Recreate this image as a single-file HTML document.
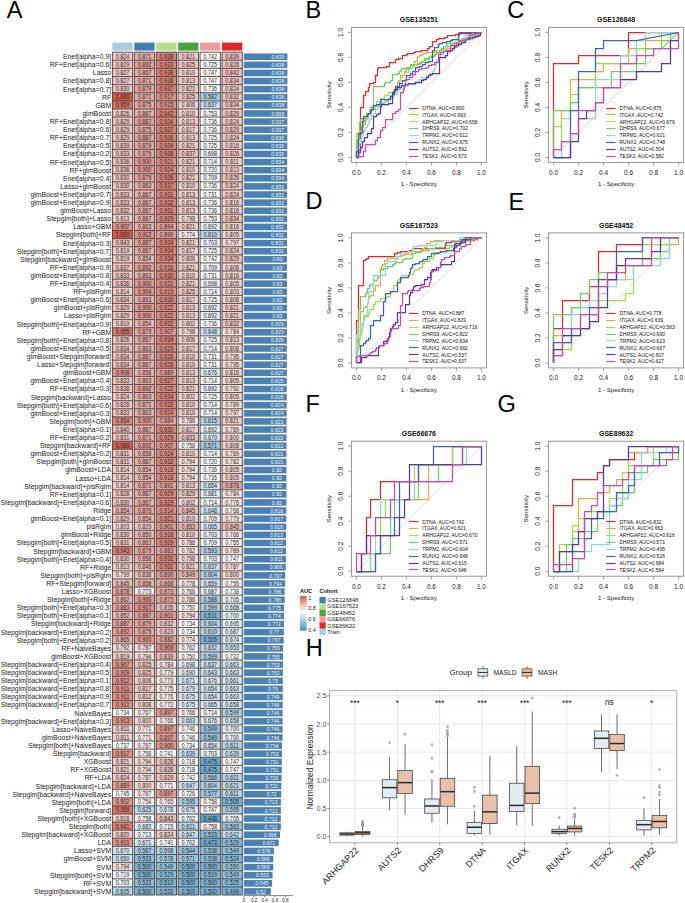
<!DOCTYPE html><html><head><meta charset="utf-8"><title>Figure</title><style>html,body{margin:0;padding:0;background:#fff;width:685px;height:903px;overflow:hidden}svg{display:block}</style></head><body>
<svg width="685" height="903" viewBox="0 0 685 903" font-family='"Liberation Sans", sans-serif'>
<rect width="685" height="903" fill="#fff"/>
<text x="6.7" y="17.8" font-size="23.5" fill="#000">A</text>
<rect x="112.4" y="42.6" width="20.3" height="8" fill="#A6CEE3"/>
<rect x="134.32" y="42.6" width="20.3" height="8" fill="#3F7DB4"/>
<rect x="156.24" y="42.6" width="20.3" height="8" fill="#B2DF8A"/>
<rect x="178.16" y="42.6" width="20.3" height="8" fill="#46A33E"/>
<rect x="200.08" y="42.6" width="20.3" height="8" fill="#F09A9C"/>
<rect x="222" y="42.6" width="20.3" height="8" fill="#DD2A27"/>
<rect x="112.4" y="52.2" width="20.3" height="8.1" fill="#f0cac5"/>
<rect x="134.32" y="52.2" width="20.3" height="8.1" fill="#e7aca5"/>
<rect x="156.24" y="52.2" width="20.3" height="8.1" fill="#db8177"/>
<rect x="178.16" y="52.2" width="20.3" height="8.1" fill="#f0ccc7"/>
<rect x="200.08" y="52.2" width="20.3" height="8.1" fill="#fffefe"/>
<rect x="222" y="52.2" width="20.3" height="8.1" fill="#edc0bb"/>
<rect x="112.4" y="60.3" width="20.3" height="8.1" fill="#efc7c2"/>
<rect x="134.32" y="60.3" width="20.3" height="8.1" fill="#e49f96"/>
<rect x="156.24" y="60.3" width="20.3" height="8.1" fill="#dc857a"/>
<rect x="178.16" y="60.3" width="20.3" height="8.1" fill="#f0c9c4"/>
<rect x="200.08" y="60.3" width="20.3" height="8.1" fill="#f7fafc"/>
<rect x="222" y="60.3" width="20.3" height="8.1" fill="#efc8c4"/>
<rect x="112.4" y="68.41" width="20.3" height="8.1" fill="#efc8c3"/>
<rect x="134.32" y="68.41" width="20.3" height="8.1" fill="#e8aea8"/>
<rect x="156.24" y="68.41" width="20.3" height="8.1" fill="#db8177"/>
<rect x="178.16" y="68.41" width="20.3" height="8.1" fill="#f2d3cf"/>
<rect x="200.08" y="68.41" width="20.3" height="8.1" fill="#fefbfa"/>
<rect x="222" y="68.41" width="20.3" height="8.1" fill="#edbeb9"/>
<rect x="112.4" y="76.51" width="20.3" height="8.1" fill="#efc8c3"/>
<rect x="134.32" y="76.51" width="20.3" height="8.1" fill="#e7aca5"/>
<rect x="156.24" y="76.51" width="20.3" height="8.1" fill="#dc8378"/>
<rect x="178.16" y="76.51" width="20.3" height="8.1" fill="#f2d1cd"/>
<rect x="200.08" y="76.51" width="20.3" height="8.1" fill="#fefbfa"/>
<rect x="222" y="76.51" width="20.3" height="8.1" fill="#eec3be"/>
<rect x="112.4" y="84.62" width="20.3" height="8.1" fill="#efc6c1"/>
<rect x="134.32" y="84.62" width="20.3" height="8.1" fill="#e6a79f"/>
<rect x="156.24" y="84.62" width="20.3" height="8.1" fill="#db8277"/>
<rect x="178.16" y="84.62" width="20.3" height="8.1" fill="#f0ccc7"/>
<rect x="200.08" y="84.62" width="20.3" height="8.1" fill="#fdfefe"/>
<rect x="222" y="84.62" width="20.3" height="8.1" fill="#f0cac5"/>
<rect x="112.4" y="92.72" width="20.3" height="8.1" fill="#D05A4C"/>
<rect x="134.32" y="92.72" width="20.3" height="8.1" fill="#e7aca5"/>
<rect x="156.24" y="92.72" width="20.3" height="8.1" fill="#df8f85"/>
<rect x="178.16" y="92.72" width="20.3" height="8.1" fill="#f0c9c4"/>
<rect x="200.08" y="92.72" width="20.3" height="8.1" fill="#a8cde3"/>
<rect x="222" y="92.72" width="20.3" height="8.1" fill="#eec5c0"/>
<rect x="112.4" y="100.82" width="20.3" height="8.1" fill="#d77468"/>
<rect x="134.32" y="100.82" width="20.3" height="8.1" fill="#e7a9a2"/>
<rect x="156.24" y="100.82" width="20.3" height="8.1" fill="#df9087"/>
<rect x="178.16" y="100.82" width="20.3" height="8.1" fill="#f3d5d2"/>
<rect x="200.08" y="100.82" width="20.3" height="8.1" fill="#c6deed"/>
<rect x="222" y="100.82" width="20.3" height="8.1" fill="#eec3be"/>
<rect x="112.4" y="108.93" width="20.3" height="8.1" fill="#efc8c4"/>
<rect x="134.32" y="108.93" width="20.3" height="8.1" fill="#e8aea8"/>
<rect x="156.24" y="108.93" width="20.3" height="8.1" fill="#da7f74"/>
<rect x="178.16" y="108.93" width="20.3" height="8.1" fill="#f2d3cf"/>
<rect x="200.08" y="108.93" width="20.3" height="8.1" fill="#fdf7f6"/>
<rect x="222" y="108.93" width="20.3" height="8.1" fill="#efc7c2"/>
<rect x="112.4" y="117.03" width="20.3" height="8.1" fill="#efc7c2"/>
<rect x="134.32" y="117.03" width="20.3" height="8.1" fill="#e4a29a"/>
<rect x="156.24" y="117.03" width="20.3" height="8.1" fill="#dc8479"/>
<rect x="178.16" y="117.03" width="20.3" height="8.1" fill="#f2d1cd"/>
<rect x="200.08" y="117.03" width="20.3" height="8.1" fill="#fdfefe"/>
<rect x="222" y="117.03" width="20.3" height="8.1" fill="#f0cac5"/>
<rect x="112.4" y="125.14" width="20.3" height="8.1" fill="#efc7c2"/>
<rect x="134.32" y="125.14" width="20.3" height="8.1" fill="#e7a9a2"/>
<rect x="156.24" y="125.14" width="20.3" height="8.1" fill="#db8277"/>
<rect x="178.16" y="125.14" width="20.3" height="8.1" fill="#f1ceca"/>
<rect x="200.08" y="125.14" width="20.3" height="8.1" fill="#fdfefe"/>
<rect x="222" y="125.14" width="20.3" height="8.1" fill="#efc7c2"/>
<rect x="112.4" y="133.24" width="20.3" height="8.1" fill="#efc7c2"/>
<rect x="134.32" y="133.24" width="20.3" height="8.1" fill="#e4a29a"/>
<rect x="156.24" y="133.24" width="20.3" height="8.1" fill="#dc8378"/>
<rect x="178.16" y="133.24" width="20.3" height="8.1" fill="#f2d1cd"/>
<rect x="200.08" y="133.24" width="20.3" height="8.1" fill="#f7fafc"/>
<rect x="222" y="133.24" width="20.3" height="8.1" fill="#f0cac5"/>
<rect x="112.4" y="141.34" width="20.3" height="8.1" fill="#edc0bb"/>
<rect x="134.32" y="141.34" width="20.3" height="8.1" fill="#e6a79f"/>
<rect x="156.24" y="141.34" width="20.3" height="8.1" fill="#dc8479"/>
<rect x="178.16" y="141.34" width="20.3" height="8.1" fill="#f0ccc7"/>
<rect x="200.08" y="141.34" width="20.3" height="8.1" fill="#f7fafc"/>
<rect x="222" y="141.34" width="20.3" height="8.1" fill="#f1cfcb"/>
<rect x="112.4" y="149.45" width="20.3" height="8.1" fill="#eec4bf"/>
<rect x="134.32" y="149.45" width="20.3" height="8.1" fill="#e7a9a2"/>
<rect x="156.24" y="149.45" width="20.3" height="8.1" fill="#db8177"/>
<rect x="178.16" y="149.45" width="20.3" height="8.1" fill="#edc1bc"/>
<rect x="200.08" y="149.45" width="20.3" height="8.1" fill="#e8f2f8"/>
<rect x="222" y="149.45" width="20.3" height="8.1" fill="#efc8c4"/>
<rect x="112.4" y="157.55" width="20.3" height="8.1" fill="#eec2bd"/>
<rect x="134.32" y="157.55" width="20.3" height="8.1" fill="#e29991"/>
<rect x="156.24" y="157.55" width="20.3" height="8.1" fill="#de8c82"/>
<rect x="178.16" y="157.55" width="20.3" height="8.1" fill="#f0ccc7"/>
<rect x="200.08" y="157.55" width="20.3" height="8.1" fill="#f1f7fa"/>
<rect x="222" y="157.55" width="20.3" height="8.1" fill="#f2d2ce"/>
<rect x="112.4" y="165.66" width="20.3" height="8.1" fill="#eec2bd"/>
<rect x="134.32" y="165.66" width="20.3" height="8.1" fill="#e29991"/>
<rect x="156.24" y="165.66" width="20.3" height="8.1" fill="#de8a80"/>
<rect x="178.16" y="165.66" width="20.3" height="8.1" fill="#f2d3cf"/>
<rect x="200.08" y="165.66" width="20.3" height="8.1" fill="#f4f9fb"/>
<rect x="222" y="165.66" width="20.3" height="8.1" fill="#f2d1cd"/>
<rect x="112.4" y="173.76" width="20.3" height="8.1" fill="#efc6c1"/>
<rect x="134.32" y="173.76" width="20.3" height="8.1" fill="#e6a79f"/>
<rect x="156.24" y="173.76" width="20.3" height="8.1" fill="#dc8378"/>
<rect x="178.16" y="173.76" width="20.3" height="8.1" fill="#f0ccc7"/>
<rect x="200.08" y="173.76" width="20.3" height="8.1" fill="#eef5fa"/>
<rect x="222" y="173.76" width="20.3" height="8.1" fill="#efc8c4"/>
<rect x="112.4" y="181.86" width="20.3" height="8.1" fill="#efc6c1"/>
<rect x="134.32" y="181.86" width="20.3" height="8.1" fill="#e9b1aa"/>
<rect x="156.24" y="181.86" width="20.3" height="8.1" fill="#db8277"/>
<rect x="178.16" y="181.86" width="20.3" height="8.1" fill="#f2d3cf"/>
<rect x="200.08" y="181.86" width="20.3" height="8.1" fill="#fdfefe"/>
<rect x="222" y="181.86" width="20.3" height="8.1" fill="#f0cac5"/>
<rect x="112.4" y="189.97" width="20.3" height="8.1" fill="#eec4bf"/>
<rect x="134.32" y="189.97" width="20.3" height="8.1" fill="#e8aea8"/>
<rect x="156.24" y="189.97" width="20.3" height="8.1" fill="#dc867c"/>
<rect x="178.16" y="189.97" width="20.3" height="8.1" fill="#f2d1cd"/>
<rect x="200.08" y="189.97" width="20.3" height="8.1" fill="#fafcfd"/>
<rect x="222" y="189.97" width="20.3" height="8.1" fill="#f0cac5"/>
<rect x="112.4" y="198.07" width="20.3" height="8.1" fill="#eec4bf"/>
<rect x="134.32" y="198.07" width="20.3" height="8.1" fill="#e8aea8"/>
<rect x="156.24" y="198.07" width="20.3" height="8.1" fill="#dc857b"/>
<rect x="178.16" y="198.07" width="20.3" height="8.1" fill="#f2d1cd"/>
<rect x="200.08" y="198.07" width="20.3" height="8.1" fill="#fdfefe"/>
<rect x="222" y="198.07" width="20.3" height="8.1" fill="#f1cfcb"/>
<rect x="112.4" y="206.18" width="20.3" height="8.1" fill="#eec5c0"/>
<rect x="134.32" y="206.18" width="20.3" height="8.1" fill="#e8aea8"/>
<rect x="156.24" y="206.18" width="20.3" height="8.1" fill="#dc867c"/>
<rect x="178.16" y="206.18" width="20.3" height="8.1" fill="#f2d1cd"/>
<rect x="200.08" y="206.18" width="20.3" height="8.1" fill="#fdfefe"/>
<rect x="222" y="206.18" width="20.3" height="8.1" fill="#f1cfcb"/>
<rect x="112.4" y="214.28" width="20.3" height="8.1" fill="#f2d1cd"/>
<rect x="134.32" y="214.28" width="20.3" height="8.1" fill="#e8aea8"/>
<rect x="156.24" y="214.28" width="20.3" height="8.1" fill="#dd877d"/>
<rect x="178.16" y="214.28" width="20.3" height="8.1" fill="#f5dad7"/>
<rect x="200.08" y="214.28" width="20.3" height="8.1" fill="#fdf7f6"/>
<rect x="222" y="214.28" width="20.3" height="8.1" fill="#eec3be"/>
<rect x="112.4" y="222.38" width="20.3" height="8.1" fill="#e1958c"/>
<rect x="134.32" y="222.38" width="20.3" height="8.1" fill="#e9b1aa"/>
<rect x="156.24" y="222.38" width="20.3" height="8.1" fill="#e39d95"/>
<rect x="178.16" y="222.38" width="20.3" height="8.1" fill="#f0ccc7"/>
<rect x="200.08" y="222.38" width="20.3" height="8.1" fill="#e4f0f7"/>
<rect x="222" y="222.38" width="20.3" height="8.1" fill="#f1cfcb"/>
<rect x="112.4" y="230.49" width="20.3" height="8.1" fill="#D05A4C"/>
<rect x="134.32" y="230.49" width="20.3" height="8.1" fill="#e09289"/>
<rect x="156.24" y="230.49" width="20.3" height="8.1" fill="#e4a098"/>
<rect x="178.16" y="230.49" width="20.3" height="8.1" fill="#f9e9e8"/>
<rect x="200.08" y="230.49" width="20.3" height="8.1" fill="#b7d6e8"/>
<rect x="222" y="230.49" width="20.3" height="8.1" fill="#f3d6d2"/>
<rect x="112.4" y="238.59" width="20.3" height="8.1" fill="#ecbeb8"/>
<rect x="134.32" y="238.59" width="20.3" height="8.1" fill="#e4a29a"/>
<rect x="156.24" y="238.59" width="20.3" height="8.1" fill="#dc8479"/>
<rect x="178.16" y="238.59" width="20.3" height="8.1" fill="#f0ccc7"/>
<rect x="200.08" y="238.59" width="20.3" height="8.1" fill="#ebf3f8"/>
<rect x="222" y="238.59" width="20.3" height="8.1" fill="#f5dbd8"/>
<rect x="112.4" y="246.7" width="20.3" height="8.1" fill="#f1cdc9"/>
<rect x="134.32" y="246.7" width="20.3" height="8.1" fill="#e8aea8"/>
<rect x="156.24" y="246.7" width="20.3" height="8.1" fill="#dc8479"/>
<rect x="178.16" y="246.7" width="20.3" height="8.1" fill="#f1ceca"/>
<rect x="200.08" y="246.7" width="20.3" height="8.1" fill="#f7fafc"/>
<rect x="222" y="246.7" width="20.3" height="8.1" fill="#f0cac5"/>
<rect x="112.4" y="254.8" width="20.3" height="8.1" fill="#f1cdc9"/>
<rect x="134.32" y="254.8" width="20.3" height="8.1" fill="#eab7b1"/>
<rect x="156.24" y="254.8" width="20.3" height="8.1" fill="#dc8479"/>
<rect x="178.16" y="254.8" width="20.3" height="8.1" fill="#f3d5d2"/>
<rect x="200.08" y="254.8" width="20.3" height="8.1" fill="#fffefe"/>
<rect x="222" y="254.8" width="20.3" height="8.1" fill="#efc7c2"/>
<rect x="112.4" y="262.9" width="20.3" height="8.1" fill="#edc1bc"/>
<rect x="134.32" y="262.9" width="20.3" height="8.1" fill="#e49f96"/>
<rect x="156.24" y="262.9" width="20.3" height="8.1" fill="#df8f86"/>
<rect x="178.16" y="262.9" width="20.3" height="8.1" fill="#f0ccc7"/>
<rect x="200.08" y="262.9" width="20.3" height="8.1" fill="#eef5fa"/>
<rect x="222" y="262.9" width="20.3" height="8.1" fill="#f3d4d0"/>
<rect x="112.4" y="271.01" width="20.3" height="8.1" fill="#eec4bf"/>
<rect x="134.32" y="271.01" width="20.3" height="8.1" fill="#e9b1aa"/>
<rect x="156.24" y="271.01" width="20.3" height="8.1" fill="#dd867c"/>
<rect x="178.16" y="271.01" width="20.3" height="8.1" fill="#f2d3cf"/>
<rect x="200.08" y="271.01" width="20.3" height="8.1" fill="#fafcfd"/>
<rect x="222" y="271.01" width="20.3" height="8.1" fill="#f1cfcb"/>
<rect x="112.4" y="279.11" width="20.3" height="8.1" fill="#eec2bd"/>
<rect x="134.32" y="279.11" width="20.3" height="8.1" fill="#e29991"/>
<rect x="156.24" y="279.11" width="20.3" height="8.1" fill="#de8c82"/>
<rect x="178.16" y="279.11" width="20.3" height="8.1" fill="#f0ccc7"/>
<rect x="200.08" y="279.11" width="20.3" height="8.1" fill="#e8f2f8"/>
<rect x="222" y="279.11" width="20.3" height="8.1" fill="#f3d6d2"/>
<rect x="112.4" y="287.22" width="20.3" height="8.1" fill="#f2d0cc"/>
<rect x="134.32" y="287.22" width="20.3" height="8.1" fill="#e1978e"/>
<rect x="156.24" y="287.22" width="20.3" height="8.1" fill="#df8d84"/>
<rect x="178.16" y="287.22" width="20.3" height="8.1" fill="#f0c9c4"/>
<rect x="200.08" y="287.22" width="20.3" height="8.1" fill="#f1f7fa"/>
<rect x="222" y="287.22" width="20.3" height="8.1" fill="#f4d7d4"/>
<rect x="112.4" y="295.32" width="20.3" height="8.1" fill="#eec3be"/>
<rect x="134.32" y="295.32" width="20.3" height="8.1" fill="#e9b1aa"/>
<rect x="156.24" y="295.32" width="20.3" height="8.1" fill="#dd867c"/>
<rect x="178.16" y="295.32" width="20.3" height="8.1" fill="#f1ceca"/>
<rect x="200.08" y="295.32" width="20.3" height="8.1" fill="#f7fafc"/>
<rect x="222" y="295.32" width="20.3" height="8.1" fill="#f3d4d0"/>
<rect x="112.4" y="303.42" width="20.3" height="8.1" fill="#efc7c2"/>
<rect x="134.32" y="303.42" width="20.3" height="8.1" fill="#e29991"/>
<rect x="156.24" y="303.42" width="20.3" height="8.1" fill="#de8b82"/>
<rect x="178.16" y="303.42" width="20.3" height="8.1" fill="#f2d1cd"/>
<rect x="200.08" y="303.42" width="20.3" height="8.1" fill="#e4f0f7"/>
<rect x="222" y="303.42" width="20.3" height="8.1" fill="#f0ccc7"/>
<rect x="112.4" y="311.53" width="20.3" height="8.1" fill="#efc7c2"/>
<rect x="134.32" y="311.53" width="20.3" height="8.1" fill="#e29991"/>
<rect x="156.24" y="311.53" width="20.3" height="8.1" fill="#de8b82"/>
<rect x="178.16" y="311.53" width="20.3" height="8.1" fill="#f2d1cd"/>
<rect x="200.08" y="311.53" width="20.3" height="8.1" fill="#e4f0f7"/>
<rect x="222" y="311.53" width="20.3" height="8.1" fill="#f0ccc7"/>
<rect x="112.4" y="319.63" width="20.3" height="8.1" fill="#f1cdc9"/>
<rect x="134.32" y="319.63" width="20.3" height="8.1" fill="#eab7b1"/>
<rect x="156.24" y="319.63" width="20.3" height="8.1" fill="#dc857b"/>
<rect x="178.16" y="319.63" width="20.3" height="8.1" fill="#f4d8d4"/>
<rect x="200.08" y="319.63" width="20.3" height="8.1" fill="#fdfefe"/>
<rect x="222" y="319.63" width="20.3" height="8.1" fill="#eec5c0"/>
<rect x="112.4" y="327.74" width="20.3" height="8.1" fill="#d8776b"/>
<rect x="134.32" y="327.74" width="20.3" height="8.1" fill="#e6a79f"/>
<rect x="156.24" y="327.74" width="20.3" height="8.1" fill="#e1958c"/>
<rect x="178.16" y="327.74" width="20.3" height="8.1" fill="#f5dad7"/>
<rect x="200.08" y="327.74" width="20.3" height="8.1" fill="#cce2ef"/>
<rect x="222" y="327.74" width="20.3" height="8.1" fill="#f7e3e1"/>
<rect x="112.4" y="335.84" width="20.3" height="8.1" fill="#efc8c4"/>
<rect x="134.32" y="335.84" width="20.3" height="8.1" fill="#e8aea8"/>
<rect x="156.24" y="335.84" width="20.3" height="8.1" fill="#dc8479"/>
<rect x="178.16" y="335.84" width="20.3" height="8.1" fill="#f3d5d2"/>
<rect x="200.08" y="335.84" width="20.3" height="8.1" fill="#f7fafc"/>
<rect x="222" y="335.84" width="20.3" height="8.1" fill="#f2d1cd"/>
<rect x="112.4" y="343.94" width="20.3" height="8.1" fill="#eec3be"/>
<rect x="134.32" y="343.94" width="20.3" height="8.1" fill="#e9b1aa"/>
<rect x="156.24" y="343.94" width="20.3" height="8.1" fill="#dd877d"/>
<rect x="178.16" y="343.94" width="20.3" height="8.1" fill="#f1ceca"/>
<rect x="200.08" y="343.94" width="20.3" height="8.1" fill="#f1f7fa"/>
<rect x="222" y="343.94" width="20.3" height="8.1" fill="#f3d4d0"/>
<rect x="112.4" y="352.05" width="20.3" height="8.1" fill="#eec3be"/>
<rect x="134.32" y="352.05" width="20.3" height="8.1" fill="#e8aea8"/>
<rect x="156.24" y="352.05" width="20.3" height="8.1" fill="#dd897f"/>
<rect x="178.16" y="352.05" width="20.3" height="8.1" fill="#f2d3cf"/>
<rect x="200.08" y="352.05" width="20.3" height="8.1" fill="#fafcfd"/>
<rect x="222" y="352.05" width="20.3" height="8.1" fill="#f5dcd9"/>
<rect x="112.4" y="360.15" width="20.3" height="8.1" fill="#eec3be"/>
<rect x="134.32" y="360.15" width="20.3" height="8.1" fill="#e8aea8"/>
<rect x="156.24" y="360.15" width="20.3" height="8.1" fill="#dd897f"/>
<rect x="178.16" y="360.15" width="20.3" height="8.1" fill="#f2d3cf"/>
<rect x="200.08" y="360.15" width="20.3" height="8.1" fill="#fafcfd"/>
<rect x="222" y="360.15" width="20.3" height="8.1" fill="#f5dcd9"/>
<rect x="112.4" y="368.26" width="20.3" height="8.1" fill="#e1948b"/>
<rect x="134.32" y="368.26" width="20.3" height="8.1" fill="#eab4ae"/>
<rect x="156.24" y="368.26" width="20.3" height="8.1" fill="#e4a098"/>
<rect x="178.16" y="368.26" width="20.3" height="8.1" fill="#f2d1cd"/>
<rect x="200.08" y="368.26" width="20.3" height="8.1" fill="#dcebf4"/>
<rect x="222" y="368.26" width="20.3" height="8.1" fill="#f1cfcb"/>
<rect x="112.4" y="376.36" width="20.3" height="8.1" fill="#eec4bf"/>
<rect x="134.32" y="376.36" width="20.3" height="8.1" fill="#e9b1aa"/>
<rect x="156.24" y="376.36" width="20.3" height="8.1" fill="#dd887e"/>
<rect x="178.16" y="376.36" width="20.3" height="8.1" fill="#f2d1cd"/>
<rect x="200.08" y="376.36" width="20.3" height="8.1" fill="#f1f7fa"/>
<rect x="222" y="376.36" width="20.3" height="8.1" fill="#f3d6d2"/>
<rect x="112.4" y="384.46" width="20.3" height="8.1" fill="#edc1bc"/>
<rect x="134.32" y="384.46" width="20.3" height="8.1" fill="#e49f96"/>
<rect x="156.24" y="384.46" width="20.3" height="8.1" fill="#de8b82"/>
<rect x="178.16" y="384.46" width="20.3" height="8.1" fill="#f0ccc7"/>
<rect x="200.08" y="384.46" width="20.3" height="8.1" fill="#e4f0f7"/>
<rect x="222" y="384.46" width="20.3" height="8.1" fill="#f6dedb"/>
<rect x="112.4" y="392.57" width="20.3" height="8.1" fill="#f0cac5"/>
<rect x="134.32" y="392.57" width="20.3" height="8.1" fill="#e9b1aa"/>
<rect x="156.24" y="392.57" width="20.3" height="8.1" fill="#dc8479"/>
<rect x="178.16" y="392.57" width="20.3" height="8.1" fill="#f4d8d4"/>
<rect x="200.08" y="392.57" width="20.3" height="8.1" fill="#f7fafc"/>
<rect x="222" y="392.57" width="20.3" height="8.1" fill="#f3d6d2"/>
<rect x="112.4" y="400.67" width="20.3" height="8.1" fill="#efc7c2"/>
<rect x="134.32" y="400.67" width="20.3" height="8.1" fill="#e7aca5"/>
<rect x="156.24" y="400.67" width="20.3" height="8.1" fill="#dc857b"/>
<rect x="178.16" y="400.67" width="20.3" height="8.1" fill="#f2d3cf"/>
<rect x="200.08" y="400.67" width="20.3" height="8.1" fill="#f1f7fa"/>
<rect x="222" y="400.67" width="20.3" height="8.1" fill="#f6e0dd"/>
<rect x="112.4" y="408.78" width="20.3" height="8.1" fill="#eec4bf"/>
<rect x="134.32" y="408.78" width="20.3" height="8.1" fill="#e9b1aa"/>
<rect x="156.24" y="408.78" width="20.3" height="8.1" fill="#de8a80"/>
<rect x="178.16" y="408.78" width="20.3" height="8.1" fill="#f2d3cf"/>
<rect x="200.08" y="408.78" width="20.3" height="8.1" fill="#f1f7fa"/>
<rect x="222" y="408.78" width="20.3" height="8.1" fill="#f5dbd8"/>
<rect x="112.4" y="416.88" width="20.3" height="8.1" fill="#dc8479"/>
<rect x="134.32" y="416.88" width="20.3" height="8.1" fill="#e29991"/>
<rect x="156.24" y="416.88" width="20.3" height="8.1" fill="#e5a49c"/>
<rect x="178.16" y="416.88" width="20.3" height="8.1" fill="#f7e2df"/>
<rect x="200.08" y="416.88" width="20.3" height="8.1" fill="#bad7e9"/>
<rect x="222" y="416.88" width="20.3" height="8.1" fill="#f0ccc7"/>
<rect x="112.4" y="424.98" width="20.3" height="8.1" fill="#edc0ba"/>
<rect x="134.32" y="424.98" width="20.3" height="8.1" fill="#e8aea8"/>
<rect x="156.24" y="424.98" width="20.3" height="8.1" fill="#dd867c"/>
<rect x="178.16" y="424.98" width="20.3" height="8.1" fill="#f1ceca"/>
<rect x="200.08" y="424.98" width="20.3" height="8.1" fill="#e4f0f7"/>
<rect x="222" y="424.98" width="20.3" height="8.1" fill="#f6e0dd"/>
<rect x="112.4" y="433.09" width="20.3" height="8.1" fill="#efc5c0"/>
<rect x="134.32" y="433.09" width="20.3" height="8.1" fill="#e7aca5"/>
<rect x="156.24" y="433.09" width="20.3" height="8.1" fill="#dd877d"/>
<rect x="178.16" y="433.09" width="20.3" height="8.1" fill="#eec4bf"/>
<rect x="200.08" y="433.09" width="20.3" height="8.1" fill="#d8e9f3"/>
<rect x="222" y="433.09" width="20.3" height="8.1" fill="#f4d9d6"/>
<rect x="112.4" y="441.19" width="20.3" height="8.1" fill="#d26154"/>
<rect x="134.32" y="441.19" width="20.3" height="8.1" fill="#e49f96"/>
<rect x="156.24" y="441.19" width="20.3" height="8.1" fill="#e1958c"/>
<rect x="178.16" y="441.19" width="20.3" height="8.1" fill="#fcf4f3"/>
<rect x="200.08" y="441.19" width="20.3" height="8.1" fill="#a2c9e1"/>
<rect x="222" y="441.19" width="20.3" height="8.1" fill="#f3d4d0"/>
<rect x="112.4" y="449.3" width="20.3" height="8.1" fill="#efc5c0"/>
<rect x="134.32" y="449.3" width="20.3" height="8.1" fill="#eab4ae"/>
<rect x="156.24" y="449.3" width="20.3" height="8.1" fill="#de8a80"/>
<rect x="178.16" y="449.3" width="20.3" height="8.1" fill="#f2d3cf"/>
<rect x="200.08" y="449.3" width="20.3" height="8.1" fill="#f1f7fa"/>
<rect x="222" y="449.3" width="20.3" height="8.1" fill="#f6e0dd"/>
<rect x="112.4" y="457.4" width="20.3" height="8.1" fill="#efc5c0"/>
<rect x="134.32" y="457.4" width="20.3" height="8.1" fill="#e8aea8"/>
<rect x="156.24" y="457.4" width="20.3" height="8.1" fill="#dc857b"/>
<rect x="178.16" y="457.4" width="20.3" height="8.1" fill="#f5ddda"/>
<rect x="200.08" y="457.4" width="20.3" height="8.1" fill="#f4f9fb"/>
<rect x="222" y="457.4" width="20.3" height="8.1" fill="#f7e4e2"/>
<rect x="112.4" y="465.5" width="20.3" height="8.1" fill="#f2d0cc"/>
<rect x="134.32" y="465.5" width="20.3" height="8.1" fill="#eab7b1"/>
<rect x="156.24" y="465.5" width="20.3" height="8.1" fill="#df8e84"/>
<rect x="178.16" y="465.5" width="20.3" height="8.1" fill="#f5ddda"/>
<rect x="200.08" y="465.5" width="20.3" height="8.1" fill="#fdfefe"/>
<rect x="222" y="465.5" width="20.3" height="8.1" fill="#f3d6d2"/>
<rect x="112.4" y="473.61" width="20.3" height="8.1" fill="#f2d0cc"/>
<rect x="134.32" y="473.61" width="20.3" height="8.1" fill="#eab7b1"/>
<rect x="156.24" y="473.61" width="20.3" height="8.1" fill="#df8e84"/>
<rect x="178.16" y="473.61" width="20.3" height="8.1" fill="#f5ddda"/>
<rect x="200.08" y="473.61" width="20.3" height="8.1" fill="#fdfefe"/>
<rect x="222" y="473.61" width="20.3" height="8.1" fill="#f3d6d2"/>
<rect x="112.4" y="481.71" width="20.3" height="8.1" fill="#f2d0cc"/>
<rect x="134.32" y="481.71" width="20.3" height="8.1" fill="#e7aca5"/>
<rect x="156.24" y="481.71" width="20.3" height="8.1" fill="#e49f97"/>
<rect x="178.16" y="481.71" width="20.3" height="8.1" fill="#f2d1cd"/>
<rect x="200.08" y="481.71" width="20.3" height="8.1" fill="#cfe4f0"/>
<rect x="222" y="481.71" width="20.3" height="8.1" fill="#e6a9a1"/>
<rect x="112.4" y="489.82" width="20.3" height="8.1" fill="#efc7c2"/>
<rect x="134.32" y="489.82" width="20.3" height="8.1" fill="#e8aea8"/>
<rect x="156.24" y="489.82" width="20.3" height="8.1" fill="#dd877d"/>
<rect x="178.16" y="489.82" width="20.3" height="8.1" fill="#efc7c2"/>
<rect x="200.08" y="489.82" width="20.3" height="8.1" fill="#deecf5"/>
<rect x="222" y="489.82" width="20.3" height="8.1" fill="#f7e3e1"/>
<rect x="112.4" y="497.92" width="20.3" height="8.1" fill="#efc6c1"/>
<rect x="134.32" y="497.92" width="20.3" height="8.1" fill="#e8aea8"/>
<rect x="156.24" y="497.92" width="20.3" height="8.1" fill="#dd877d"/>
<rect x="178.16" y="497.92" width="20.3" height="8.1" fill="#f4d8d4"/>
<rect x="200.08" y="497.92" width="20.3" height="8.1" fill="#f1f7fa"/>
<rect x="222" y="497.92" width="20.3" height="8.1" fill="#f8e8e6"/>
<rect x="112.4" y="506.02" width="20.3" height="8.1" fill="#eab7b1"/>
<rect x="134.32" y="506.02" width="20.3" height="8.1" fill="#e6a79f"/>
<rect x="156.24" y="506.02" width="20.3" height="8.1" fill="#e09187"/>
<rect x="178.16" y="506.02" width="20.3" height="8.1" fill="#ecbcb7"/>
<rect x="200.08" y="506.02" width="20.3" height="8.1" fill="#cce2ef"/>
<rect x="222" y="506.02" width="20.3" height="8.1" fill="#faedec"/>
<rect x="112.4" y="514.13" width="20.3" height="8.1" fill="#efc7c2"/>
<rect x="134.32" y="514.13" width="20.3" height="8.1" fill="#eab7b1"/>
<rect x="156.24" y="514.13" width="20.3" height="8.1" fill="#de8c82"/>
<rect x="178.16" y="514.13" width="20.3" height="8.1" fill="#f2d3cf"/>
<rect x="200.08" y="514.13" width="20.3" height="8.1" fill="#eef5fa"/>
<rect x="222" y="514.13" width="20.3" height="8.1" fill="#f8e6e4"/>
<rect x="112.4" y="522.23" width="20.3" height="8.1" fill="#f4d7d4"/>
<rect x="134.32" y="522.23" width="20.3" height="8.1" fill="#efc7c2"/>
<rect x="156.24" y="522.23" width="20.3" height="8.1" fill="#e29990"/>
<rect x="178.16" y="522.23" width="20.3" height="8.1" fill="#ebb7b1"/>
<rect x="200.08" y="522.23" width="20.3" height="8.1" fill="#d6e7f2"/>
<rect x="222" y="522.23" width="20.3" height="8.1" fill="#ecbcb7"/>
<rect x="112.4" y="530.34" width="20.3" height="8.1" fill="#efc6c1"/>
<rect x="134.32" y="530.34" width="20.3" height="8.1" fill="#ebb9b3"/>
<rect x="156.24" y="530.34" width="20.3" height="8.1" fill="#df8e84"/>
<rect x="178.16" y="530.34" width="20.3" height="8.1" fill="#f2d3cf"/>
<rect x="200.08" y="530.34" width="20.3" height="8.1" fill="#ebf3f8"/>
<rect x="222" y="530.34" width="20.3" height="8.1" fill="#faedec"/>
<rect x="112.4" y="538.44" width="20.3" height="8.1" fill="#efc5c0"/>
<rect x="134.32" y="538.44" width="20.3" height="8.1" fill="#e9b1aa"/>
<rect x="156.24" y="538.44" width="20.3" height="8.1" fill="#dd877d"/>
<rect x="178.16" y="538.44" width="20.3" height="8.1" fill="#f7e2df"/>
<rect x="200.08" y="538.44" width="20.3" height="8.1" fill="#eef5fa"/>
<rect x="222" y="538.44" width="20.3" height="8.1" fill="#fcf5f5"/>
<rect x="112.4" y="546.54" width="20.3" height="8.1" fill="#da7e73"/>
<rect x="134.32" y="546.54" width="20.3" height="8.1" fill="#e6a79f"/>
<rect x="156.24" y="546.54" width="20.3" height="8.1" fill="#e5a49d"/>
<rect x="178.16" y="546.54" width="20.3" height="8.1" fill="#f7e4e2"/>
<rect x="200.08" y="546.54" width="20.3" height="8.1" fill="#aed0e5"/>
<rect x="222" y="546.54" width="20.3" height="8.1" fill="#f6e0dd"/>
<rect x="112.4" y="554.65" width="20.3" height="8.1" fill="#efc6c1"/>
<rect x="134.32" y="554.65" width="20.3" height="8.1" fill="#eab4ae"/>
<rect x="156.24" y="554.65" width="20.3" height="8.1" fill="#dc867c"/>
<rect x="178.16" y="554.65" width="20.3" height="8.1" fill="#f5dad7"/>
<rect x="200.08" y="554.65" width="20.3" height="8.1" fill="#ebf3f8"/>
<rect x="222" y="554.65" width="20.3" height="8.1" fill="#fefbfa"/>
<rect x="112.4" y="562.75" width="20.3" height="8.1" fill="#f2d1cd"/>
<rect x="134.32" y="562.75" width="20.3" height="8.1" fill="#ecbcb6"/>
<rect x="156.24" y="562.75" width="20.3" height="8.1" fill="#dc867c"/>
<rect x="178.16" y="562.75" width="20.3" height="8.1" fill="#f0ccc7"/>
<rect x="200.08" y="562.75" width="20.3" height="8.1" fill="#c6deed"/>
<rect x="222" y="562.75" width="20.3" height="8.1" fill="#f7e1df"/>
<rect x="112.4" y="570.86" width="20.3" height="8.1" fill="#f4dad6"/>
<rect x="134.32" y="570.86" width="20.3" height="8.1" fill="#edc1bc"/>
<rect x="156.24" y="570.86" width="20.3" height="8.1" fill="#e4a098"/>
<rect x="178.16" y="570.86" width="20.3" height="8.1" fill="#ebbab4"/>
<rect x="200.08" y="570.86" width="20.3" height="8.1" fill="#b4d4e7"/>
<rect x="222" y="570.86" width="20.3" height="8.1" fill="#f4d9d6"/>
<rect x="112.4" y="578.96" width="20.3" height="8.1" fill="#ecbcb7"/>
<rect x="134.32" y="578.96" width="20.3" height="8.1" fill="#eab4ae"/>
<rect x="156.24" y="578.96" width="20.3" height="8.1" fill="#e8aea7"/>
<rect x="178.16" y="578.96" width="20.3" height="8.1" fill="#f8e7e5"/>
<rect x="200.08" y="578.96" width="20.3" height="8.1" fill="#d2e5f1"/>
<rect x="222" y="578.96" width="20.3" height="8.1" fill="#fcf5f5"/>
<rect x="112.4" y="587.06" width="20.3" height="8.1" fill="#e6a7a0"/>
<rect x="134.32" y="587.06" width="20.3" height="8.1" fill="#f9eae8"/>
<rect x="156.24" y="587.06" width="20.3" height="8.1" fill="#e7aba3"/>
<rect x="178.16" y="587.06" width="20.3" height="8.1" fill="#faeeed"/>
<rect x="200.08" y="587.06" width="20.3" height="8.1" fill="#e2eef6"/>
<rect x="222" y="587.06" width="20.3" height="8.1" fill="#fefeff"/>
<rect x="112.4" y="595.17" width="20.3" height="8.1" fill="#e9b2ab"/>
<rect x="134.32" y="595.17" width="20.3" height="8.1" fill="#e29991"/>
<rect x="156.24" y="595.17" width="20.3" height="8.1" fill="#e7aba3"/>
<rect x="178.16" y="595.17" width="20.3" height="8.1" fill="#f7e2df"/>
<rect x="200.08" y="595.17" width="20.3" height="8.1" fill="#abcfe4"/>
<rect x="222" y="595.17" width="20.3" height="8.1" fill="#ecf4f9"/>
<rect x="112.4" y="603.27" width="20.3" height="8.1" fill="#e5a49d"/>
<rect x="134.32" y="603.27" width="20.3" height="8.1" fill="#df8f85"/>
<rect x="156.24" y="603.27" width="20.3" height="8.1" fill="#eec3be"/>
<rect x="178.16" y="603.27" width="20.3" height="8.1" fill="#fdf9f8"/>
<rect x="200.08" y="603.27" width="20.3" height="8.1" fill="#b1d2e6"/>
<rect x="222" y="603.27" width="20.3" height="8.1" fill="#d7e8f2"/>
<rect x="112.4" y="611.38" width="20.3" height="8.1" fill="#ebb8b2"/>
<rect x="134.32" y="611.38" width="20.3" height="8.1" fill="#e4a29a"/>
<rect x="156.24" y="611.38" width="20.3" height="8.1" fill="#e29990"/>
<rect x="178.16" y="611.38" width="20.3" height="8.1" fill="#f5ddda"/>
<rect x="200.08" y="611.38" width="20.3" height="8.1" fill="#80b6d7"/>
<rect x="222" y="611.38" width="20.3" height="8.1" fill="#e9f2f8"/>
<rect x="112.4" y="619.48" width="20.3" height="8.1" fill="#e4a29a"/>
<rect x="134.32" y="619.48" width="20.3" height="8.1" fill="#e6a79f"/>
<rect x="156.24" y="619.48" width="20.3" height="8.1" fill="#eec5c0"/>
<rect x="178.16" y="619.48" width="20.3" height="8.1" fill="#fcfdfe"/>
<rect x="200.08" y="619.48" width="20.3" height="8.1" fill="#b4d4e7"/>
<rect x="222" y="619.48" width="20.3" height="8.1" fill="#e6f1f7"/>
<rect x="112.4" y="627.58" width="20.3" height="8.1" fill="#e49f96"/>
<rect x="134.32" y="627.58" width="20.3" height="8.1" fill="#e7a9a2"/>
<rect x="156.24" y="627.58" width="20.3" height="8.1" fill="#f0cac6"/>
<rect x="178.16" y="627.58" width="20.3" height="8.1" fill="#fcfdfe"/>
<rect x="200.08" y="627.58" width="20.3" height="8.1" fill="#b7d6e8"/>
<rect x="222" y="627.58" width="20.3" height="8.1" fill="#e2eef6"/>
<rect x="112.4" y="635.69" width="20.3" height="8.1" fill="#e8b0a9"/>
<rect x="134.32" y="635.69" width="20.3" height="8.1" fill="#e29991"/>
<rect x="156.24" y="635.69" width="20.3" height="8.1" fill="#e5a59d"/>
<rect x="178.16" y="635.69" width="20.3" height="8.1" fill="#f9e9e8"/>
<rect x="200.08" y="635.69" width="20.3" height="8.1" fill="#7db4d6"/>
<rect x="222" y="635.69" width="20.3" height="8.1" fill="#dbeaf3"/>
<rect x="112.4" y="643.79" width="20.3" height="8.1" fill="#f6dedb"/>
<rect x="134.32" y="643.79" width="20.3" height="8.1" fill="#f7e1df"/>
<rect x="156.24" y="643.79" width="20.3" height="8.1" fill="#e0948b"/>
<rect x="178.16" y="643.79" width="20.3" height="8.1" fill="#fbf1f0"/>
<rect x="200.08" y="643.79" width="20.3" height="8.1" fill="#c3ddec"/>
<rect x="222" y="643.79" width="20.3" height="8.1" fill="#cfe3f0"/>
<rect x="112.4" y="651.9" width="20.3" height="8.1" fill="#f1cdc9"/>
<rect x="134.32" y="651.9" width="20.3" height="8.1" fill="#f5ddda"/>
<rect x="156.24" y="651.9" width="20.3" height="8.1" fill="#edc0bb"/>
<rect x="178.16" y="651.9" width="20.3" height="8.1" fill="#fdf9f8"/>
<rect x="200.08" y="651.9" width="20.3" height="8.1" fill="#b1d2e6"/>
<rect x="222" y="651.9" width="20.3" height="8.1" fill="#fbfcfe"/>
<rect x="112.4" y="660" width="20.3" height="8.1" fill="#e1958c"/>
<rect x="134.32" y="660" width="20.3" height="8.1" fill="#f0c9c4"/>
<rect x="156.24" y="660" width="20.3" height="8.1" fill="#f7e3e1"/>
<rect x="178.16" y="660" width="20.3" height="8.1" fill="#e8f2f8"/>
<rect x="200.08" y="660" width="20.3" height="8.1" fill="#c6deed"/>
<rect x="222" y="660" width="20.3" height="8.1" fill="#d4e7f1"/>
<rect x="112.4" y="668.1" width="20.3" height="8.1" fill="#e0948b"/>
<rect x="134.32" y="668.1" width="20.3" height="8.1" fill="#f0c9c4"/>
<rect x="156.24" y="668.1" width="20.3" height="8.1" fill="#f8e6e4"/>
<rect x="178.16" y="668.1" width="20.3" height="8.1" fill="#e3eff6"/>
<rect x="200.08" y="668.1" width="20.3" height="8.1" fill="#c9e0ee"/>
<rect x="222" y="668.1" width="20.3" height="8.1" fill="#d4e7f1"/>
<rect x="112.4" y="676.21" width="20.3" height="8.1" fill="#e09289"/>
<rect x="134.32" y="676.21" width="20.3" height="8.1" fill="#f3d4d0"/>
<rect x="156.24" y="676.21" width="20.3" height="8.1" fill="#f9eae8"/>
<rect x="178.16" y="676.21" width="20.3" height="8.1" fill="#d9e9f3"/>
<rect x="200.08" y="676.21" width="20.3" height="8.1" fill="#dcebf4"/>
<rect x="222" y="676.21" width="20.3" height="8.1" fill="#d3e6f1"/>
<rect x="112.4" y="684.31" width="20.3" height="8.1" fill="#e09289"/>
<rect x="134.32" y="684.31" width="20.3" height="8.1" fill="#f1ceca"/>
<rect x="156.24" y="684.31" width="20.3" height="8.1" fill="#f9e9e7"/>
<rect x="178.16" y="684.31" width="20.3" height="8.1" fill="#ddecf4"/>
<rect x="200.08" y="684.31" width="20.3" height="8.1" fill="#cfe4f0"/>
<rect x="222" y="684.31" width="20.3" height="8.1" fill="#d4e7f1"/>
<rect x="112.4" y="692.42" width="20.3" height="8.1" fill="#e09289"/>
<rect x="134.32" y="692.42" width="20.3" height="8.1" fill="#f2d1cd"/>
<rect x="156.24" y="692.42" width="20.3" height="8.1" fill="#f8e8e6"/>
<rect x="178.16" y="692.42" width="20.3" height="8.1" fill="#dbeaf4"/>
<rect x="200.08" y="692.42" width="20.3" height="8.1" fill="#cfe4f0"/>
<rect x="222" y="692.42" width="20.3" height="8.1" fill="#d4e7f1"/>
<rect x="112.4" y="700.52" width="20.3" height="8.1" fill="#e09289"/>
<rect x="134.32" y="700.52" width="20.3" height="8.1" fill="#f3d4d0"/>
<rect x="156.24" y="700.52" width="20.3" height="8.1" fill="#f9ebe9"/>
<rect x="178.16" y="700.52" width="20.3" height="8.1" fill="#dbeaf4"/>
<rect x="200.08" y="700.52" width="20.3" height="8.1" fill="#d6e7f2"/>
<rect x="222" y="700.52" width="20.3" height="8.1" fill="#d2e5f1"/>
<rect x="112.4" y="708.62" width="20.3" height="8.1" fill="#fcfdfe"/>
<rect x="134.32" y="708.62" width="20.3" height="8.1" fill="#faeeec"/>
<rect x="156.24" y="708.62" width="20.3" height="8.1" fill="#e39b93"/>
<rect x="178.16" y="708.62" width="20.3" height="8.1" fill="#faeeed"/>
<rect x="200.08" y="708.62" width="20.3" height="8.1" fill="#f1f7fa"/>
<rect x="222" y="708.62" width="20.3" height="8.1" fill="#b1d2e6"/>
<rect x="112.4" y="716.73" width="20.3" height="8.1" fill="#e09188"/>
<rect x="134.32" y="716.73" width="20.3" height="8.1" fill="#f4d9d6"/>
<rect x="156.24" y="716.73" width="20.3" height="8.1" fill="#faeeed"/>
<rect x="178.16" y="716.73" width="20.3" height="8.1" fill="#d4e7f1"/>
<rect x="200.08" y="716.73" width="20.3" height="8.1" fill="#dcebf4"/>
<rect x="222" y="716.73" width="20.3" height="8.1" fill="#d2e5f1"/>
<rect x="112.4" y="724.83" width="20.3" height="8.1" fill="#f2d2ce"/>
<rect x="134.32" y="724.83" width="20.3" height="8.1" fill="#f9ebea"/>
<rect x="156.24" y="724.83" width="20.3" height="8.1" fill="#e39b93"/>
<rect x="178.16" y="724.83" width="20.3" height="8.1" fill="#fefbfb"/>
<rect x="200.08" y="724.83" width="20.3" height="8.1" fill="#95c2dd"/>
<rect x="222" y="724.83" width="20.3" height="8.1" fill="#e9f2f8"/>
<rect x="112.4" y="732.94" width="20.3" height="8.1" fill="#f2d2ce"/>
<rect x="134.32" y="732.94" width="20.3" height="8.1" fill="#f9ebea"/>
<rect x="156.24" y="732.94" width="20.3" height="8.1" fill="#e39b93"/>
<rect x="178.16" y="732.94" width="20.3" height="8.1" fill="#fefbfb"/>
<rect x="200.08" y="732.94" width="20.3" height="8.1" fill="#95c2dd"/>
<rect x="222" y="732.94" width="20.3" height="8.1" fill="#e9f2f8"/>
<rect x="112.4" y="741.04" width="20.3" height="8.1" fill="#fdfefe"/>
<rect x="134.32" y="741.04" width="20.3" height="8.1" fill="#faeeec"/>
<rect x="156.24" y="741.04" width="20.3" height="8.1" fill="#e29991"/>
<rect x="178.16" y="741.04" width="20.3" height="8.1" fill="#fcfdfe"/>
<rect x="200.08" y="741.04" width="20.3" height="8.1" fill="#cfe4f0"/>
<rect x="222" y="741.04" width="20.3" height="8.1" fill="#b8d6e8"/>
<rect x="112.4" y="749.14" width="20.3" height="8.1" fill="#df8f85"/>
<rect x="134.32" y="749.14" width="20.3" height="8.1" fill="#fcf4f3"/>
<rect x="156.24" y="749.14" width="20.3" height="8.1" fill="#fffefe"/>
<rect x="178.16" y="749.14" width="20.3" height="8.1" fill="#c7dfed"/>
<rect x="200.08" y="749.14" width="20.3" height="8.1" fill="#ebf3f8"/>
<rect x="222" y="749.14" width="20.3" height="8.1" fill="#c7dfed"/>
<rect x="112.4" y="757.25" width="20.3" height="8.1" fill="#f0ccc7"/>
<rect x="134.32" y="757.25" width="20.3" height="8.1" fill="#f5ddda"/>
<rect x="156.24" y="757.25" width="20.3" height="8.1" fill="#efc7c2"/>
<rect x="178.16" y="757.25" width="20.3" height="8.1" fill="#f3f8fb"/>
<rect x="200.08" y="757.25" width="20.3" height="8.1" fill="#6cabd0"/>
<rect x="222" y="757.25" width="20.3" height="8.1" fill="#fefbfa"/>
<rect x="112.4" y="765.35" width="20.3" height="8.1" fill="#f0ccc7"/>
<rect x="134.32" y="765.35" width="20.3" height="8.1" fill="#f5ddda"/>
<rect x="156.24" y="765.35" width="20.3" height="8.1" fill="#efc7c2"/>
<rect x="178.16" y="765.35" width="20.3" height="8.1" fill="#f3f8fb"/>
<rect x="200.08" y="765.35" width="20.3" height="8.1" fill="#6cabd0"/>
<rect x="222" y="765.35" width="20.3" height="8.1" fill="#fefbfa"/>
<rect x="112.4" y="773.46" width="20.3" height="8.1" fill="#f0cac5"/>
<rect x="134.32" y="773.46" width="20.3" height="8.1" fill="#f7e1df"/>
<rect x="156.24" y="773.46" width="20.3" height="8.1" fill="#efc7c2"/>
<rect x="178.16" y="773.46" width="20.3" height="8.1" fill="#fffefe"/>
<rect x="200.08" y="773.46" width="20.3" height="8.1" fill="#9fc8e0"/>
<rect x="222" y="773.46" width="20.3" height="8.1" fill="#b8d6e8"/>
<rect x="112.4" y="781.56" width="20.3" height="8.1" fill="#e4a098"/>
<rect x="134.32" y="781.56" width="20.3" height="8.1" fill="#f4d9d6"/>
<rect x="156.24" y="781.56" width="20.3" height="8.1" fill="#f9ebea"/>
<rect x="178.16" y="781.56" width="20.3" height="8.1" fill="#cce1ef"/>
<rect x="200.08" y="781.56" width="20.3" height="8.1" fill="#b4d4e7"/>
<rect x="222" y="781.56" width="20.3" height="8.1" fill="#bdd9ea"/>
<rect x="112.4" y="789.66" width="20.3" height="8.1" fill="#fefcfc"/>
<rect x="134.32" y="789.66" width="20.3" height="8.1" fill="#faeeec"/>
<rect x="156.24" y="789.66" width="20.3" height="8.1" fill="#e39b93"/>
<rect x="178.16" y="789.66" width="20.3" height="8.1" fill="#f7fbfd"/>
<rect x="200.08" y="789.66" width="20.3" height="8.1" fill="#a5cbe2"/>
<rect x="222" y="789.66" width="20.3" height="8.1" fill="#b8d6e8"/>
<rect x="112.4" y="797.77" width="20.3" height="8.1" fill="#e2988f"/>
<rect x="134.32" y="797.77" width="20.3" height="8.1" fill="#fcf6f5"/>
<rect x="156.24" y="797.77" width="20.3" height="8.1" fill="#faefee"/>
<rect x="178.16" y="797.77" width="20.3" height="8.1" fill="#afd1e5"/>
<rect x="200.08" y="797.77" width="20.3" height="8.1" fill="#fcf4f3"/>
<rect x="222" y="797.77" width="20.3" height="8.1" fill="#7db4d6"/>
<rect x="112.4" y="805.87" width="20.3" height="8.1" fill="#d8766a"/>
<rect x="134.32" y="805.87" width="20.3" height="8.1" fill="#bfdaeb"/>
<rect x="156.24" y="805.87" width="20.3" height="8.1" fill="#ddebf4"/>
<rect x="178.16" y="805.87" width="20.3" height="8.1" fill="#dbeaf4"/>
<rect x="200.08" y="805.87" width="20.3" height="8.1" fill="#fefbfa"/>
<rect x="222" y="805.87" width="20.3" height="8.1" fill="#afd1e5"/>
<rect x="112.4" y="813.98" width="20.3" height="8.1" fill="#f1cfcb"/>
<rect x="134.32" y="813.98" width="20.3" height="8.1" fill="#fcf4f3"/>
<rect x="156.24" y="813.98" width="20.3" height="8.1" fill="#ecbeb8"/>
<rect x="178.16" y="813.98" width="20.3" height="8.1" fill="#eaf3f8"/>
<rect x="200.08" y="813.98" width="20.3" height="8.1" fill="#5ea2cb"/>
<rect x="222" y="813.98" width="20.3" height="8.1" fill="#ecf4f9"/>
<rect x="112.4" y="822.08" width="20.3" height="8.1" fill="#db7f75"/>
<rect x="134.32" y="822.08" width="20.3" height="8.1" fill="#dfedf5"/>
<rect x="156.24" y="822.08" width="20.3" height="8.1" fill="#f1f7fb"/>
<rect x="178.16" y="822.08" width="20.3" height="8.1" fill="#b8d6e8"/>
<rect x="200.08" y="822.08" width="20.3" height="8.1" fill="#fcf4f3"/>
<rect x="222" y="822.08" width="20.3" height="8.1" fill="#9dc7e0"/>
<rect x="112.4" y="830.18" width="20.3" height="8.1" fill="#f1ccc8"/>
<rect x="134.32" y="830.18" width="20.3" height="8.1" fill="#f0f6fa"/>
<rect x="156.24" y="830.18" width="20.3" height="8.1" fill="#f0cac5"/>
<rect x="178.16" y="830.18" width="20.3" height="8.1" fill="#cce1ef"/>
<rect x="200.08" y="830.18" width="20.3" height="8.1" fill="#8dbdda"/>
<rect x="222" y="830.18" width="20.3" height="8.1" fill="#c9e0ee"/>
<rect x="112.4" y="838.29" width="20.3" height="8.1" fill="#e0938a"/>
<rect x="134.32" y="838.29" width="20.3" height="8.1" fill="#d9e9f3"/>
<rect x="156.24" y="838.29" width="20.3" height="8.1" fill="#ffffff"/>
<rect x="178.16" y="838.29" width="20.3" height="8.1" fill="#eaf3f8"/>
<rect x="200.08" y="838.29" width="20.3" height="8.1" fill="#6baad0"/>
<rect x="222" y="838.29" width="20.3" height="8.1" fill="#8abcda"/>
<rect x="112.4" y="846.39" width="20.3" height="8.1" fill="#d8e9f3"/>
<rect x="134.32" y="846.39" width="20.3" height="8.1" fill="#9fc8e0"/>
<rect x="156.24" y="846.39" width="20.3" height="8.1" fill="#b0d2e6"/>
<rect x="178.16" y="846.39" width="20.3" height="8.1" fill="#93c1dc"/>
<rect x="200.08" y="846.39" width="20.3" height="8.1" fill="#8fbfdb"/>
<rect x="222" y="846.39" width="20.3" height="8.1" fill="#95c2dd"/>
<rect x="112.4" y="854.5" width="20.3" height="8.1" fill="#cde2ef"/>
<rect x="134.32" y="854.5" width="20.3" height="8.1" fill="#8dbdda"/>
<rect x="156.24" y="854.5" width="20.3" height="8.1" fill="#a5cce2"/>
<rect x="178.16" y="854.5" width="20.3" height="8.1" fill="#a2c9e1"/>
<rect x="200.08" y="854.5" width="20.3" height="8.1" fill="#8fbfdb"/>
<rect x="222" y="854.5" width="20.3" height="8.1" fill="#88bad9"/>
<rect x="112.4" y="862.6" width="20.3" height="8.1" fill="#f5ddda"/>
<rect x="134.32" y="862.6" width="20.3" height="8.1" fill="#7ab3d5"/>
<rect x="156.24" y="862.6" width="20.3" height="8.1" fill="#95c2dd"/>
<rect x="178.16" y="862.6" width="20.3" height="8.1" fill="#7ab3d5"/>
<rect x="200.08" y="862.6" width="20.3" height="8.1" fill="#7ab3d5"/>
<rect x="222" y="862.6" width="20.3" height="8.1" fill="#96c3dd"/>
<rect x="112.4" y="870.7" width="20.3" height="8.1" fill="#f3f8fb"/>
<rect x="134.32" y="870.7" width="20.3" height="8.1" fill="#7ab3d5"/>
<rect x="156.24" y="870.7" width="20.3" height="8.1" fill="#8abcda"/>
<rect x="178.16" y="870.7" width="20.3" height="8.1" fill="#7ab3d5"/>
<rect x="200.08" y="870.7" width="20.3" height="8.1" fill="#85b9d8"/>
<rect x="222" y="870.7" width="20.3" height="8.1" fill="#95c2dd"/>
<rect x="112.4" y="878.81" width="20.3" height="8.1" fill="#ebf3f8"/>
<rect x="134.32" y="878.81" width="20.3" height="8.1" fill="#8dbdda"/>
<rect x="156.24" y="878.81" width="20.3" height="8.1" fill="#80b6d6"/>
<rect x="178.16" y="878.81" width="20.3" height="8.1" fill="#7ab3d5"/>
<rect x="200.08" y="878.81" width="20.3" height="8.1" fill="#7ab3d5"/>
<rect x="222" y="878.81" width="20.3" height="8.1" fill="#88bbd9"/>
<rect x="112.4" y="886.91" width="20.3" height="8.1" fill="#b4d4e7"/>
<rect x="134.32" y="886.91" width="20.3" height="8.1" fill="#7ab3d5"/>
<rect x="156.24" y="886.91" width="20.3" height="8.1" fill="#85b9d8"/>
<rect x="178.16" y="886.91" width="20.3" height="8.1" fill="#7ab3d5"/>
<rect x="200.08" y="886.91" width="20.3" height="8.1" fill="#7ab3d5"/>
<rect x="222" y="886.91" width="20.3" height="8.1" fill="#7ab2d4"/>
<path d="M112.4 52.2h20.3M112.4 60.3h20.3M112.4 68.41h20.3M112.4 76.51h20.3M112.4 84.62h20.3M112.4 92.72h20.3M112.4 100.82h20.3M112.4 108.93h20.3M112.4 117.03h20.3M112.4 125.14h20.3M112.4 133.24h20.3M112.4 141.34h20.3M112.4 149.45h20.3M112.4 157.55h20.3M112.4 165.66h20.3M112.4 173.76h20.3M112.4 181.86h20.3M112.4 189.97h20.3M112.4 198.07h20.3M112.4 206.18h20.3M112.4 214.28h20.3M112.4 222.38h20.3M112.4 230.49h20.3M112.4 238.59h20.3M112.4 246.7h20.3M112.4 254.8h20.3M112.4 262.9h20.3M112.4 271.01h20.3M112.4 279.11h20.3M112.4 287.22h20.3M112.4 295.32h20.3M112.4 303.42h20.3M112.4 311.53h20.3M112.4 319.63h20.3M112.4 327.74h20.3M112.4 335.84h20.3M112.4 343.94h20.3M112.4 352.05h20.3M112.4 360.15h20.3M112.4 368.26h20.3M112.4 376.36h20.3M112.4 384.46h20.3M112.4 392.57h20.3M112.4 400.67h20.3M112.4 408.78h20.3M112.4 416.88h20.3M112.4 424.98h20.3M112.4 433.09h20.3M112.4 441.19h20.3M112.4 449.3h20.3M112.4 457.4h20.3M112.4 465.5h20.3M112.4 473.61h20.3M112.4 481.71h20.3M112.4 489.82h20.3M112.4 497.92h20.3M112.4 506.02h20.3M112.4 514.13h20.3M112.4 522.23h20.3M112.4 530.34h20.3M112.4 538.44h20.3M112.4 546.54h20.3M112.4 554.65h20.3M112.4 562.75h20.3M112.4 570.86h20.3M112.4 578.96h20.3M112.4 587.06h20.3M112.4 595.17h20.3M112.4 603.27h20.3M112.4 611.38h20.3M112.4 619.48h20.3M112.4 627.58h20.3M112.4 635.69h20.3M112.4 643.79h20.3M112.4 651.9h20.3M112.4 660h20.3M112.4 668.1h20.3M112.4 676.21h20.3M112.4 684.31h20.3M112.4 692.42h20.3M112.4 700.52h20.3M112.4 708.62h20.3M112.4 716.73h20.3M112.4 724.83h20.3M112.4 732.94h20.3M112.4 741.04h20.3M112.4 749.14h20.3M112.4 757.25h20.3M112.4 765.35h20.3M112.4 773.46h20.3M112.4 781.56h20.3M112.4 789.66h20.3M112.4 797.77h20.3M112.4 805.87h20.3M112.4 813.98h20.3M112.4 822.08h20.3M112.4 830.18h20.3M112.4 838.29h20.3M112.4 846.39h20.3M112.4 854.5h20.3M112.4 862.6h20.3M112.4 870.7h20.3M112.4 878.81h20.3M112.4 886.91h20.3M112.4 895.02h20.3M112.4 52.2v842.82M132.7 52.2v842.82" stroke="#3a3232" stroke-width="0.85" fill="none"/>
<path d="M134.32 52.2h20.3M134.32 60.3h20.3M134.32 68.41h20.3M134.32 76.51h20.3M134.32 84.62h20.3M134.32 92.72h20.3M134.32 100.82h20.3M134.32 108.93h20.3M134.32 117.03h20.3M134.32 125.14h20.3M134.32 133.24h20.3M134.32 141.34h20.3M134.32 149.45h20.3M134.32 157.55h20.3M134.32 165.66h20.3M134.32 173.76h20.3M134.32 181.86h20.3M134.32 189.97h20.3M134.32 198.07h20.3M134.32 206.18h20.3M134.32 214.28h20.3M134.32 222.38h20.3M134.32 230.49h20.3M134.32 238.59h20.3M134.32 246.7h20.3M134.32 254.8h20.3M134.32 262.9h20.3M134.32 271.01h20.3M134.32 279.11h20.3M134.32 287.22h20.3M134.32 295.32h20.3M134.32 303.42h20.3M134.32 311.53h20.3M134.32 319.63h20.3M134.32 327.74h20.3M134.32 335.84h20.3M134.32 343.94h20.3M134.32 352.05h20.3M134.32 360.15h20.3M134.32 368.26h20.3M134.32 376.36h20.3M134.32 384.46h20.3M134.32 392.57h20.3M134.32 400.67h20.3M134.32 408.78h20.3M134.32 416.88h20.3M134.32 424.98h20.3M134.32 433.09h20.3M134.32 441.19h20.3M134.32 449.3h20.3M134.32 457.4h20.3M134.32 465.5h20.3M134.32 473.61h20.3M134.32 481.71h20.3M134.32 489.82h20.3M134.32 497.92h20.3M134.32 506.02h20.3M134.32 514.13h20.3M134.32 522.23h20.3M134.32 530.34h20.3M134.32 538.44h20.3M134.32 546.54h20.3M134.32 554.65h20.3M134.32 562.75h20.3M134.32 570.86h20.3M134.32 578.96h20.3M134.32 587.06h20.3M134.32 595.17h20.3M134.32 603.27h20.3M134.32 611.38h20.3M134.32 619.48h20.3M134.32 627.58h20.3M134.32 635.69h20.3M134.32 643.79h20.3M134.32 651.9h20.3M134.32 660h20.3M134.32 668.1h20.3M134.32 676.21h20.3M134.32 684.31h20.3M134.32 692.42h20.3M134.32 700.52h20.3M134.32 708.62h20.3M134.32 716.73h20.3M134.32 724.83h20.3M134.32 732.94h20.3M134.32 741.04h20.3M134.32 749.14h20.3M134.32 757.25h20.3M134.32 765.35h20.3M134.32 773.46h20.3M134.32 781.56h20.3M134.32 789.66h20.3M134.32 797.77h20.3M134.32 805.87h20.3M134.32 813.98h20.3M134.32 822.08h20.3M134.32 830.18h20.3M134.32 838.29h20.3M134.32 846.39h20.3M134.32 854.5h20.3M134.32 862.6h20.3M134.32 870.7h20.3M134.32 878.81h20.3M134.32 886.91h20.3M134.32 895.02h20.3M134.32 52.2v842.82M154.62 52.2v842.82" stroke="#3a3232" stroke-width="0.85" fill="none"/>
<path d="M156.24 52.2h20.3M156.24 60.3h20.3M156.24 68.41h20.3M156.24 76.51h20.3M156.24 84.62h20.3M156.24 92.72h20.3M156.24 100.82h20.3M156.24 108.93h20.3M156.24 117.03h20.3M156.24 125.14h20.3M156.24 133.24h20.3M156.24 141.34h20.3M156.24 149.45h20.3M156.24 157.55h20.3M156.24 165.66h20.3M156.24 173.76h20.3M156.24 181.86h20.3M156.24 189.97h20.3M156.24 198.07h20.3M156.24 206.18h20.3M156.24 214.28h20.3M156.24 222.38h20.3M156.24 230.49h20.3M156.24 238.59h20.3M156.24 246.7h20.3M156.24 254.8h20.3M156.24 262.9h20.3M156.24 271.01h20.3M156.24 279.11h20.3M156.24 287.22h20.3M156.24 295.32h20.3M156.24 303.42h20.3M156.24 311.53h20.3M156.24 319.63h20.3M156.24 327.74h20.3M156.24 335.84h20.3M156.24 343.94h20.3M156.24 352.05h20.3M156.24 360.15h20.3M156.24 368.26h20.3M156.24 376.36h20.3M156.24 384.46h20.3M156.24 392.57h20.3M156.24 400.67h20.3M156.24 408.78h20.3M156.24 416.88h20.3M156.24 424.98h20.3M156.24 433.09h20.3M156.24 441.19h20.3M156.24 449.3h20.3M156.24 457.4h20.3M156.24 465.5h20.3M156.24 473.61h20.3M156.24 481.71h20.3M156.24 489.82h20.3M156.24 497.92h20.3M156.24 506.02h20.3M156.24 514.13h20.3M156.24 522.23h20.3M156.24 530.34h20.3M156.24 538.44h20.3M156.24 546.54h20.3M156.24 554.65h20.3M156.24 562.75h20.3M156.24 570.86h20.3M156.24 578.96h20.3M156.24 587.06h20.3M156.24 595.17h20.3M156.24 603.27h20.3M156.24 611.38h20.3M156.24 619.48h20.3M156.24 627.58h20.3M156.24 635.69h20.3M156.24 643.79h20.3M156.24 651.9h20.3M156.24 660h20.3M156.24 668.1h20.3M156.24 676.21h20.3M156.24 684.31h20.3M156.24 692.42h20.3M156.24 700.52h20.3M156.24 708.62h20.3M156.24 716.73h20.3M156.24 724.83h20.3M156.24 732.94h20.3M156.24 741.04h20.3M156.24 749.14h20.3M156.24 757.25h20.3M156.24 765.35h20.3M156.24 773.46h20.3M156.24 781.56h20.3M156.24 789.66h20.3M156.24 797.77h20.3M156.24 805.87h20.3M156.24 813.98h20.3M156.24 822.08h20.3M156.24 830.18h20.3M156.24 838.29h20.3M156.24 846.39h20.3M156.24 854.5h20.3M156.24 862.6h20.3M156.24 870.7h20.3M156.24 878.81h20.3M156.24 886.91h20.3M156.24 895.02h20.3M156.24 52.2v842.82M176.54 52.2v842.82" stroke="#3a3232" stroke-width="0.85" fill="none"/>
<path d="M178.16 52.2h20.3M178.16 60.3h20.3M178.16 68.41h20.3M178.16 76.51h20.3M178.16 84.62h20.3M178.16 92.72h20.3M178.16 100.82h20.3M178.16 108.93h20.3M178.16 117.03h20.3M178.16 125.14h20.3M178.16 133.24h20.3M178.16 141.34h20.3M178.16 149.45h20.3M178.16 157.55h20.3M178.16 165.66h20.3M178.16 173.76h20.3M178.16 181.86h20.3M178.16 189.97h20.3M178.16 198.07h20.3M178.16 206.18h20.3M178.16 214.28h20.3M178.16 222.38h20.3M178.16 230.49h20.3M178.16 238.59h20.3M178.16 246.7h20.3M178.16 254.8h20.3M178.16 262.9h20.3M178.16 271.01h20.3M178.16 279.11h20.3M178.16 287.22h20.3M178.16 295.32h20.3M178.16 303.42h20.3M178.16 311.53h20.3M178.16 319.63h20.3M178.16 327.74h20.3M178.16 335.84h20.3M178.16 343.94h20.3M178.16 352.05h20.3M178.16 360.15h20.3M178.16 368.26h20.3M178.16 376.36h20.3M178.16 384.46h20.3M178.16 392.57h20.3M178.16 400.67h20.3M178.16 408.78h20.3M178.16 416.88h20.3M178.16 424.98h20.3M178.16 433.09h20.3M178.16 441.19h20.3M178.16 449.3h20.3M178.16 457.4h20.3M178.16 465.5h20.3M178.16 473.61h20.3M178.16 481.71h20.3M178.16 489.82h20.3M178.16 497.92h20.3M178.16 506.02h20.3M178.16 514.13h20.3M178.16 522.23h20.3M178.16 530.34h20.3M178.16 538.44h20.3M178.16 546.54h20.3M178.16 554.65h20.3M178.16 562.75h20.3M178.16 570.86h20.3M178.16 578.96h20.3M178.16 587.06h20.3M178.16 595.17h20.3M178.16 603.27h20.3M178.16 611.38h20.3M178.16 619.48h20.3M178.16 627.58h20.3M178.16 635.69h20.3M178.16 643.79h20.3M178.16 651.9h20.3M178.16 660h20.3M178.16 668.1h20.3M178.16 676.21h20.3M178.16 684.31h20.3M178.16 692.42h20.3M178.16 700.52h20.3M178.16 708.62h20.3M178.16 716.73h20.3M178.16 724.83h20.3M178.16 732.94h20.3M178.16 741.04h20.3M178.16 749.14h20.3M178.16 757.25h20.3M178.16 765.35h20.3M178.16 773.46h20.3M178.16 781.56h20.3M178.16 789.66h20.3M178.16 797.77h20.3M178.16 805.87h20.3M178.16 813.98h20.3M178.16 822.08h20.3M178.16 830.18h20.3M178.16 838.29h20.3M178.16 846.39h20.3M178.16 854.5h20.3M178.16 862.6h20.3M178.16 870.7h20.3M178.16 878.81h20.3M178.16 886.91h20.3M178.16 895.02h20.3M178.16 52.2v842.82M198.46 52.2v842.82" stroke="#3a3232" stroke-width="0.85" fill="none"/>
<path d="M200.08 52.2h20.3M200.08 60.3h20.3M200.08 68.41h20.3M200.08 76.51h20.3M200.08 84.62h20.3M200.08 92.72h20.3M200.08 100.82h20.3M200.08 108.93h20.3M200.08 117.03h20.3M200.08 125.14h20.3M200.08 133.24h20.3M200.08 141.34h20.3M200.08 149.45h20.3M200.08 157.55h20.3M200.08 165.66h20.3M200.08 173.76h20.3M200.08 181.86h20.3M200.08 189.97h20.3M200.08 198.07h20.3M200.08 206.18h20.3M200.08 214.28h20.3M200.08 222.38h20.3M200.08 230.49h20.3M200.08 238.59h20.3M200.08 246.7h20.3M200.08 254.8h20.3M200.08 262.9h20.3M200.08 271.01h20.3M200.08 279.11h20.3M200.08 287.22h20.3M200.08 295.32h20.3M200.08 303.42h20.3M200.08 311.53h20.3M200.08 319.63h20.3M200.08 327.74h20.3M200.08 335.84h20.3M200.08 343.94h20.3M200.08 352.05h20.3M200.08 360.15h20.3M200.08 368.26h20.3M200.08 376.36h20.3M200.08 384.46h20.3M200.08 392.57h20.3M200.08 400.67h20.3M200.08 408.78h20.3M200.08 416.88h20.3M200.08 424.98h20.3M200.08 433.09h20.3M200.08 441.19h20.3M200.08 449.3h20.3M200.08 457.4h20.3M200.08 465.5h20.3M200.08 473.61h20.3M200.08 481.71h20.3M200.08 489.82h20.3M200.08 497.92h20.3M200.08 506.02h20.3M200.08 514.13h20.3M200.08 522.23h20.3M200.08 530.34h20.3M200.08 538.44h20.3M200.08 546.54h20.3M200.08 554.65h20.3M200.08 562.75h20.3M200.08 570.86h20.3M200.08 578.96h20.3M200.08 587.06h20.3M200.08 595.17h20.3M200.08 603.27h20.3M200.08 611.38h20.3M200.08 619.48h20.3M200.08 627.58h20.3M200.08 635.69h20.3M200.08 643.79h20.3M200.08 651.9h20.3M200.08 660h20.3M200.08 668.1h20.3M200.08 676.21h20.3M200.08 684.31h20.3M200.08 692.42h20.3M200.08 700.52h20.3M200.08 708.62h20.3M200.08 716.73h20.3M200.08 724.83h20.3M200.08 732.94h20.3M200.08 741.04h20.3M200.08 749.14h20.3M200.08 757.25h20.3M200.08 765.35h20.3M200.08 773.46h20.3M200.08 781.56h20.3M200.08 789.66h20.3M200.08 797.77h20.3M200.08 805.87h20.3M200.08 813.98h20.3M200.08 822.08h20.3M200.08 830.18h20.3M200.08 838.29h20.3M200.08 846.39h20.3M200.08 854.5h20.3M200.08 862.6h20.3M200.08 870.7h20.3M200.08 878.81h20.3M200.08 886.91h20.3M200.08 895.02h20.3M200.08 52.2v842.82M220.38 52.2v842.82" stroke="#3a3232" stroke-width="0.85" fill="none"/>
<path d="M222 52.2h20.3M222 60.3h20.3M222 68.41h20.3M222 76.51h20.3M222 84.62h20.3M222 92.72h20.3M222 100.82h20.3M222 108.93h20.3M222 117.03h20.3M222 125.14h20.3M222 133.24h20.3M222 141.34h20.3M222 149.45h20.3M222 157.55h20.3M222 165.66h20.3M222 173.76h20.3M222 181.86h20.3M222 189.97h20.3M222 198.07h20.3M222 206.18h20.3M222 214.28h20.3M222 222.38h20.3M222 230.49h20.3M222 238.59h20.3M222 246.7h20.3M222 254.8h20.3M222 262.9h20.3M222 271.01h20.3M222 279.11h20.3M222 287.22h20.3M222 295.32h20.3M222 303.42h20.3M222 311.53h20.3M222 319.63h20.3M222 327.74h20.3M222 335.84h20.3M222 343.94h20.3M222 352.05h20.3M222 360.15h20.3M222 368.26h20.3M222 376.36h20.3M222 384.46h20.3M222 392.57h20.3M222 400.67h20.3M222 408.78h20.3M222 416.88h20.3M222 424.98h20.3M222 433.09h20.3M222 441.19h20.3M222 449.3h20.3M222 457.4h20.3M222 465.5h20.3M222 473.61h20.3M222 481.71h20.3M222 489.82h20.3M222 497.92h20.3M222 506.02h20.3M222 514.13h20.3M222 522.23h20.3M222 530.34h20.3M222 538.44h20.3M222 546.54h20.3M222 554.65h20.3M222 562.75h20.3M222 570.86h20.3M222 578.96h20.3M222 587.06h20.3M222 595.17h20.3M222 603.27h20.3M222 611.38h20.3M222 619.48h20.3M222 627.58h20.3M222 635.69h20.3M222 643.79h20.3M222 651.9h20.3M222 660h20.3M222 668.1h20.3M222 676.21h20.3M222 684.31h20.3M222 692.42h20.3M222 700.52h20.3M222 708.62h20.3M222 716.73h20.3M222 724.83h20.3M222 732.94h20.3M222 741.04h20.3M222 749.14h20.3M222 757.25h20.3M222 765.35h20.3M222 773.46h20.3M222 781.56h20.3M222 789.66h20.3M222 797.77h20.3M222 805.87h20.3M222 813.98h20.3M222 822.08h20.3M222 830.18h20.3M222 838.29h20.3M222 846.39h20.3M222 854.5h20.3M222 862.6h20.3M222 870.7h20.3M222 878.81h20.3M222 886.91h20.3M222 895.02h20.3M222 52.2v842.82M242.3 52.2v842.82" stroke="#3a3232" stroke-width="0.85" fill="none"/>
<g font-size="6.5" fill="#1f1f1f" text-anchor="middle" lengthAdjust="spacingAndGlyphs">
<text x="122.55" y="58.8" textLength="13.6" lengthAdjust="spacingAndGlyphs">0.824</text>
<text x="144.47" y="58.8" textLength="13.6" lengthAdjust="spacingAndGlyphs">0.871</text>
<text x="166.39" y="58.8" textLength="13.6" lengthAdjust="spacingAndGlyphs">0.938</text>
<text x="188.31" y="58.8" textLength="13.6" lengthAdjust="spacingAndGlyphs">0.821</text>
<text x="210.23" y="58.8" textLength="13.6" lengthAdjust="spacingAndGlyphs">0.742</text>
<text x="232.15" y="58.8" textLength="13.6" lengthAdjust="spacingAndGlyphs">0.839</text>
<text x="122.55" y="66.91" textLength="13.6" lengthAdjust="spacingAndGlyphs">0.829</text>
<text x="144.47" y="66.91" textLength="13.6" lengthAdjust="spacingAndGlyphs">0.892</text>
<text x="166.39" y="66.91" textLength="13.6" lengthAdjust="spacingAndGlyphs">0.933</text>
<text x="188.31" y="66.91" textLength="13.6" lengthAdjust="spacingAndGlyphs">0.825</text>
<text x="210.23" y="66.91" textLength="13.6" lengthAdjust="spacingAndGlyphs">0.725</text>
<text x="232.15" y="66.91" textLength="13.6" lengthAdjust="spacingAndGlyphs">0.826</text>
<text x="122.55" y="75.01" textLength="13.6" lengthAdjust="spacingAndGlyphs">0.827</text>
<text x="144.47" y="75.01" textLength="13.6" lengthAdjust="spacingAndGlyphs">0.867</text>
<text x="166.39" y="75.01" textLength="13.6" lengthAdjust="spacingAndGlyphs">0.938</text>
<text x="188.31" y="75.01" textLength="13.6" lengthAdjust="spacingAndGlyphs">0.810</text>
<text x="210.23" y="75.01" textLength="13.6" lengthAdjust="spacingAndGlyphs">0.747</text>
<text x="232.15" y="75.01" textLength="13.6" lengthAdjust="spacingAndGlyphs">0.842</text>
<text x="122.55" y="83.11" textLength="13.6" lengthAdjust="spacingAndGlyphs">0.827</text>
<text x="144.47" y="83.11" textLength="13.6" lengthAdjust="spacingAndGlyphs">0.871</text>
<text x="166.39" y="83.11" textLength="13.6" lengthAdjust="spacingAndGlyphs">0.936</text>
<text x="188.31" y="83.11" textLength="13.6" lengthAdjust="spacingAndGlyphs">0.813</text>
<text x="210.23" y="83.11" textLength="13.6" lengthAdjust="spacingAndGlyphs">0.747</text>
<text x="232.15" y="83.11" textLength="13.6" lengthAdjust="spacingAndGlyphs">0.834</text>
<text x="122.55" y="91.22" textLength="13.6" lengthAdjust="spacingAndGlyphs">0.830</text>
<text x="144.47" y="91.22" textLength="13.6" lengthAdjust="spacingAndGlyphs">0.879</text>
<text x="166.39" y="91.22" textLength="13.6" lengthAdjust="spacingAndGlyphs">0.937</text>
<text x="188.31" y="91.22" textLength="13.6" lengthAdjust="spacingAndGlyphs">0.821</text>
<text x="210.23" y="91.22" textLength="13.6" lengthAdjust="spacingAndGlyphs">0.736</text>
<text x="232.15" y="91.22" textLength="13.6" lengthAdjust="spacingAndGlyphs">0.824</text>
<text x="122.55" y="99.32" textLength="13.6" lengthAdjust="spacingAndGlyphs">1.000</text>
<text x="144.47" y="99.32" textLength="13.6" lengthAdjust="spacingAndGlyphs">0.871</text>
<text x="166.39" y="99.32" textLength="13.6" lengthAdjust="spacingAndGlyphs">0.917</text>
<text x="188.31" y="99.32" textLength="13.6" lengthAdjust="spacingAndGlyphs">0.825</text>
<text x="210.23" y="99.32" textLength="13.6" lengthAdjust="spacingAndGlyphs">0.582</text>
<text x="232.15" y="99.32" textLength="13.6" lengthAdjust="spacingAndGlyphs">0.832</text>
<text x="122.55" y="107.43" textLength="13.6" lengthAdjust="spacingAndGlyphs">0.959</text>
<text x="144.47" y="107.43" textLength="13.6" lengthAdjust="spacingAndGlyphs">0.875</text>
<text x="166.39" y="107.43" textLength="13.6" lengthAdjust="spacingAndGlyphs">0.915</text>
<text x="188.31" y="107.43" textLength="13.6" lengthAdjust="spacingAndGlyphs">0.806</text>
<text x="210.23" y="107.43" textLength="13.6" lengthAdjust="spacingAndGlyphs">0.637</text>
<text x="232.15" y="107.43" textLength="13.6" lengthAdjust="spacingAndGlyphs">0.834</text>
<text x="122.55" y="115.53" textLength="13.6" lengthAdjust="spacingAndGlyphs">0.826</text>
<text x="144.47" y="115.53" textLength="13.6" lengthAdjust="spacingAndGlyphs">0.867</text>
<text x="166.39" y="115.53" textLength="13.6" lengthAdjust="spacingAndGlyphs">0.942</text>
<text x="188.31" y="115.53" textLength="13.6" lengthAdjust="spacingAndGlyphs">0.810</text>
<text x="210.23" y="115.53" textLength="13.6" lengthAdjust="spacingAndGlyphs">0.753</text>
<text x="232.15" y="115.53" textLength="13.6" lengthAdjust="spacingAndGlyphs">0.829</text>
<text x="122.55" y="123.63" textLength="13.6" lengthAdjust="spacingAndGlyphs">0.829</text>
<text x="144.47" y="123.63" textLength="13.6" lengthAdjust="spacingAndGlyphs">0.887</text>
<text x="166.39" y="123.63" textLength="13.6" lengthAdjust="spacingAndGlyphs">0.934</text>
<text x="188.31" y="123.63" textLength="13.6" lengthAdjust="spacingAndGlyphs">0.813</text>
<text x="210.23" y="123.63" textLength="13.6" lengthAdjust="spacingAndGlyphs">0.736</text>
<text x="232.15" y="123.63" textLength="13.6" lengthAdjust="spacingAndGlyphs">0.824</text>
<text x="122.55" y="131.74" textLength="13.6" lengthAdjust="spacingAndGlyphs">0.829</text>
<text x="144.47" y="131.74" textLength="13.6" lengthAdjust="spacingAndGlyphs">0.875</text>
<text x="166.39" y="131.74" textLength="13.6" lengthAdjust="spacingAndGlyphs">0.937</text>
<text x="188.31" y="131.74" textLength="13.6" lengthAdjust="spacingAndGlyphs">0.817</text>
<text x="210.23" y="131.74" textLength="13.6" lengthAdjust="spacingAndGlyphs">0.736</text>
<text x="232.15" y="131.74" textLength="13.6" lengthAdjust="spacingAndGlyphs">0.829</text>
<text x="122.55" y="139.84" textLength="13.6" lengthAdjust="spacingAndGlyphs">0.829</text>
<text x="144.47" y="139.84" textLength="13.6" lengthAdjust="spacingAndGlyphs">0.887</text>
<text x="166.39" y="139.84" textLength="13.6" lengthAdjust="spacingAndGlyphs">0.936</text>
<text x="188.31" y="139.84" textLength="13.6" lengthAdjust="spacingAndGlyphs">0.813</text>
<text x="210.23" y="139.84" textLength="13.6" lengthAdjust="spacingAndGlyphs">0.725</text>
<text x="232.15" y="139.84" textLength="13.6" lengthAdjust="spacingAndGlyphs">0.824</text>
<text x="122.55" y="147.95" textLength="13.6" lengthAdjust="spacingAndGlyphs">0.839</text>
<text x="144.47" y="147.95" textLength="13.6" lengthAdjust="spacingAndGlyphs">0.879</text>
<text x="166.39" y="147.95" textLength="13.6" lengthAdjust="spacingAndGlyphs">0.934</text>
<text x="188.31" y="147.95" textLength="13.6" lengthAdjust="spacingAndGlyphs">0.821</text>
<text x="210.23" y="147.95" textLength="13.6" lengthAdjust="spacingAndGlyphs">0.725</text>
<text x="232.15" y="147.95" textLength="13.6" lengthAdjust="spacingAndGlyphs">0.816</text>
<text x="122.55" y="156.05" textLength="13.6" lengthAdjust="spacingAndGlyphs">0.833</text>
<text x="144.47" y="156.05" textLength="13.6" lengthAdjust="spacingAndGlyphs">0.875</text>
<text x="166.39" y="156.05" textLength="13.6" lengthAdjust="spacingAndGlyphs">0.938</text>
<text x="188.31" y="156.05" textLength="13.6" lengthAdjust="spacingAndGlyphs">0.837</text>
<text x="210.23" y="156.05" textLength="13.6" lengthAdjust="spacingAndGlyphs">0.698</text>
<text x="232.15" y="156.05" textLength="13.6" lengthAdjust="spacingAndGlyphs">0.826</text>
<text x="122.55" y="164.15" textLength="13.6" lengthAdjust="spacingAndGlyphs">0.836</text>
<text x="144.47" y="164.15" textLength="13.6" lengthAdjust="spacingAndGlyphs">0.900</text>
<text x="166.39" y="164.15" textLength="13.6" lengthAdjust="spacingAndGlyphs">0.921</text>
<text x="188.31" y="164.15" textLength="13.6" lengthAdjust="spacingAndGlyphs">0.821</text>
<text x="210.23" y="164.15" textLength="13.6" lengthAdjust="spacingAndGlyphs">0.714</text>
<text x="232.15" y="164.15" textLength="13.6" lengthAdjust="spacingAndGlyphs">0.811</text>
<text x="122.55" y="172.26" textLength="13.6" lengthAdjust="spacingAndGlyphs">0.836</text>
<text x="144.47" y="172.26" textLength="13.6" lengthAdjust="spacingAndGlyphs">0.900</text>
<text x="166.39" y="172.26" textLength="13.6" lengthAdjust="spacingAndGlyphs">0.924</text>
<text x="188.31" y="172.26" textLength="13.6" lengthAdjust="spacingAndGlyphs">0.810</text>
<text x="210.23" y="172.26" textLength="13.6" lengthAdjust="spacingAndGlyphs">0.720</text>
<text x="232.15" y="172.26" textLength="13.6" lengthAdjust="spacingAndGlyphs">0.813</text>
<text x="122.55" y="180.36" textLength="13.6" lengthAdjust="spacingAndGlyphs">0.830</text>
<text x="144.47" y="180.36" textLength="13.6" lengthAdjust="spacingAndGlyphs">0.879</text>
<text x="166.39" y="180.36" textLength="13.6" lengthAdjust="spacingAndGlyphs">0.936</text>
<text x="188.31" y="180.36" textLength="13.6" lengthAdjust="spacingAndGlyphs">0.821</text>
<text x="210.23" y="180.36" textLength="13.6" lengthAdjust="spacingAndGlyphs">0.709</text>
<text x="232.15" y="180.36" textLength="13.6" lengthAdjust="spacingAndGlyphs">0.826</text>
<text x="122.55" y="188.47" textLength="13.6" lengthAdjust="spacingAndGlyphs">0.830</text>
<text x="144.47" y="188.47" textLength="13.6" lengthAdjust="spacingAndGlyphs">0.863</text>
<text x="166.39" y="188.47" textLength="13.6" lengthAdjust="spacingAndGlyphs">0.937</text>
<text x="188.31" y="188.47" textLength="13.6" lengthAdjust="spacingAndGlyphs">0.810</text>
<text x="210.23" y="188.47" textLength="13.6" lengthAdjust="spacingAndGlyphs">0.736</text>
<text x="232.15" y="188.47" textLength="13.6" lengthAdjust="spacingAndGlyphs">0.824</text>
<text x="122.55" y="196.57" textLength="13.6" lengthAdjust="spacingAndGlyphs">0.833</text>
<text x="144.47" y="196.57" textLength="13.6" lengthAdjust="spacingAndGlyphs">0.867</text>
<text x="166.39" y="196.57" textLength="13.6" lengthAdjust="spacingAndGlyphs">0.931</text>
<text x="188.31" y="196.57" textLength="13.6" lengthAdjust="spacingAndGlyphs">0.813</text>
<text x="210.23" y="196.57" textLength="13.6" lengthAdjust="spacingAndGlyphs">0.731</text>
<text x="232.15" y="196.57" textLength="13.6" lengthAdjust="spacingAndGlyphs">0.824</text>
<text x="122.55" y="204.67" textLength="13.6" lengthAdjust="spacingAndGlyphs">0.833</text>
<text x="144.47" y="204.67" textLength="13.6" lengthAdjust="spacingAndGlyphs">0.867</text>
<text x="166.39" y="204.67" textLength="13.6" lengthAdjust="spacingAndGlyphs">0.932</text>
<text x="188.31" y="204.67" textLength="13.6" lengthAdjust="spacingAndGlyphs">0.813</text>
<text x="210.23" y="204.67" textLength="13.6" lengthAdjust="spacingAndGlyphs">0.736</text>
<text x="232.15" y="204.67" textLength="13.6" lengthAdjust="spacingAndGlyphs">0.816</text>
<text x="122.55" y="212.78" textLength="13.6" lengthAdjust="spacingAndGlyphs">0.832</text>
<text x="144.47" y="212.78" textLength="13.6" lengthAdjust="spacingAndGlyphs">0.867</text>
<text x="166.39" y="212.78" textLength="13.6" lengthAdjust="spacingAndGlyphs">0.931</text>
<text x="188.31" y="212.78" textLength="13.6" lengthAdjust="spacingAndGlyphs">0.813</text>
<text x="210.23" y="212.78" textLength="13.6" lengthAdjust="spacingAndGlyphs">0.736</text>
<text x="232.15" y="212.78" textLength="13.6" lengthAdjust="spacingAndGlyphs">0.816</text>
<text x="122.55" y="220.88" textLength="13.6" lengthAdjust="spacingAndGlyphs">0.813</text>
<text x="144.47" y="220.88" textLength="13.6" lengthAdjust="spacingAndGlyphs">0.867</text>
<text x="166.39" y="220.88" textLength="13.6" lengthAdjust="spacingAndGlyphs">0.929</text>
<text x="188.31" y="220.88" textLength="13.6" lengthAdjust="spacingAndGlyphs">0.798</text>
<text x="210.23" y="220.88" textLength="13.6" lengthAdjust="spacingAndGlyphs">0.753</text>
<text x="232.15" y="220.88" textLength="13.6" lengthAdjust="spacingAndGlyphs">0.834</text>
<text x="122.55" y="228.99" textLength="13.6" lengthAdjust="spacingAndGlyphs">0.907</text>
<text x="144.47" y="228.99" textLength="13.6" lengthAdjust="spacingAndGlyphs">0.863</text>
<text x="166.39" y="228.99" textLength="13.6" lengthAdjust="spacingAndGlyphs">0.894</text>
<text x="188.31" y="228.99" textLength="13.6" lengthAdjust="spacingAndGlyphs">0.821</text>
<text x="210.23" y="228.99" textLength="13.6" lengthAdjust="spacingAndGlyphs">0.692</text>
<text x="232.15" y="228.99" textLength="13.6" lengthAdjust="spacingAndGlyphs">0.816</text>
<text x="122.55" y="237.09" textLength="13.6" lengthAdjust="spacingAndGlyphs">1.000</text>
<text x="144.47" y="237.09" textLength="13.6" lengthAdjust="spacingAndGlyphs">0.912</text>
<text x="166.39" y="237.09" textLength="13.6" lengthAdjust="spacingAndGlyphs">0.890</text>
<text x="188.31" y="237.09" textLength="13.6" lengthAdjust="spacingAndGlyphs">0.774</text>
<text x="210.23" y="237.09" textLength="13.6" lengthAdjust="spacingAndGlyphs">0.610</text>
<text x="232.15" y="237.09" textLength="13.6" lengthAdjust="spacingAndGlyphs">0.805</text>
<text x="122.55" y="245.19" textLength="13.6" lengthAdjust="spacingAndGlyphs">0.843</text>
<text x="144.47" y="245.19" textLength="13.6" lengthAdjust="spacingAndGlyphs">0.887</text>
<text x="166.39" y="245.19" textLength="13.6" lengthAdjust="spacingAndGlyphs">0.934</text>
<text x="188.31" y="245.19" textLength="13.6" lengthAdjust="spacingAndGlyphs">0.821</text>
<text x="210.23" y="245.19" textLength="13.6" lengthAdjust="spacingAndGlyphs">0.703</text>
<text x="232.15" y="245.19" textLength="13.6" lengthAdjust="spacingAndGlyphs">0.797</text>
<text x="122.55" y="253.3" textLength="13.6" lengthAdjust="spacingAndGlyphs">0.819</text>
<text x="144.47" y="253.3" textLength="13.6" lengthAdjust="spacingAndGlyphs">0.867</text>
<text x="166.39" y="253.3" textLength="13.6" lengthAdjust="spacingAndGlyphs">0.934</text>
<text x="188.31" y="253.3" textLength="13.6" lengthAdjust="spacingAndGlyphs">0.817</text>
<text x="210.23" y="253.3" textLength="13.6" lengthAdjust="spacingAndGlyphs">0.725</text>
<text x="232.15" y="253.3" textLength="13.6" lengthAdjust="spacingAndGlyphs">0.824</text>
<text x="122.55" y="261.4" textLength="13.6" lengthAdjust="spacingAndGlyphs">0.819</text>
<text x="144.47" y="261.4" textLength="13.6" lengthAdjust="spacingAndGlyphs">0.854</text>
<text x="166.39" y="261.4" textLength="13.6" lengthAdjust="spacingAndGlyphs">0.934</text>
<text x="188.31" y="261.4" textLength="13.6" lengthAdjust="spacingAndGlyphs">0.806</text>
<text x="210.23" y="261.4" textLength="13.6" lengthAdjust="spacingAndGlyphs">0.742</text>
<text x="232.15" y="261.4" textLength="13.6" lengthAdjust="spacingAndGlyphs">0.829</text>
<text x="122.55" y="269.51" textLength="13.6" lengthAdjust="spacingAndGlyphs">0.837</text>
<text x="144.47" y="269.51" textLength="13.6" lengthAdjust="spacingAndGlyphs">0.892</text>
<text x="166.39" y="269.51" textLength="13.6" lengthAdjust="spacingAndGlyphs">0.916</text>
<text x="188.31" y="269.51" textLength="13.6" lengthAdjust="spacingAndGlyphs">0.821</text>
<text x="210.23" y="269.51" textLength="13.6" lengthAdjust="spacingAndGlyphs">0.709</text>
<text x="232.15" y="269.51" textLength="13.6" lengthAdjust="spacingAndGlyphs">0.808</text>
<text x="122.55" y="277.61" textLength="13.6" lengthAdjust="spacingAndGlyphs">0.833</text>
<text x="144.47" y="277.61" textLength="13.6" lengthAdjust="spacingAndGlyphs">0.863</text>
<text x="166.39" y="277.61" textLength="13.6" lengthAdjust="spacingAndGlyphs">0.930</text>
<text x="188.31" y="277.61" textLength="13.6" lengthAdjust="spacingAndGlyphs">0.810</text>
<text x="210.23" y="277.61" textLength="13.6" lengthAdjust="spacingAndGlyphs">0.731</text>
<text x="232.15" y="277.61" textLength="13.6" lengthAdjust="spacingAndGlyphs">0.816</text>
<text x="122.55" y="285.71" textLength="13.6" lengthAdjust="spacingAndGlyphs">0.836</text>
<text x="144.47" y="285.71" textLength="13.6" lengthAdjust="spacingAndGlyphs">0.900</text>
<text x="166.39" y="285.71" textLength="13.6" lengthAdjust="spacingAndGlyphs">0.921</text>
<text x="188.31" y="285.71" textLength="13.6" lengthAdjust="spacingAndGlyphs">0.821</text>
<text x="210.23" y="285.71" textLength="13.6" lengthAdjust="spacingAndGlyphs">0.698</text>
<text x="232.15" y="285.71" textLength="13.6" lengthAdjust="spacingAndGlyphs">0.805</text>
<text x="122.55" y="293.82" textLength="13.6" lengthAdjust="spacingAndGlyphs">0.814</text>
<text x="144.47" y="293.82" textLength="13.6" lengthAdjust="spacingAndGlyphs">0.904</text>
<text x="166.39" y="293.82" textLength="13.6" lengthAdjust="spacingAndGlyphs">0.919</text>
<text x="188.31" y="293.82" textLength="13.6" lengthAdjust="spacingAndGlyphs">0.825</text>
<text x="210.23" y="293.82" textLength="13.6" lengthAdjust="spacingAndGlyphs">0.714</text>
<text x="232.15" y="293.82" textLength="13.6" lengthAdjust="spacingAndGlyphs">0.803</text>
<text x="122.55" y="301.92" textLength="13.6" lengthAdjust="spacingAndGlyphs">0.834</text>
<text x="144.47" y="301.92" textLength="13.6" lengthAdjust="spacingAndGlyphs">0.863</text>
<text x="166.39" y="301.92" textLength="13.6" lengthAdjust="spacingAndGlyphs">0.930</text>
<text x="188.31" y="301.92" textLength="13.6" lengthAdjust="spacingAndGlyphs">0.817</text>
<text x="210.23" y="301.92" textLength="13.6" lengthAdjust="spacingAndGlyphs">0.725</text>
<text x="232.15" y="301.92" textLength="13.6" lengthAdjust="spacingAndGlyphs">0.808</text>
<text x="122.55" y="310.03" textLength="13.6" lengthAdjust="spacingAndGlyphs">0.829</text>
<text x="144.47" y="310.03" textLength="13.6" lengthAdjust="spacingAndGlyphs">0.900</text>
<text x="166.39" y="310.03" textLength="13.6" lengthAdjust="spacingAndGlyphs">0.922</text>
<text x="188.31" y="310.03" textLength="13.6" lengthAdjust="spacingAndGlyphs">0.813</text>
<text x="210.23" y="310.03" textLength="13.6" lengthAdjust="spacingAndGlyphs">0.692</text>
<text x="232.15" y="310.03" textLength="13.6" lengthAdjust="spacingAndGlyphs">0.821</text>
<text x="122.55" y="318.13" textLength="13.6" lengthAdjust="spacingAndGlyphs">0.829</text>
<text x="144.47" y="318.13" textLength="13.6" lengthAdjust="spacingAndGlyphs">0.900</text>
<text x="166.39" y="318.13" textLength="13.6" lengthAdjust="spacingAndGlyphs">0.922</text>
<text x="188.31" y="318.13" textLength="13.6" lengthAdjust="spacingAndGlyphs">0.813</text>
<text x="210.23" y="318.13" textLength="13.6" lengthAdjust="spacingAndGlyphs">0.692</text>
<text x="232.15" y="318.13" textLength="13.6" lengthAdjust="spacingAndGlyphs">0.821</text>
<text x="122.55" y="326.23" textLength="13.6" lengthAdjust="spacingAndGlyphs">0.819</text>
<text x="144.47" y="326.23" textLength="13.6" lengthAdjust="spacingAndGlyphs">0.854</text>
<text x="166.39" y="326.23" textLength="13.6" lengthAdjust="spacingAndGlyphs">0.932</text>
<text x="188.31" y="326.23" textLength="13.6" lengthAdjust="spacingAndGlyphs">0.802</text>
<text x="210.23" y="326.23" textLength="13.6" lengthAdjust="spacingAndGlyphs">0.736</text>
<text x="232.15" y="326.23" textLength="13.6" lengthAdjust="spacingAndGlyphs">0.832</text>
<text x="122.55" y="334.34" textLength="13.6" lengthAdjust="spacingAndGlyphs">0.955</text>
<text x="144.47" y="334.34" textLength="13.6" lengthAdjust="spacingAndGlyphs">0.879</text>
<text x="166.39" y="334.34" textLength="13.6" lengthAdjust="spacingAndGlyphs">0.907</text>
<text x="188.31" y="334.34" textLength="13.6" lengthAdjust="spacingAndGlyphs">0.798</text>
<text x="210.23" y="334.34" textLength="13.6" lengthAdjust="spacingAndGlyphs">0.648</text>
<text x="232.15" y="334.34" textLength="13.6" lengthAdjust="spacingAndGlyphs">0.784</text>
<text x="122.55" y="342.44" textLength="13.6" lengthAdjust="spacingAndGlyphs">0.826</text>
<text x="144.47" y="342.44" textLength="13.6" lengthAdjust="spacingAndGlyphs">0.867</text>
<text x="166.39" y="342.44" textLength="13.6" lengthAdjust="spacingAndGlyphs">0.934</text>
<text x="188.31" y="342.44" textLength="13.6" lengthAdjust="spacingAndGlyphs">0.806</text>
<text x="210.23" y="342.44" textLength="13.6" lengthAdjust="spacingAndGlyphs">0.725</text>
<text x="232.15" y="342.44" textLength="13.6" lengthAdjust="spacingAndGlyphs">0.813</text>
<text x="122.55" y="350.55" textLength="13.6" lengthAdjust="spacingAndGlyphs">0.834</text>
<text x="144.47" y="350.55" textLength="13.6" lengthAdjust="spacingAndGlyphs">0.863</text>
<text x="166.39" y="350.55" textLength="13.6" lengthAdjust="spacingAndGlyphs">0.929</text>
<text x="188.31" y="350.55" textLength="13.6" lengthAdjust="spacingAndGlyphs">0.817</text>
<text x="210.23" y="350.55" textLength="13.6" lengthAdjust="spacingAndGlyphs">0.714</text>
<text x="232.15" y="350.55" textLength="13.6" lengthAdjust="spacingAndGlyphs">0.808</text>
<text x="122.55" y="358.65" textLength="13.6" lengthAdjust="spacingAndGlyphs">0.834</text>
<text x="144.47" y="358.65" textLength="13.6" lengthAdjust="spacingAndGlyphs">0.867</text>
<text x="166.39" y="358.65" textLength="13.6" lengthAdjust="spacingAndGlyphs">0.926</text>
<text x="188.31" y="358.65" textLength="13.6" lengthAdjust="spacingAndGlyphs">0.810</text>
<text x="210.23" y="358.65" textLength="13.6" lengthAdjust="spacingAndGlyphs">0.731</text>
<text x="232.15" y="358.65" textLength="13.6" lengthAdjust="spacingAndGlyphs">0.795</text>
<text x="122.55" y="366.75" textLength="13.6" lengthAdjust="spacingAndGlyphs">0.834</text>
<text x="144.47" y="366.75" textLength="13.6" lengthAdjust="spacingAndGlyphs">0.867</text>
<text x="166.39" y="366.75" textLength="13.6" lengthAdjust="spacingAndGlyphs">0.926</text>
<text x="188.31" y="366.75" textLength="13.6" lengthAdjust="spacingAndGlyphs">0.810</text>
<text x="210.23" y="366.75" textLength="13.6" lengthAdjust="spacingAndGlyphs">0.731</text>
<text x="232.15" y="366.75" textLength="13.6" lengthAdjust="spacingAndGlyphs">0.795</text>
<text x="122.55" y="374.86" textLength="13.6" lengthAdjust="spacingAndGlyphs">0.908</text>
<text x="144.47" y="374.86" textLength="13.6" lengthAdjust="spacingAndGlyphs">0.858</text>
<text x="166.39" y="374.86" textLength="13.6" lengthAdjust="spacingAndGlyphs">0.889</text>
<text x="188.31" y="374.86" textLength="13.6" lengthAdjust="spacingAndGlyphs">0.813</text>
<text x="210.23" y="374.86" textLength="13.6" lengthAdjust="spacingAndGlyphs">0.676</text>
<text x="232.15" y="374.86" textLength="13.6" lengthAdjust="spacingAndGlyphs">0.816</text>
<text x="122.55" y="382.96" textLength="13.6" lengthAdjust="spacingAndGlyphs">0.833</text>
<text x="144.47" y="382.96" textLength="13.6" lengthAdjust="spacingAndGlyphs">0.863</text>
<text x="166.39" y="382.96" textLength="13.6" lengthAdjust="spacingAndGlyphs">0.927</text>
<text x="188.31" y="382.96" textLength="13.6" lengthAdjust="spacingAndGlyphs">0.813</text>
<text x="210.23" y="382.96" textLength="13.6" lengthAdjust="spacingAndGlyphs">0.714</text>
<text x="232.15" y="382.96" textLength="13.6" lengthAdjust="spacingAndGlyphs">0.805</text>
<text x="122.55" y="391.07" textLength="13.6" lengthAdjust="spacingAndGlyphs">0.838</text>
<text x="144.47" y="391.07" textLength="13.6" lengthAdjust="spacingAndGlyphs">0.892</text>
<text x="166.39" y="391.07" textLength="13.6" lengthAdjust="spacingAndGlyphs">0.922</text>
<text x="188.31" y="391.07" textLength="13.6" lengthAdjust="spacingAndGlyphs">0.821</text>
<text x="210.23" y="391.07" textLength="13.6" lengthAdjust="spacingAndGlyphs">0.692</text>
<text x="232.15" y="391.07" textLength="13.6" lengthAdjust="spacingAndGlyphs">0.792</text>
<text x="122.55" y="399.17" textLength="13.6" lengthAdjust="spacingAndGlyphs">0.824</text>
<text x="144.47" y="399.17" textLength="13.6" lengthAdjust="spacingAndGlyphs">0.863</text>
<text x="166.39" y="399.17" textLength="13.6" lengthAdjust="spacingAndGlyphs">0.934</text>
<text x="188.31" y="399.17" textLength="13.6" lengthAdjust="spacingAndGlyphs">0.802</text>
<text x="210.23" y="399.17" textLength="13.6" lengthAdjust="spacingAndGlyphs">0.725</text>
<text x="232.15" y="399.17" textLength="13.6" lengthAdjust="spacingAndGlyphs">0.805</text>
<text x="122.55" y="407.27" textLength="13.6" lengthAdjust="spacingAndGlyphs">0.828</text>
<text x="144.47" y="407.27" textLength="13.6" lengthAdjust="spacingAndGlyphs">0.871</text>
<text x="166.39" y="407.27" textLength="13.6" lengthAdjust="spacingAndGlyphs">0.932</text>
<text x="188.31" y="407.27" textLength="13.6" lengthAdjust="spacingAndGlyphs">0.810</text>
<text x="210.23" y="407.27" textLength="13.6" lengthAdjust="spacingAndGlyphs">0.714</text>
<text x="232.15" y="407.27" textLength="13.6" lengthAdjust="spacingAndGlyphs">0.789</text>
<text x="122.55" y="415.38" textLength="13.6" lengthAdjust="spacingAndGlyphs">0.833</text>
<text x="144.47" y="415.38" textLength="13.6" lengthAdjust="spacingAndGlyphs">0.863</text>
<text x="166.39" y="415.38" textLength="13.6" lengthAdjust="spacingAndGlyphs">0.924</text>
<text x="188.31" y="415.38" textLength="13.6" lengthAdjust="spacingAndGlyphs">0.810</text>
<text x="210.23" y="415.38" textLength="13.6" lengthAdjust="spacingAndGlyphs">0.714</text>
<text x="232.15" y="415.38" textLength="13.6" lengthAdjust="spacingAndGlyphs">0.797</text>
<text x="122.55" y="423.48" textLength="13.6" lengthAdjust="spacingAndGlyphs">0.934</text>
<text x="144.47" y="423.48" textLength="13.6" lengthAdjust="spacingAndGlyphs">0.900</text>
<text x="166.39" y="423.48" textLength="13.6" lengthAdjust="spacingAndGlyphs">0.884</text>
<text x="188.31" y="423.48" textLength="13.6" lengthAdjust="spacingAndGlyphs">0.786</text>
<text x="210.23" y="423.48" textLength="13.6" lengthAdjust="spacingAndGlyphs">0.615</text>
<text x="232.15" y="423.48" textLength="13.6" lengthAdjust="spacingAndGlyphs">0.821</text>
<text x="122.55" y="431.59" textLength="13.6" lengthAdjust="spacingAndGlyphs">0.840</text>
<text x="144.47" y="431.59" textLength="13.6" lengthAdjust="spacingAndGlyphs">0.867</text>
<text x="166.39" y="431.59" textLength="13.6" lengthAdjust="spacingAndGlyphs">0.930</text>
<text x="188.31" y="431.59" textLength="13.6" lengthAdjust="spacingAndGlyphs">0.817</text>
<text x="210.23" y="431.59" textLength="13.6" lengthAdjust="spacingAndGlyphs">0.692</text>
<text x="232.15" y="431.59" textLength="13.6" lengthAdjust="spacingAndGlyphs">0.789</text>
<text x="122.55" y="439.69" textLength="13.6" lengthAdjust="spacingAndGlyphs">0.831</text>
<text x="144.47" y="439.69" textLength="13.6" lengthAdjust="spacingAndGlyphs">0.871</text>
<text x="166.39" y="439.69" textLength="13.6" lengthAdjust="spacingAndGlyphs">0.929</text>
<text x="188.31" y="439.69" textLength="13.6" lengthAdjust="spacingAndGlyphs">0.833</text>
<text x="210.23" y="439.69" textLength="13.6" lengthAdjust="spacingAndGlyphs">0.670</text>
<text x="232.15" y="439.69" textLength="13.6" lengthAdjust="spacingAndGlyphs">0.800</text>
<text x="122.55" y="447.79" textLength="13.6" lengthAdjust="spacingAndGlyphs">0.989</text>
<text x="144.47" y="447.79" textLength="13.6" lengthAdjust="spacingAndGlyphs">0.892</text>
<text x="166.39" y="447.79" textLength="13.6" lengthAdjust="spacingAndGlyphs">0.907</text>
<text x="188.31" y="447.79" textLength="13.6" lengthAdjust="spacingAndGlyphs">0.758</text>
<text x="210.23" y="447.79" textLength="13.6" lengthAdjust="spacingAndGlyphs">0.571</text>
<text x="232.15" y="447.79" textLength="13.6" lengthAdjust="spacingAndGlyphs">0.808</text>
<text x="122.55" y="455.9" textLength="13.6" lengthAdjust="spacingAndGlyphs">0.831</text>
<text x="144.47" y="455.9" textLength="13.6" lengthAdjust="spacingAndGlyphs">0.858</text>
<text x="166.39" y="455.9" textLength="13.6" lengthAdjust="spacingAndGlyphs">0.924</text>
<text x="188.31" y="455.9" textLength="13.6" lengthAdjust="spacingAndGlyphs">0.810</text>
<text x="210.23" y="455.9" textLength="13.6" lengthAdjust="spacingAndGlyphs">0.714</text>
<text x="232.15" y="455.9" textLength="13.6" lengthAdjust="spacingAndGlyphs">0.789</text>
<text x="122.55" y="464" textLength="13.6" lengthAdjust="spacingAndGlyphs">0.831</text>
<text x="144.47" y="464" textLength="13.6" lengthAdjust="spacingAndGlyphs">0.867</text>
<text x="166.39" y="464" textLength="13.6" lengthAdjust="spacingAndGlyphs">0.932</text>
<text x="188.31" y="464" textLength="13.6" lengthAdjust="spacingAndGlyphs">0.794</text>
<text x="210.23" y="464" textLength="13.6" lengthAdjust="spacingAndGlyphs">0.720</text>
<text x="232.15" y="464" textLength="13.6" lengthAdjust="spacingAndGlyphs">0.782</text>
<text x="122.55" y="472.11" textLength="13.6" lengthAdjust="spacingAndGlyphs">0.814</text>
<text x="144.47" y="472.11" textLength="13.6" lengthAdjust="spacingAndGlyphs">0.854</text>
<text x="166.39" y="472.11" textLength="13.6" lengthAdjust="spacingAndGlyphs">0.918</text>
<text x="188.31" y="472.11" textLength="13.6" lengthAdjust="spacingAndGlyphs">0.794</text>
<text x="210.23" y="472.11" textLength="13.6" lengthAdjust="spacingAndGlyphs">0.736</text>
<text x="232.15" y="472.11" textLength="13.6" lengthAdjust="spacingAndGlyphs">0.805</text>
<text x="122.55" y="480.21" textLength="13.6" lengthAdjust="spacingAndGlyphs">0.814</text>
<text x="144.47" y="480.21" textLength="13.6" lengthAdjust="spacingAndGlyphs">0.854</text>
<text x="166.39" y="480.21" textLength="13.6" lengthAdjust="spacingAndGlyphs">0.918</text>
<text x="188.31" y="480.21" textLength="13.6" lengthAdjust="spacingAndGlyphs">0.794</text>
<text x="210.23" y="480.21" textLength="13.6" lengthAdjust="spacingAndGlyphs">0.736</text>
<text x="232.15" y="480.21" textLength="13.6" lengthAdjust="spacingAndGlyphs">0.805</text>
<text x="122.55" y="488.31" textLength="13.6" lengthAdjust="spacingAndGlyphs">0.814</text>
<text x="144.47" y="488.31" textLength="13.6" lengthAdjust="spacingAndGlyphs">0.871</text>
<text x="166.39" y="488.31" textLength="13.6" lengthAdjust="spacingAndGlyphs">0.891</text>
<text x="188.31" y="488.31" textLength="13.6" lengthAdjust="spacingAndGlyphs">0.813</text>
<text x="210.23" y="488.31" textLength="13.6" lengthAdjust="spacingAndGlyphs">0.654</text>
<text x="232.15" y="488.31" textLength="13.6" lengthAdjust="spacingAndGlyphs">0.876</text>
<text x="122.55" y="496.42" textLength="13.6" lengthAdjust="spacingAndGlyphs">0.828</text>
<text x="144.47" y="496.42" textLength="13.6" lengthAdjust="spacingAndGlyphs">0.867</text>
<text x="166.39" y="496.42" textLength="13.6" lengthAdjust="spacingAndGlyphs">0.929</text>
<text x="188.31" y="496.42" textLength="13.6" lengthAdjust="spacingAndGlyphs">0.829</text>
<text x="210.23" y="496.42" textLength="13.6" lengthAdjust="spacingAndGlyphs">0.681</text>
<text x="232.15" y="496.42" textLength="13.6" lengthAdjust="spacingAndGlyphs">0.784</text>
<text x="122.55" y="504.52" textLength="13.6" lengthAdjust="spacingAndGlyphs">0.830</text>
<text x="144.47" y="504.52" textLength="13.6" lengthAdjust="spacingAndGlyphs">0.867</text>
<text x="166.39" y="504.52" textLength="13.6" lengthAdjust="spacingAndGlyphs">0.929</text>
<text x="188.31" y="504.52" textLength="13.6" lengthAdjust="spacingAndGlyphs">0.802</text>
<text x="210.23" y="504.52" textLength="13.6" lengthAdjust="spacingAndGlyphs">0.714</text>
<text x="232.15" y="504.52" textLength="13.6" lengthAdjust="spacingAndGlyphs">0.776</text>
<text x="122.55" y="512.63" textLength="13.6" lengthAdjust="spacingAndGlyphs">0.854</text>
<text x="144.47" y="512.63" textLength="13.6" lengthAdjust="spacingAndGlyphs">0.879</text>
<text x="166.39" y="512.63" textLength="13.6" lengthAdjust="spacingAndGlyphs">0.914</text>
<text x="188.31" y="512.63" textLength="13.6" lengthAdjust="spacingAndGlyphs">0.845</text>
<text x="210.23" y="512.63" textLength="13.6" lengthAdjust="spacingAndGlyphs">0.648</text>
<text x="232.15" y="512.63" textLength="13.6" lengthAdjust="spacingAndGlyphs">0.768</text>
<text x="122.55" y="520.73" textLength="13.6" lengthAdjust="spacingAndGlyphs">0.829</text>
<text x="144.47" y="520.73" textLength="13.6" lengthAdjust="spacingAndGlyphs">0.854</text>
<text x="166.39" y="520.73" textLength="13.6" lengthAdjust="spacingAndGlyphs">0.921</text>
<text x="188.31" y="520.73" textLength="13.6" lengthAdjust="spacingAndGlyphs">0.810</text>
<text x="210.23" y="520.73" textLength="13.6" lengthAdjust="spacingAndGlyphs">0.709</text>
<text x="232.15" y="520.73" textLength="13.6" lengthAdjust="spacingAndGlyphs">0.779</text>
<text x="122.55" y="528.83" textLength="13.6" lengthAdjust="spacingAndGlyphs">0.803</text>
<text x="144.47" y="528.83" textLength="13.6" lengthAdjust="spacingAndGlyphs">0.829</text>
<text x="166.39" y="528.83" textLength="13.6" lengthAdjust="spacingAndGlyphs">0.901</text>
<text x="188.31" y="528.83" textLength="13.6" lengthAdjust="spacingAndGlyphs">0.853</text>
<text x="210.23" y="528.83" textLength="13.6" lengthAdjust="spacingAndGlyphs">0.665</text>
<text x="232.15" y="528.83" textLength="13.6" lengthAdjust="spacingAndGlyphs">0.845</text>
<text x="122.55" y="536.94" textLength="13.6" lengthAdjust="spacingAndGlyphs">0.830</text>
<text x="144.47" y="536.94" textLength="13.6" lengthAdjust="spacingAndGlyphs">0.850</text>
<text x="166.39" y="536.94" textLength="13.6" lengthAdjust="spacingAndGlyphs">0.918</text>
<text x="188.31" y="536.94" textLength="13.6" lengthAdjust="spacingAndGlyphs">0.810</text>
<text x="210.23" y="536.94" textLength="13.6" lengthAdjust="spacingAndGlyphs">0.703</text>
<text x="232.15" y="536.94" textLength="13.6" lengthAdjust="spacingAndGlyphs">0.768</text>
<text x="122.55" y="545.04" textLength="13.6" lengthAdjust="spacingAndGlyphs">0.831</text>
<text x="144.47" y="545.04" textLength="13.6" lengthAdjust="spacingAndGlyphs">0.863</text>
<text x="166.39" y="545.04" textLength="13.6" lengthAdjust="spacingAndGlyphs">0.929</text>
<text x="188.31" y="545.04" textLength="13.6" lengthAdjust="spacingAndGlyphs">0.786</text>
<text x="210.23" y="545.04" textLength="13.6" lengthAdjust="spacingAndGlyphs">0.709</text>
<text x="232.15" y="545.04" textLength="13.6" lengthAdjust="spacingAndGlyphs">0.755</text>
<text x="122.55" y="553.15" textLength="13.6" lengthAdjust="spacingAndGlyphs">0.943</text>
<text x="144.47" y="553.15" textLength="13.6" lengthAdjust="spacingAndGlyphs">0.879</text>
<text x="166.39" y="553.15" textLength="13.6" lengthAdjust="spacingAndGlyphs">0.883</text>
<text x="188.31" y="553.15" textLength="13.6" lengthAdjust="spacingAndGlyphs">0.782</text>
<text x="210.23" y="553.15" textLength="13.6" lengthAdjust="spacingAndGlyphs">0.593</text>
<text x="232.15" y="553.15" textLength="13.6" lengthAdjust="spacingAndGlyphs">0.789</text>
<text x="122.55" y="561.25" textLength="13.6" lengthAdjust="spacingAndGlyphs">0.830</text>
<text x="144.47" y="561.25" textLength="13.6" lengthAdjust="spacingAndGlyphs">0.858</text>
<text x="166.39" y="561.25" textLength="13.6" lengthAdjust="spacingAndGlyphs">0.931</text>
<text x="188.31" y="561.25" textLength="13.6" lengthAdjust="spacingAndGlyphs">0.798</text>
<text x="210.23" y="561.25" textLength="13.6" lengthAdjust="spacingAndGlyphs">0.703</text>
<text x="232.15" y="561.25" textLength="13.6" lengthAdjust="spacingAndGlyphs">0.747</text>
<text x="122.55" y="569.35" textLength="13.6" lengthAdjust="spacingAndGlyphs">0.813</text>
<text x="144.47" y="569.35" textLength="13.6" lengthAdjust="spacingAndGlyphs">0.846</text>
<text x="166.39" y="569.35" textLength="13.6" lengthAdjust="spacingAndGlyphs">0.931</text>
<text x="188.31" y="569.35" textLength="13.6" lengthAdjust="spacingAndGlyphs">0.821</text>
<text x="210.23" y="569.35" textLength="13.6" lengthAdjust="spacingAndGlyphs">0.637</text>
<text x="232.15" y="569.35" textLength="13.6" lengthAdjust="spacingAndGlyphs">0.787</text>
<text x="122.55" y="577.46" textLength="13.6" lengthAdjust="spacingAndGlyphs">0.799</text>
<text x="144.47" y="577.46" textLength="13.6" lengthAdjust="spacingAndGlyphs">0.838</text>
<text x="166.39" y="577.46" textLength="13.6" lengthAdjust="spacingAndGlyphs">0.890</text>
<text x="188.31" y="577.46" textLength="13.6" lengthAdjust="spacingAndGlyphs">0.849</text>
<text x="210.23" y="577.46" textLength="13.6" lengthAdjust="spacingAndGlyphs">0.604</text>
<text x="232.15" y="577.46" textLength="13.6" lengthAdjust="spacingAndGlyphs">0.800</text>
<text x="122.55" y="585.56" textLength="13.6" lengthAdjust="spacingAndGlyphs">0.845</text>
<text x="144.47" y="585.56" textLength="13.6" lengthAdjust="spacingAndGlyphs">0.858</text>
<text x="166.39" y="585.56" textLength="13.6" lengthAdjust="spacingAndGlyphs">0.868</text>
<text x="188.31" y="585.56" textLength="13.6" lengthAdjust="spacingAndGlyphs">0.778</text>
<text x="210.23" y="585.56" textLength="13.6" lengthAdjust="spacingAndGlyphs">0.659</text>
<text x="232.15" y="585.56" textLength="13.6" lengthAdjust="spacingAndGlyphs">0.755</text>
<text x="122.55" y="593.67" textLength="13.6" lengthAdjust="spacingAndGlyphs">0.878</text>
<text x="144.47" y="593.67" textLength="13.6" lengthAdjust="spacingAndGlyphs">0.773</text>
<text x="166.39" y="593.67" textLength="13.6" lengthAdjust="spacingAndGlyphs">0.873</text>
<text x="188.31" y="593.67" textLength="13.6" lengthAdjust="spacingAndGlyphs">0.766</text>
<text x="210.23" y="593.67" textLength="13.6" lengthAdjust="spacingAndGlyphs">0.687</text>
<text x="232.15" y="593.67" textLength="13.6" lengthAdjust="spacingAndGlyphs">0.738</text>
<text x="122.55" y="601.77" textLength="13.6" lengthAdjust="spacingAndGlyphs">0.862</text>
<text x="144.47" y="601.77" textLength="13.6" lengthAdjust="spacingAndGlyphs">0.900</text>
<text x="166.39" y="601.77" textLength="13.6" lengthAdjust="spacingAndGlyphs">0.873</text>
<text x="188.31" y="601.77" textLength="13.6" lengthAdjust="spacingAndGlyphs">0.786</text>
<text x="210.23" y="601.77" textLength="13.6" lengthAdjust="spacingAndGlyphs">0.588</text>
<text x="232.15" y="601.77" textLength="13.6" lengthAdjust="spacingAndGlyphs">0.705</text>
<text x="122.55" y="609.87" textLength="13.6" lengthAdjust="spacingAndGlyphs">0.883</text>
<text x="144.47" y="609.87" textLength="13.6" lengthAdjust="spacingAndGlyphs">0.917</text>
<text x="166.39" y="609.87" textLength="13.6" lengthAdjust="spacingAndGlyphs">0.835</text>
<text x="188.31" y="609.87" textLength="13.6" lengthAdjust="spacingAndGlyphs">0.750</text>
<text x="210.23" y="609.87" textLength="13.6" lengthAdjust="spacingAndGlyphs">0.599</text>
<text x="232.15" y="609.87" textLength="13.6" lengthAdjust="spacingAndGlyphs">0.668</text>
<text x="122.55" y="617.98" textLength="13.6" lengthAdjust="spacingAndGlyphs">0.852</text>
<text x="144.47" y="617.98" textLength="13.6" lengthAdjust="spacingAndGlyphs">0.887</text>
<text x="166.39" y="617.98" textLength="13.6" lengthAdjust="spacingAndGlyphs">0.901</text>
<text x="188.31" y="617.98" textLength="13.6" lengthAdjust="spacingAndGlyphs">0.794</text>
<text x="210.23" y="617.98" textLength="13.6" lengthAdjust="spacingAndGlyphs">0.511</text>
<text x="232.15" y="617.98" textLength="13.6" lengthAdjust="spacingAndGlyphs">0.700</text>
<text x="122.55" y="626.08" textLength="13.6" lengthAdjust="spacingAndGlyphs">0.887</text>
<text x="144.47" y="626.08" textLength="13.6" lengthAdjust="spacingAndGlyphs">0.879</text>
<text x="166.39" y="626.08" textLength="13.6" lengthAdjust="spacingAndGlyphs">0.832</text>
<text x="188.31" y="626.08" textLength="13.6" lengthAdjust="spacingAndGlyphs">0.734</text>
<text x="210.23" y="626.08" textLength="13.6" lengthAdjust="spacingAndGlyphs">0.604</text>
<text x="232.15" y="626.08" textLength="13.6" lengthAdjust="spacingAndGlyphs">0.695</text>
<text x="122.55" y="634.19" textLength="13.6" lengthAdjust="spacingAndGlyphs">0.892</text>
<text x="144.47" y="634.19" textLength="13.6" lengthAdjust="spacingAndGlyphs">0.875</text>
<text x="166.39" y="634.19" textLength="13.6" lengthAdjust="spacingAndGlyphs">0.823</text>
<text x="188.31" y="634.19" textLength="13.6" lengthAdjust="spacingAndGlyphs">0.734</text>
<text x="210.23" y="634.19" textLength="13.6" lengthAdjust="spacingAndGlyphs">0.610</text>
<text x="232.15" y="634.19" textLength="13.6" lengthAdjust="spacingAndGlyphs">0.687</text>
<text x="122.55" y="642.29" textLength="13.6" lengthAdjust="spacingAndGlyphs">0.865</text>
<text x="144.47" y="642.29" textLength="13.6" lengthAdjust="spacingAndGlyphs">0.900</text>
<text x="166.39" y="642.29" textLength="13.6" lengthAdjust="spacingAndGlyphs">0.882</text>
<text x="188.31" y="642.29" textLength="13.6" lengthAdjust="spacingAndGlyphs">0.774</text>
<text x="210.23" y="642.29" textLength="13.6" lengthAdjust="spacingAndGlyphs">0.505</text>
<text x="232.15" y="642.29" textLength="13.6" lengthAdjust="spacingAndGlyphs">0.674</text>
<text x="122.55" y="650.39" textLength="13.6" lengthAdjust="spacingAndGlyphs">0.792</text>
<text x="144.47" y="650.39" textLength="13.6" lengthAdjust="spacingAndGlyphs">0.787</text>
<text x="166.39" y="650.39" textLength="13.6" lengthAdjust="spacingAndGlyphs">0.909</text>
<text x="188.31" y="650.39" textLength="13.6" lengthAdjust="spacingAndGlyphs">0.762</text>
<text x="210.23" y="650.39" textLength="13.6" lengthAdjust="spacingAndGlyphs">0.632</text>
<text x="232.15" y="650.39" textLength="13.6" lengthAdjust="spacingAndGlyphs">0.653</text>
<text x="122.55" y="658.5" textLength="13.6" lengthAdjust="spacingAndGlyphs">0.819</text>
<text x="144.47" y="658.5" textLength="13.6" lengthAdjust="spacingAndGlyphs">0.794</text>
<text x="166.39" y="658.5" textLength="13.6" lengthAdjust="spacingAndGlyphs">0.839</text>
<text x="188.31" y="658.5" textLength="13.6" lengthAdjust="spacingAndGlyphs">0.750</text>
<text x="210.23" y="658.5" textLength="13.6" lengthAdjust="spacingAndGlyphs">0.599</text>
<text x="232.15" y="658.5" textLength="13.6" lengthAdjust="spacingAndGlyphs">0.732</text>
<text x="122.55" y="666.6" textLength="13.6" lengthAdjust="spacingAndGlyphs">0.907</text>
<text x="144.47" y="666.6" textLength="13.6" lengthAdjust="spacingAndGlyphs">0.825</text>
<text x="166.39" y="666.6" textLength="13.6" lengthAdjust="spacingAndGlyphs">0.784</text>
<text x="188.31" y="666.6" textLength="13.6" lengthAdjust="spacingAndGlyphs">0.698</text>
<text x="210.23" y="666.6" textLength="13.6" lengthAdjust="spacingAndGlyphs">0.637</text>
<text x="232.15" y="666.6" textLength="13.6" lengthAdjust="spacingAndGlyphs">0.663</text>
<text x="122.55" y="674.71" textLength="13.6" lengthAdjust="spacingAndGlyphs">0.909</text>
<text x="144.47" y="674.71" textLength="13.6" lengthAdjust="spacingAndGlyphs">0.825</text>
<text x="166.39" y="674.71" textLength="13.6" lengthAdjust="spacingAndGlyphs">0.779</text>
<text x="188.31" y="674.71" textLength="13.6" lengthAdjust="spacingAndGlyphs">0.690</text>
<text x="210.23" y="674.71" textLength="13.6" lengthAdjust="spacingAndGlyphs">0.643</text>
<text x="232.15" y="674.71" textLength="13.6" lengthAdjust="spacingAndGlyphs">0.663</text>
<text x="122.55" y="682.81" textLength="13.6" lengthAdjust="spacingAndGlyphs">0.912</text>
<text x="144.47" y="682.81" textLength="13.6" lengthAdjust="spacingAndGlyphs">0.808</text>
<text x="166.39" y="682.81" textLength="13.6" lengthAdjust="spacingAndGlyphs">0.773</text>
<text x="188.31" y="682.81" textLength="13.6" lengthAdjust="spacingAndGlyphs">0.671</text>
<text x="210.23" y="682.81" textLength="13.6" lengthAdjust="spacingAndGlyphs">0.676</text>
<text x="232.15" y="682.81" textLength="13.6" lengthAdjust="spacingAndGlyphs">0.661</text>
<text x="122.55" y="690.91" textLength="13.6" lengthAdjust="spacingAndGlyphs">0.911</text>
<text x="144.47" y="690.91" textLength="13.6" lengthAdjust="spacingAndGlyphs">0.817</text>
<text x="166.39" y="690.91" textLength="13.6" lengthAdjust="spacingAndGlyphs">0.775</text>
<text x="188.31" y="690.91" textLength="13.6" lengthAdjust="spacingAndGlyphs">0.679</text>
<text x="210.23" y="690.91" textLength="13.6" lengthAdjust="spacingAndGlyphs">0.654</text>
<text x="232.15" y="690.91" textLength="13.6" lengthAdjust="spacingAndGlyphs">0.663</text>
<text x="122.55" y="699.02" textLength="13.6" lengthAdjust="spacingAndGlyphs">0.911</text>
<text x="144.47" y="699.02" textLength="13.6" lengthAdjust="spacingAndGlyphs">0.812</text>
<text x="166.39" y="699.02" textLength="13.6" lengthAdjust="spacingAndGlyphs">0.776</text>
<text x="188.31" y="699.02" textLength="13.6" lengthAdjust="spacingAndGlyphs">0.675</text>
<text x="210.23" y="699.02" textLength="13.6" lengthAdjust="spacingAndGlyphs">0.654</text>
<text x="232.15" y="699.02" textLength="13.6" lengthAdjust="spacingAndGlyphs">0.663</text>
<text x="122.55" y="707.12" textLength="13.6" lengthAdjust="spacingAndGlyphs">0.911</text>
<text x="144.47" y="707.12" textLength="13.6" lengthAdjust="spacingAndGlyphs">0.808</text>
<text x="166.39" y="707.12" textLength="13.6" lengthAdjust="spacingAndGlyphs">0.772</text>
<text x="188.31" y="707.12" textLength="13.6" lengthAdjust="spacingAndGlyphs">0.675</text>
<text x="210.23" y="707.12" textLength="13.6" lengthAdjust="spacingAndGlyphs">0.665</text>
<text x="232.15" y="707.12" textLength="13.6" lengthAdjust="spacingAndGlyphs">0.658</text>
<text x="122.55" y="715.23" textLength="13.6" lengthAdjust="spacingAndGlyphs">0.734</text>
<text x="144.47" y="715.23" textLength="13.6" lengthAdjust="spacingAndGlyphs">0.767</text>
<text x="166.39" y="715.23" textLength="13.6" lengthAdjust="spacingAndGlyphs">0.897</text>
<text x="188.31" y="715.23" textLength="13.6" lengthAdjust="spacingAndGlyphs">0.766</text>
<text x="210.23" y="715.23" textLength="13.6" lengthAdjust="spacingAndGlyphs">0.714</text>
<text x="232.15" y="715.23" textLength="13.6" lengthAdjust="spacingAndGlyphs">0.599</text>
<text x="122.55" y="723.33" textLength="13.6" lengthAdjust="spacingAndGlyphs">0.913</text>
<text x="144.47" y="723.33" textLength="13.6" lengthAdjust="spacingAndGlyphs">0.800</text>
<text x="166.39" y="723.33" textLength="13.6" lengthAdjust="spacingAndGlyphs">0.766</text>
<text x="188.31" y="723.33" textLength="13.6" lengthAdjust="spacingAndGlyphs">0.663</text>
<text x="210.23" y="723.33" textLength="13.6" lengthAdjust="spacingAndGlyphs">0.676</text>
<text x="232.15" y="723.33" textLength="13.6" lengthAdjust="spacingAndGlyphs">0.658</text>
<text x="122.55" y="731.43" textLength="13.6" lengthAdjust="spacingAndGlyphs">0.811</text>
<text x="144.47" y="731.43" textLength="13.6" lengthAdjust="spacingAndGlyphs">0.771</text>
<text x="166.39" y="731.43" textLength="13.6" lengthAdjust="spacingAndGlyphs">0.897</text>
<text x="188.31" y="731.43" textLength="13.6" lengthAdjust="spacingAndGlyphs">0.746</text>
<text x="210.23" y="731.43" textLength="13.6" lengthAdjust="spacingAndGlyphs">0.549</text>
<text x="232.15" y="731.43" textLength="13.6" lengthAdjust="spacingAndGlyphs">0.700</text>
<text x="122.55" y="739.54" textLength="13.6" lengthAdjust="spacingAndGlyphs">0.811</text>
<text x="144.47" y="739.54" textLength="13.6" lengthAdjust="spacingAndGlyphs">0.771</text>
<text x="166.39" y="739.54" textLength="13.6" lengthAdjust="spacingAndGlyphs">0.897</text>
<text x="188.31" y="739.54" textLength="13.6" lengthAdjust="spacingAndGlyphs">0.746</text>
<text x="210.23" y="739.54" textLength="13.6" lengthAdjust="spacingAndGlyphs">0.549</text>
<text x="232.15" y="739.54" textLength="13.6" lengthAdjust="spacingAndGlyphs">0.700</text>
<text x="122.55" y="747.64" textLength="13.6" lengthAdjust="spacingAndGlyphs">0.737</text>
<text x="144.47" y="747.64" textLength="13.6" lengthAdjust="spacingAndGlyphs">0.767</text>
<text x="166.39" y="747.64" textLength="13.6" lengthAdjust="spacingAndGlyphs">0.900</text>
<text x="188.31" y="747.64" textLength="13.6" lengthAdjust="spacingAndGlyphs">0.734</text>
<text x="210.23" y="747.64" textLength="13.6" lengthAdjust="spacingAndGlyphs">0.654</text>
<text x="232.15" y="747.64" textLength="13.6" lengthAdjust="spacingAndGlyphs">0.611</text>
<text x="122.55" y="755.75" textLength="13.6" lengthAdjust="spacingAndGlyphs">0.917</text>
<text x="144.47" y="755.75" textLength="13.6" lengthAdjust="spacingAndGlyphs">0.758</text>
<text x="166.39" y="755.75" textLength="13.6" lengthAdjust="spacingAndGlyphs">0.741</text>
<text x="188.31" y="755.75" textLength="13.6" lengthAdjust="spacingAndGlyphs">0.639</text>
<text x="210.23" y="755.75" textLength="13.6" lengthAdjust="spacingAndGlyphs">0.703</text>
<text x="232.15" y="755.75" textLength="13.6" lengthAdjust="spacingAndGlyphs">0.639</text>
<text x="122.55" y="763.85" textLength="13.6" lengthAdjust="spacingAndGlyphs">0.821</text>
<text x="144.47" y="763.85" textLength="13.6" lengthAdjust="spacingAndGlyphs">0.794</text>
<text x="166.39" y="763.85" textLength="13.6" lengthAdjust="spacingAndGlyphs">0.828</text>
<text x="188.31" y="763.85" textLength="13.6" lengthAdjust="spacingAndGlyphs">0.718</text>
<text x="210.23" y="763.85" textLength="13.6" lengthAdjust="spacingAndGlyphs">0.475</text>
<text x="232.15" y="763.85" textLength="13.6" lengthAdjust="spacingAndGlyphs">0.747</text>
<text x="122.55" y="771.95" textLength="13.6" lengthAdjust="spacingAndGlyphs">0.821</text>
<text x="144.47" y="771.95" textLength="13.6" lengthAdjust="spacingAndGlyphs">0.794</text>
<text x="166.39" y="771.95" textLength="13.6" lengthAdjust="spacingAndGlyphs">0.828</text>
<text x="188.31" y="771.95" textLength="13.6" lengthAdjust="spacingAndGlyphs">0.718</text>
<text x="210.23" y="771.95" textLength="13.6" lengthAdjust="spacingAndGlyphs">0.475</text>
<text x="232.15" y="771.95" textLength="13.6" lengthAdjust="spacingAndGlyphs">0.747</text>
<text x="122.55" y="780.06" textLength="13.6" lengthAdjust="spacingAndGlyphs">0.824</text>
<text x="144.47" y="780.06" textLength="13.6" lengthAdjust="spacingAndGlyphs">0.787</text>
<text x="166.39" y="780.06" textLength="13.6" lengthAdjust="spacingAndGlyphs">0.829</text>
<text x="188.31" y="780.06" textLength="13.6" lengthAdjust="spacingAndGlyphs">0.742</text>
<text x="210.23" y="780.06" textLength="13.6" lengthAdjust="spacingAndGlyphs">0.566</text>
<text x="232.15" y="780.06" textLength="13.6" lengthAdjust="spacingAndGlyphs">0.611</text>
<text x="122.55" y="788.16" textLength="13.6" lengthAdjust="spacingAndGlyphs">0.889</text>
<text x="144.47" y="788.16" textLength="13.6" lengthAdjust="spacingAndGlyphs">0.800</text>
<text x="166.39" y="788.16" textLength="13.6" lengthAdjust="spacingAndGlyphs">0.771</text>
<text x="188.31" y="788.16" textLength="13.6" lengthAdjust="spacingAndGlyphs">0.647</text>
<text x="210.23" y="788.16" textLength="13.6" lengthAdjust="spacingAndGlyphs">0.604</text>
<text x="232.15" y="788.16" textLength="13.6" lengthAdjust="spacingAndGlyphs">0.621</text>
<text x="122.55" y="796.27" textLength="13.6" lengthAdjust="spacingAndGlyphs">0.745</text>
<text x="144.47" y="796.27" textLength="13.6" lengthAdjust="spacingAndGlyphs">0.767</text>
<text x="166.39" y="796.27" textLength="13.6" lengthAdjust="spacingAndGlyphs">0.897</text>
<text x="188.31" y="796.27" textLength="13.6" lengthAdjust="spacingAndGlyphs">0.726</text>
<text x="210.23" y="796.27" textLength="13.6" lengthAdjust="spacingAndGlyphs">0.577</text>
<text x="232.15" y="796.27" textLength="13.6" lengthAdjust="spacingAndGlyphs">0.611</text>
<text x="122.55" y="804.37" textLength="13.6" lengthAdjust="spacingAndGlyphs">0.902</text>
<text x="144.47" y="804.37" textLength="13.6" lengthAdjust="spacingAndGlyphs">0.754</text>
<text x="166.39" y="804.37" textLength="13.6" lengthAdjust="spacingAndGlyphs">0.765</text>
<text x="188.31" y="804.37" textLength="13.6" lengthAdjust="spacingAndGlyphs">0.595</text>
<text x="210.23" y="804.37" textLength="13.6" lengthAdjust="spacingAndGlyphs">0.758</text>
<text x="232.15" y="804.37" textLength="13.6" lengthAdjust="spacingAndGlyphs">0.505</text>
<text x="122.55" y="812.47" textLength="13.6" lengthAdjust="spacingAndGlyphs">0.956</text>
<text x="144.47" y="812.47" textLength="13.6" lengthAdjust="spacingAndGlyphs">0.625</text>
<text x="166.39" y="812.47" textLength="13.6" lengthAdjust="spacingAndGlyphs">0.678</text>
<text x="188.31" y="812.47" textLength="13.6" lengthAdjust="spacingAndGlyphs">0.675</text>
<text x="210.23" y="812.47" textLength="13.6" lengthAdjust="spacingAndGlyphs">0.747</text>
<text x="232.15" y="812.47" textLength="13.6" lengthAdjust="spacingAndGlyphs">0.595</text>
<text x="122.55" y="820.58" textLength="13.6" lengthAdjust="spacingAndGlyphs">0.816</text>
<text x="144.47" y="820.58" textLength="13.6" lengthAdjust="spacingAndGlyphs">0.758</text>
<text x="166.39" y="820.58" textLength="13.6" lengthAdjust="spacingAndGlyphs">0.843</text>
<text x="188.31" y="820.58" textLength="13.6" lengthAdjust="spacingAndGlyphs">0.702</text>
<text x="210.23" y="820.58" textLength="13.6" lengthAdjust="spacingAndGlyphs">0.448</text>
<text x="232.15" y="820.58" textLength="13.6" lengthAdjust="spacingAndGlyphs">0.705</text>
<text x="122.55" y="828.68" textLength="13.6" lengthAdjust="spacingAndGlyphs">0.941</text>
<text x="144.47" y="828.68" textLength="13.6" lengthAdjust="spacingAndGlyphs">0.683</text>
<text x="166.39" y="828.68" textLength="13.6" lengthAdjust="spacingAndGlyphs">0.715</text>
<text x="188.31" y="828.68" textLength="13.6" lengthAdjust="spacingAndGlyphs">0.611</text>
<text x="210.23" y="828.68" textLength="13.6" lengthAdjust="spacingAndGlyphs">0.758</text>
<text x="232.15" y="828.68" textLength="13.6" lengthAdjust="spacingAndGlyphs">0.563</text>
<text x="122.55" y="836.79" textLength="13.6" lengthAdjust="spacingAndGlyphs">0.820</text>
<text x="144.47" y="836.79" textLength="13.6" lengthAdjust="spacingAndGlyphs">0.713</text>
<text x="166.39" y="836.79" textLength="13.6" lengthAdjust="spacingAndGlyphs">0.824</text>
<text x="188.31" y="836.79" textLength="13.6" lengthAdjust="spacingAndGlyphs">0.647</text>
<text x="210.23" y="836.79" textLength="13.6" lengthAdjust="spacingAndGlyphs">0.533</text>
<text x="232.15" y="836.79" textLength="13.6" lengthAdjust="spacingAndGlyphs">0.642</text>
<text x="122.55" y="844.89" textLength="13.6" lengthAdjust="spacingAndGlyphs">0.910</text>
<text x="144.47" y="844.89" textLength="13.6" lengthAdjust="spacingAndGlyphs">0.671</text>
<text x="166.39" y="844.89" textLength="13.6" lengthAdjust="spacingAndGlyphs">0.740</text>
<text x="188.31" y="844.89" textLength="13.6" lengthAdjust="spacingAndGlyphs">0.702</text>
<text x="210.23" y="844.89" textLength="13.6" lengthAdjust="spacingAndGlyphs">0.473</text>
<text x="232.15" y="844.89" textLength="13.6" lengthAdjust="spacingAndGlyphs">0.529</text>
<text x="122.55" y="852.99" textLength="13.6" lengthAdjust="spacingAndGlyphs">0.670</text>
<text x="144.47" y="852.99" textLength="13.6" lengthAdjust="spacingAndGlyphs">0.567</text>
<text x="166.39" y="852.99" textLength="13.6" lengthAdjust="spacingAndGlyphs">0.598</text>
<text x="188.31" y="852.99" textLength="13.6" lengthAdjust="spacingAndGlyphs">0.544</text>
<text x="210.23" y="852.99" textLength="13.6" lengthAdjust="spacingAndGlyphs">0.538</text>
<text x="232.15" y="852.99" textLength="13.6" lengthAdjust="spacingAndGlyphs">0.549</text>
<text x="122.55" y="861.1" textLength="13.6" lengthAdjust="spacingAndGlyphs">0.650</text>
<text x="144.47" y="861.1" textLength="13.6" lengthAdjust="spacingAndGlyphs">0.533</text>
<text x="166.39" y="861.1" textLength="13.6" lengthAdjust="spacingAndGlyphs">0.578</text>
<text x="188.31" y="861.1" textLength="13.6" lengthAdjust="spacingAndGlyphs">0.571</text>
<text x="210.23" y="861.1" textLength="13.6" lengthAdjust="spacingAndGlyphs">0.538</text>
<text x="232.15" y="861.1" textLength="13.6" lengthAdjust="spacingAndGlyphs">0.524</text>
<text x="122.55" y="869.2" textLength="13.6" lengthAdjust="spacingAndGlyphs">0.794</text>
<text x="144.47" y="869.2" textLength="13.6" lengthAdjust="spacingAndGlyphs">0.500</text>
<text x="166.39" y="869.2" textLength="13.6" lengthAdjust="spacingAndGlyphs">0.549</text>
<text x="188.31" y="869.2" textLength="13.6" lengthAdjust="spacingAndGlyphs">0.500</text>
<text x="210.23" y="869.2" textLength="13.6" lengthAdjust="spacingAndGlyphs">0.500</text>
<text x="232.15" y="869.2" textLength="13.6" lengthAdjust="spacingAndGlyphs">0.550</text>
<text x="122.55" y="877.31" textLength="13.6" lengthAdjust="spacingAndGlyphs">0.719</text>
<text x="144.47" y="877.31" textLength="13.6" lengthAdjust="spacingAndGlyphs">0.500</text>
<text x="166.39" y="877.31" textLength="13.6" lengthAdjust="spacingAndGlyphs">0.529</text>
<text x="188.31" y="877.31" textLength="13.6" lengthAdjust="spacingAndGlyphs">0.500</text>
<text x="210.23" y="877.31" textLength="13.6" lengthAdjust="spacingAndGlyphs">0.519</text>
<text x="232.15" y="877.31" textLength="13.6" lengthAdjust="spacingAndGlyphs">0.549</text>
<text x="122.55" y="885.41" textLength="13.6" lengthAdjust="spacingAndGlyphs">0.703</text>
<text x="144.47" y="885.41" textLength="13.6" lengthAdjust="spacingAndGlyphs">0.533</text>
<text x="166.39" y="885.41" textLength="13.6" lengthAdjust="spacingAndGlyphs">0.510</text>
<text x="188.31" y="885.41" textLength="13.6" lengthAdjust="spacingAndGlyphs">0.500</text>
<text x="210.23" y="885.41" textLength="13.6" lengthAdjust="spacingAndGlyphs">0.500</text>
<text x="232.15" y="885.41" textLength="13.6" lengthAdjust="spacingAndGlyphs">0.525</text>
<text x="122.55" y="893.51" textLength="13.6" lengthAdjust="spacingAndGlyphs">0.605</text>
<text x="144.47" y="893.51" textLength="13.6" lengthAdjust="spacingAndGlyphs">0.500</text>
<text x="166.39" y="893.51" textLength="13.6" lengthAdjust="spacingAndGlyphs">0.520</text>
<text x="188.31" y="893.51" textLength="13.6" lengthAdjust="spacingAndGlyphs">0.500</text>
<text x="210.23" y="893.51" textLength="13.6" lengthAdjust="spacingAndGlyphs">0.500</text>
<text x="232.15" y="893.51" textLength="13.6" lengthAdjust="spacingAndGlyphs">0.499</text>
</g>
<g font-size="6.85" fill="#1a1a1a" text-anchor="end">
<text x="111.1" y="59.15">Enet[alpha=0.9]</text>
<text x="111.1" y="67.26">RF+Enet[alpha=0.6]</text>
<text x="111.1" y="75.36">Lasso</text>
<text x="111.1" y="83.46">Enet[alpha=0.8]</text>
<text x="111.1" y="91.57">Enet[alpha=0.7]</text>
<text x="111.1" y="99.67">RF</text>
<text x="111.1" y="107.78">GBM</text>
<text x="111.1" y="115.88">glmBoost</text>
<text x="111.1" y="123.98">RF+Enet[alpha=0.8]</text>
<text x="111.1" y="132.09">Enet[alpha=0.6]</text>
<text x="111.1" y="140.19">RF+Enet[alpha=0.7]</text>
<text x="111.1" y="148.3">Enet[alpha=0.5]</text>
<text x="111.1" y="156.4">Enet[alpha=0.2]</text>
<text x="111.1" y="164.5">RF+Enet[alpha=0.5]</text>
<text x="111.1" y="172.61">RF+glmBoost</text>
<text x="111.1" y="180.71">Enet[alpha=0.4]</text>
<text x="111.1" y="188.82">Lasso+glmBoost</text>
<text x="111.1" y="196.92">glmBoost+Enet[alpha=0.7]</text>
<text x="111.1" y="205.02">glmBoost+Enet[alpha=0.9]</text>
<text x="111.1" y="213.13">glmBoost+Lasso</text>
<text x="111.1" y="221.23">Stepglm[both]+Lasso</text>
<text x="111.1" y="229.34">Lasso+GBM</text>
<text x="111.1" y="237.44">Stepglm[both]+RF</text>
<text x="111.1" y="245.54">Enet[alpha=0.3]</text>
<text x="111.1" y="253.65">Stepglm[both]+Enet[alpha=0.7]</text>
<text x="111.1" y="261.75">Stepglm[backward]+glmBoost</text>
<text x="111.1" y="269.86">RF+Enet[alpha=0.9]</text>
<text x="111.1" y="277.96">glmBoost+Enet[alpha=0.8]</text>
<text x="111.1" y="286.06">RF+Enet[alpha=0.4]</text>
<text x="111.1" y="294.17">RF+plsRglm</text>
<text x="111.1" y="302.27">glmBoost+Enet[alpha=0.6]</text>
<text x="111.1" y="310.38">glmBoost+plsRglm</text>
<text x="111.1" y="318.48">Lasso+plsRglm</text>
<text x="111.1" y="326.58">Stepglm[both]+Enet[alpha=0.9]</text>
<text x="111.1" y="334.69">RF+GBM</text>
<text x="111.1" y="342.79">Stepglm[both]+Enet[alpha=0.8]</text>
<text x="111.1" y="350.9">glmBoost+Enet[alpha=0.5]</text>
<text x="111.1" y="359">glmBoost+Stepglm[forward]</text>
<text x="111.1" y="367.1">Lasso+Stepglm[forward]</text>
<text x="111.1" y="375.21">glmBoost+GBM</text>
<text x="111.1" y="383.31">glmBoost+Enet[alpha=0.4]</text>
<text x="111.1" y="391.42">RF+Enet[alpha=0.3]</text>
<text x="111.1" y="399.52">Stepglm[backward]+Lasso</text>
<text x="111.1" y="407.62">Stepglm[both]+Enet[alpha=0.6]</text>
<text x="111.1" y="415.73">glmBoost+Enet[alpha=0.3]</text>
<text x="111.1" y="423.83">Stepglm[both]+GBM</text>
<text x="111.1" y="431.94">Enet[alpha=0.1]</text>
<text x="111.1" y="440.04">RF+Enet[alpha=0.2]</text>
<text x="111.1" y="448.14">Stepglm[backward]+RF</text>
<text x="111.1" y="456.25">glmBoost+Enet[alpha=0.2]</text>
<text x="111.1" y="464.35">Stepglm[both]+glmBoost</text>
<text x="111.1" y="472.46">glmBoost+LDA</text>
<text x="111.1" y="480.56">Lasso+LDA</text>
<text x="111.1" y="488.66">Stepglm[backward]+plsRglm</text>
<text x="111.1" y="496.77">RF+Enet[alpha=0.1]</text>
<text x="111.1" y="504.87">Stepglm[backward]+Enet[alpha=0.6]</text>
<text x="111.1" y="512.98">Ridge</text>
<text x="111.1" y="521.08">glmBoost+Enet[alpha=0.1]</text>
<text x="111.1" y="529.18">plsRglm</text>
<text x="111.1" y="537.29">glmBoost+Ridge</text>
<text x="111.1" y="545.39">Stepglm[both]+Enet[alpha=0.5]</text>
<text x="111.1" y="553.5">Stepglm[backward]+GBM</text>
<text x="111.1" y="561.6">Stepglm[both]+Enet[alpha=0.4]</text>
<text x="111.1" y="569.7">RF+Ridge</text>
<text x="111.1" y="577.81">Stepglm[both]+plsRglm</text>
<text x="111.1" y="585.91">RF+Stepglm[forward]</text>
<text x="111.1" y="594.02">Lasso+XGBoost</text>
<text x="111.1" y="602.12">Stepglm[both]+Ridge</text>
<text x="111.1" y="610.22">Stepglm[both]+Enet[alpha=0.3]</text>
<text x="111.1" y="618.33">Stepglm[both]+Enet[alpha=0.1]</text>
<text x="111.1" y="626.43">Stepglm[backward]+Ridge</text>
<text x="111.1" y="634.54">Stepglm[backward]+Enet[alpha=0.2]</text>
<text x="111.1" y="642.64">Stepglm[both]+Enet[alpha=0.2]</text>
<text x="111.1" y="650.74">RF+NaiveBayes</text>
<text x="111.1" y="658.85">glmBoost+XGBoost</text>
<text x="111.1" y="666.95">Stepglm[backward]+Enet[alpha=0.4]</text>
<text x="111.1" y="675.06">Stepglm[backward]+Enet[alpha=0.5]</text>
<text x="111.1" y="683.16">Stepglm[backward]+Enet[alpha=0.1]</text>
<text x="111.1" y="691.26">Stepglm[backward]+Enet[alpha=0.8]</text>
<text x="111.1" y="699.37">Stepglm[backward]+Enet[alpha=0.9]</text>
<text x="111.1" y="707.47">Stepglm[backward]+Enet[alpha=0.7]</text>
<text x="111.1" y="715.58">NaiveBayes</text>
<text x="111.1" y="723.68">Stepglm[backward]+Enet[alpha=0.3]</text>
<text x="111.1" y="731.78">Lasso+NaiveBayes</text>
<text x="111.1" y="739.89">glmBoost+NaiveBayes</text>
<text x="111.1" y="747.99">Stepglm[both]+NaiveBayes</text>
<text x="111.1" y="756.1">Stepglm[backward]</text>
<text x="111.1" y="764.2">XGBoost</text>
<text x="111.1" y="772.3">RF+XGBoost</text>
<text x="111.1" y="780.41">RF+LDA</text>
<text x="111.1" y="788.51">Stepglm[backward]+LDA</text>
<text x="111.1" y="796.62">Stepglm[backward]+NaiveBayes</text>
<text x="111.1" y="804.72">Stepglm[both]+LDA</text>
<text x="111.1" y="812.82">Stepglm[forward]</text>
<text x="111.1" y="820.93">Stepglm[both]+XGBoost</text>
<text x="111.1" y="829.03">Stepglm[both]</text>
<text x="111.1" y="837.14">Stepglm[backward]+XGBoost</text>
<text x="111.1" y="845.24">LDA</text>
<text x="111.1" y="853.34">Lasso+SVM</text>
<text x="111.1" y="861.45">glmBoost+SVM</text>
<text x="111.1" y="869.55">SVM</text>
<text x="111.1" y="877.66">Stepglm[both]+SVM</text>
<text x="111.1" y="885.76">RF+SVM</text>
<text x="111.1" y="893.86">Stepglm[backward]+SVM</text>
</g>
<rect x="243.8" y="53.45" width="43.63" height="6.6" fill="#4a80b2"/>
<rect x="243.8" y="61.55" width="43.58" height="6.6" fill="#4a80b2"/>
<rect x="243.8" y="69.66" width="43.58" height="6.6" fill="#4a80b2"/>
<rect x="243.8" y="77.76" width="43.58" height="6.6" fill="#4a80b2"/>
<rect x="243.8" y="85.87" width="43.58" height="6.6" fill="#4a80b2"/>
<rect x="243.8" y="93.97" width="43.58" height="6.6" fill="#4a80b2"/>
<rect x="243.8" y="102.07" width="43.58" height="6.6" fill="#4a80b2"/>
<rect x="243.8" y="110.18" width="43.58" height="6.6" fill="#4a80b2"/>
<rect x="243.8" y="118.28" width="43.52" height="6.6" fill="#4a80b2"/>
<rect x="243.8" y="126.39" width="43.52" height="6.6" fill="#4a80b2"/>
<rect x="243.8" y="134.49" width="43.47" height="6.6" fill="#4a80b2"/>
<rect x="243.8" y="142.59" width="43.47" height="6.6" fill="#4a80b2"/>
<rect x="243.8" y="150.7" width="43.42" height="6.6" fill="#4a80b2"/>
<rect x="243.8" y="158.8" width="43.37" height="6.6" fill="#4a80b2"/>
<rect x="243.8" y="166.91" width="43.37" height="6.6" fill="#4a80b2"/>
<rect x="243.8" y="175.01" width="43.37" height="6.6" fill="#4a80b2"/>
<rect x="243.8" y="183.11" width="43.32" height="6.6" fill="#4a80b2"/>
<rect x="243.8" y="191.22" width="43.32" height="6.6" fill="#4a80b2"/>
<rect x="243.8" y="199.32" width="43.32" height="6.6" fill="#4a80b2"/>
<rect x="243.8" y="207.43" width="43.32" height="6.6" fill="#4a80b2"/>
<rect x="243.8" y="215.53" width="43.26" height="6.6" fill="#4a80b2"/>
<rect x="243.8" y="223.63" width="43.26" height="6.6" fill="#4a80b2"/>
<rect x="243.8" y="231.74" width="43.26" height="6.6" fill="#4a80b2"/>
<rect x="243.8" y="239.84" width="43.21" height="6.6" fill="#4a80b2"/>
<rect x="243.8" y="247.95" width="43.21" height="6.6" fill="#4a80b2"/>
<rect x="243.8" y="256.05" width="43.16" height="6.6" fill="#4a80b2"/>
<rect x="243.8" y="264.15" width="43.16" height="6.6" fill="#4a80b2"/>
<rect x="243.8" y="272.26" width="43.16" height="6.6" fill="#4a80b2"/>
<rect x="243.8" y="280.36" width="43.16" height="6.6" fill="#4a80b2"/>
<rect x="243.8" y="288.47" width="43.16" height="6.6" fill="#4a80b2"/>
<rect x="243.8" y="296.57" width="43.16" height="6.6" fill="#4a80b2"/>
<rect x="243.8" y="304.67" width="43.16" height="6.6" fill="#4a80b2"/>
<rect x="243.8" y="312.78" width="43.16" height="6.6" fill="#4a80b2"/>
<rect x="243.8" y="320.88" width="43.11" height="6.6" fill="#4a80b2"/>
<rect x="243.8" y="328.99" width="43.11" height="6.6" fill="#4a80b2"/>
<rect x="243.8" y="337.09" width="43.06" height="6.6" fill="#4a80b2"/>
<rect x="243.8" y="345.19" width="43" height="6.6" fill="#4a80b2"/>
<rect x="243.8" y="353.3" width="43" height="6.6" fill="#4a80b2"/>
<rect x="243.8" y="361.4" width="43" height="6.6" fill="#4a80b2"/>
<rect x="243.8" y="369.51" width="43" height="6.6" fill="#4a80b2"/>
<rect x="243.8" y="377.61" width="42.95" height="6.6" fill="#4a80b2"/>
<rect x="243.8" y="385.71" width="42.95" height="6.6" fill="#4a80b2"/>
<rect x="243.8" y="393.82" width="42.95" height="6.6" fill="#4a80b2"/>
<rect x="243.8" y="401.92" width="42.85" height="6.6" fill="#4a80b2"/>
<rect x="243.8" y="410.03" width="42.85" height="6.6" fill="#4a80b2"/>
<rect x="243.8" y="418.13" width="42.8" height="6.6" fill="#4a80b2"/>
<rect x="243.8" y="426.23" width="42.8" height="6.6" fill="#4a80b2"/>
<rect x="243.8" y="434.34" width="42.74" height="6.6" fill="#4a80b2"/>
<rect x="243.8" y="442.44" width="42.74" height="6.6" fill="#4a80b2"/>
<rect x="243.8" y="450.55" width="42.69" height="6.6" fill="#4a80b2"/>
<rect x="243.8" y="458.65" width="42.69" height="6.6" fill="#4a80b2"/>
<rect x="243.8" y="466.75" width="42.64" height="6.6" fill="#4a80b2"/>
<rect x="243.8" y="474.86" width="42.64" height="6.6" fill="#4a80b2"/>
<rect x="243.8" y="482.96" width="42.64" height="6.6" fill="#4a80b2"/>
<rect x="243.8" y="491.07" width="42.64" height="6.6" fill="#4a80b2"/>
<rect x="243.8" y="499.17" width="42.64" height="6.6" fill="#4a80b2"/>
<rect x="243.8" y="507.27" width="42.54" height="6.6" fill="#4a80b2"/>
<rect x="243.8" y="515.38" width="42.48" height="6.6" fill="#4a80b2"/>
<rect x="243.8" y="523.48" width="42.43" height="6.6" fill="#4a80b2"/>
<rect x="243.8" y="531.59" width="42.28" height="6.6" fill="#4a80b2"/>
<rect x="243.8" y="539.69" width="42.22" height="6.6" fill="#4a80b2"/>
<rect x="243.8" y="547.79" width="42.22" height="6.6" fill="#4a80b2"/>
<rect x="243.8" y="555.9" width="42.17" height="6.6" fill="#4a80b2"/>
<rect x="243.8" y="564" width="41.91" height="6.6" fill="#4a80b2"/>
<rect x="243.8" y="572.11" width="41.44" height="6.6" fill="#4a80b2"/>
<rect x="243.8" y="580.21" width="41.29" height="6.6" fill="#4a80b2"/>
<rect x="243.8" y="588.31" width="40.87" height="6.6" fill="#4a80b2"/>
<rect x="243.8" y="596.42" width="40.87" height="6.6" fill="#4a80b2"/>
<rect x="243.8" y="604.52" width="40.3" height="6.6" fill="#4a80b2"/>
<rect x="243.8" y="612.63" width="40.25" height="6.6" fill="#4a80b2"/>
<rect x="243.8" y="620.73" width="40.14" height="6.6" fill="#4a80b2"/>
<rect x="243.8" y="628.83" width="40.04" height="6.6" fill="#4a80b2"/>
<rect x="243.8" y="636.94" width="39.88" height="6.6" fill="#4a80b2"/>
<rect x="243.8" y="645.04" width="39.31" height="6.6" fill="#4a80b2"/>
<rect x="243.8" y="653.15" width="39.26" height="6.6" fill="#4a80b2"/>
<rect x="243.8" y="661.25" width="39.16" height="6.6" fill="#4a80b2"/>
<rect x="243.8" y="669.35" width="39.1" height="6.6" fill="#4a80b2"/>
<rect x="243.8" y="677.46" width="39" height="6.6" fill="#4a80b2"/>
<rect x="243.8" y="685.56" width="39" height="6.6" fill="#4a80b2"/>
<rect x="243.8" y="693.67" width="38.95" height="6.6" fill="#4a80b2"/>
<rect x="243.8" y="701.77" width="38.9" height="6.6" fill="#4a80b2"/>
<rect x="243.8" y="709.87" width="38.79" height="6.6" fill="#4a80b2"/>
<rect x="243.8" y="717.98" width="38.79" height="6.6" fill="#4a80b2"/>
<rect x="243.8" y="726.08" width="38.79" height="6.6" fill="#4a80b2"/>
<rect x="243.8" y="734.19" width="38.79" height="6.6" fill="#4a80b2"/>
<rect x="243.8" y="742.29" width="38.17" height="6.6" fill="#4a80b2"/>
<rect x="243.8" y="750.39" width="38.12" height="6.6" fill="#4a80b2"/>
<rect x="243.8" y="758.5" width="38.01" height="6.6" fill="#4a80b2"/>
<rect x="243.8" y="766.6" width="38.01" height="6.6" fill="#4a80b2"/>
<rect x="243.8" y="774.71" width="37.75" height="6.6" fill="#4a80b2"/>
<rect x="243.8" y="782.81" width="37.54" height="6.6" fill="#4a80b2"/>
<rect x="243.8" y="790.91" width="37.44" height="6.6" fill="#4a80b2"/>
<rect x="243.8" y="799.02" width="37.08" height="6.6" fill="#4a80b2"/>
<rect x="243.8" y="807.12" width="37.08" height="6.6" fill="#4a80b2"/>
<rect x="243.8" y="815.23" width="37.02" height="6.6" fill="#4a80b2"/>
<rect x="243.8" y="823.33" width="37.02" height="6.6" fill="#4a80b2"/>
<rect x="243.8" y="831.43" width="36.19" height="6.6" fill="#4a80b2"/>
<rect x="243.8" y="839.54" width="34.89" height="6.6" fill="#4a80b2"/>
<rect x="243.8" y="847.64" width="30.06" height="6.6" fill="#4a80b2"/>
<rect x="243.8" y="855.75" width="29.43" height="6.6" fill="#4a80b2"/>
<rect x="243.8" y="863.85" width="29.43" height="6.6" fill="#4a80b2"/>
<rect x="243.8" y="871.95" width="28.76" height="6.6" fill="#4a80b2"/>
<rect x="243.8" y="880.06" width="28.34" height="6.6" fill="#4a80b2"/>
<rect x="243.8" y="888.16" width="27.04" height="6.6" fill="#4a80b2"/>
<g font-size="6.1" fill="#eef3f8" text-anchor="middle">
<text x="277.89" y="58.85" textLength="12.8" lengthAdjust="spacingAndGlyphs">0.839</text>
<text x="277.84" y="66.96" textLength="12.8" lengthAdjust="spacingAndGlyphs">0.838</text>
<text x="277.84" y="75.06" textLength="12.8" lengthAdjust="spacingAndGlyphs">0.838</text>
<text x="277.84" y="83.16" textLength="12.8" lengthAdjust="spacingAndGlyphs">0.838</text>
<text x="277.84" y="91.27" textLength="12.8" lengthAdjust="spacingAndGlyphs">0.838</text>
<text x="277.84" y="99.37" textLength="12.8" lengthAdjust="spacingAndGlyphs">0.838</text>
<text x="277.84" y="107.48" textLength="12.8" lengthAdjust="spacingAndGlyphs">0.838</text>
<text x="277.84" y="115.58" textLength="12.8" lengthAdjust="spacingAndGlyphs">0.838</text>
<text x="277.78" y="123.68" textLength="12.8" lengthAdjust="spacingAndGlyphs">0.837</text>
<text x="277.78" y="131.79" textLength="12.8" lengthAdjust="spacingAndGlyphs">0.837</text>
<text x="277.73" y="139.89" textLength="12.8" lengthAdjust="spacingAndGlyphs">0.836</text>
<text x="277.73" y="148" textLength="12.8" lengthAdjust="spacingAndGlyphs">0.836</text>
<text x="277.67" y="156.1" textLength="12.8" lengthAdjust="spacingAndGlyphs">0.835</text>
<text x="277.62" y="164.2" textLength="12.8" lengthAdjust="spacingAndGlyphs">0.834</text>
<text x="277.62" y="172.31" textLength="12.8" lengthAdjust="spacingAndGlyphs">0.834</text>
<text x="277.62" y="180.41" textLength="12.8" lengthAdjust="spacingAndGlyphs">0.834</text>
<text x="277.57" y="188.52" textLength="12.8" lengthAdjust="spacingAndGlyphs">0.833</text>
<text x="277.57" y="196.62" textLength="12.8" lengthAdjust="spacingAndGlyphs">0.833</text>
<text x="277.57" y="204.72" textLength="12.8" lengthAdjust="spacingAndGlyphs">0.833</text>
<text x="277.57" y="212.83" textLength="12.8" lengthAdjust="spacingAndGlyphs">0.833</text>
<text x="277.51" y="220.93" textLength="12.8" lengthAdjust="spacingAndGlyphs">0.832</text>
<text x="277.51" y="229.04" textLength="12.8" lengthAdjust="spacingAndGlyphs">0.832</text>
<text x="277.51" y="237.14" textLength="12.8" lengthAdjust="spacingAndGlyphs">0.832</text>
<text x="277.46" y="245.24" textLength="12.8" lengthAdjust="spacingAndGlyphs">0.831</text>
<text x="277.46" y="253.35" textLength="12.8" lengthAdjust="spacingAndGlyphs">0.831</text>
<text x="277.4" y="261.45" textLength="10.0" lengthAdjust="spacingAndGlyphs">0.83</text>
<text x="277.4" y="269.56" textLength="10.0" lengthAdjust="spacingAndGlyphs">0.83</text>
<text x="277.4" y="277.66" textLength="10.0" lengthAdjust="spacingAndGlyphs">0.83</text>
<text x="277.4" y="285.76" textLength="10.0" lengthAdjust="spacingAndGlyphs">0.83</text>
<text x="277.4" y="293.87" textLength="10.0" lengthAdjust="spacingAndGlyphs">0.83</text>
<text x="277.4" y="301.97" textLength="10.0" lengthAdjust="spacingAndGlyphs">0.83</text>
<text x="277.4" y="310.08" textLength="10.0" lengthAdjust="spacingAndGlyphs">0.83</text>
<text x="277.4" y="318.18" textLength="10.0" lengthAdjust="spacingAndGlyphs">0.83</text>
<text x="277.35" y="326.28" textLength="12.8" lengthAdjust="spacingAndGlyphs">0.829</text>
<text x="277.35" y="334.39" textLength="12.8" lengthAdjust="spacingAndGlyphs">0.829</text>
<text x="277.29" y="342.49" textLength="12.8" lengthAdjust="spacingAndGlyphs">0.828</text>
<text x="277.24" y="350.6" textLength="12.8" lengthAdjust="spacingAndGlyphs">0.827</text>
<text x="277.24" y="358.7" textLength="12.8" lengthAdjust="spacingAndGlyphs">0.827</text>
<text x="277.24" y="366.8" textLength="12.8" lengthAdjust="spacingAndGlyphs">0.827</text>
<text x="277.24" y="374.91" textLength="12.8" lengthAdjust="spacingAndGlyphs">0.827</text>
<text x="277.19" y="383.01" textLength="12.8" lengthAdjust="spacingAndGlyphs">0.826</text>
<text x="277.19" y="391.12" textLength="12.8" lengthAdjust="spacingAndGlyphs">0.826</text>
<text x="277.19" y="399.22" textLength="12.8" lengthAdjust="spacingAndGlyphs">0.826</text>
<text x="277.08" y="407.32" textLength="12.8" lengthAdjust="spacingAndGlyphs">0.824</text>
<text x="277.08" y="415.43" textLength="12.8" lengthAdjust="spacingAndGlyphs">0.824</text>
<text x="277.02" y="423.53" textLength="12.8" lengthAdjust="spacingAndGlyphs">0.823</text>
<text x="277.02" y="431.64" textLength="12.8" lengthAdjust="spacingAndGlyphs">0.823</text>
<text x="276.97" y="439.74" textLength="12.8" lengthAdjust="spacingAndGlyphs">0.822</text>
<text x="276.97" y="447.84" textLength="12.8" lengthAdjust="spacingAndGlyphs">0.822</text>
<text x="276.92" y="455.95" textLength="12.8" lengthAdjust="spacingAndGlyphs">0.821</text>
<text x="276.92" y="464.05" textLength="12.8" lengthAdjust="spacingAndGlyphs">0.821</text>
<text x="276.86" y="472.16" textLength="10.0" lengthAdjust="spacingAndGlyphs">0.82</text>
<text x="276.86" y="480.26" textLength="10.0" lengthAdjust="spacingAndGlyphs">0.82</text>
<text x="276.86" y="488.36" textLength="10.0" lengthAdjust="spacingAndGlyphs">0.82</text>
<text x="276.86" y="496.47" textLength="10.0" lengthAdjust="spacingAndGlyphs">0.82</text>
<text x="276.86" y="504.57" textLength="10.0" lengthAdjust="spacingAndGlyphs">0.82</text>
<text x="276.75" y="512.68" textLength="12.8" lengthAdjust="spacingAndGlyphs">0.818</text>
<text x="276.7" y="520.78" textLength="12.8" lengthAdjust="spacingAndGlyphs">0.817</text>
<text x="276.65" y="528.88" textLength="12.8" lengthAdjust="spacingAndGlyphs">0.816</text>
<text x="276.48" y="536.99" textLength="12.8" lengthAdjust="spacingAndGlyphs">0.813</text>
<text x="276.43" y="545.09" textLength="12.8" lengthAdjust="spacingAndGlyphs">0.812</text>
<text x="276.43" y="553.2" textLength="12.8" lengthAdjust="spacingAndGlyphs">0.812</text>
<text x="276.38" y="561.3" textLength="12.8" lengthAdjust="spacingAndGlyphs">0.811</text>
<text x="276.1" y="569.4" textLength="12.8" lengthAdjust="spacingAndGlyphs">0.806</text>
<text x="275.62" y="577.51" textLength="12.8" lengthAdjust="spacingAndGlyphs">0.797</text>
<text x="275.46" y="585.61" textLength="12.8" lengthAdjust="spacingAndGlyphs">0.794</text>
<text x="275.02" y="593.72" textLength="12.8" lengthAdjust="spacingAndGlyphs">0.786</text>
<text x="275.02" y="601.82" textLength="12.8" lengthAdjust="spacingAndGlyphs">0.786</text>
<text x="274.43" y="609.92" textLength="12.8" lengthAdjust="spacingAndGlyphs">0.775</text>
<text x="274.37" y="618.03" textLength="12.8" lengthAdjust="spacingAndGlyphs">0.774</text>
<text x="274.27" y="626.13" textLength="12.8" lengthAdjust="spacingAndGlyphs">0.772</text>
<text x="274.16" y="634.24" textLength="10.0" lengthAdjust="spacingAndGlyphs">0.77</text>
<text x="273.99" y="642.34" textLength="12.8" lengthAdjust="spacingAndGlyphs">0.767</text>
<text x="273.4" y="650.44" textLength="12.8" lengthAdjust="spacingAndGlyphs">0.756</text>
<text x="273.35" y="658.55" textLength="12.8" lengthAdjust="spacingAndGlyphs">0.755</text>
<text x="273.24" y="666.65" textLength="12.8" lengthAdjust="spacingAndGlyphs">0.753</text>
<text x="273.18" y="674.76" textLength="12.8" lengthAdjust="spacingAndGlyphs">0.752</text>
<text x="273.07" y="682.86" textLength="10.0" lengthAdjust="spacingAndGlyphs">0.75</text>
<text x="273.07" y="690.96" textLength="10.0" lengthAdjust="spacingAndGlyphs">0.75</text>
<text x="273.02" y="699.07" textLength="12.8" lengthAdjust="spacingAndGlyphs">0.749</text>
<text x="272.97" y="707.17" textLength="12.8" lengthAdjust="spacingAndGlyphs">0.748</text>
<text x="272.86" y="715.28" textLength="12.8" lengthAdjust="spacingAndGlyphs">0.746</text>
<text x="272.86" y="723.38" textLength="12.8" lengthAdjust="spacingAndGlyphs">0.746</text>
<text x="272.86" y="731.48" textLength="12.8" lengthAdjust="spacingAndGlyphs">0.746</text>
<text x="272.86" y="739.59" textLength="12.8" lengthAdjust="spacingAndGlyphs">0.746</text>
<text x="272.21" y="747.69" textLength="12.8" lengthAdjust="spacingAndGlyphs">0.734</text>
<text x="272.16" y="755.8" textLength="12.8" lengthAdjust="spacingAndGlyphs">0.733</text>
<text x="272.05" y="763.9" textLength="12.8" lengthAdjust="spacingAndGlyphs">0.731</text>
<text x="272.05" y="772" textLength="12.8" lengthAdjust="spacingAndGlyphs">0.731</text>
<text x="271.78" y="780.11" textLength="12.8" lengthAdjust="spacingAndGlyphs">0.726</text>
<text x="271.56" y="788.21" textLength="12.8" lengthAdjust="spacingAndGlyphs">0.722</text>
<text x="271.45" y="796.32" textLength="10.0" lengthAdjust="spacingAndGlyphs">0.72</text>
<text x="271.07" y="804.42" textLength="12.8" lengthAdjust="spacingAndGlyphs">0.713</text>
<text x="271.07" y="812.52" textLength="12.8" lengthAdjust="spacingAndGlyphs">0.713</text>
<text x="271.02" y="820.63" textLength="12.8" lengthAdjust="spacingAndGlyphs">0.712</text>
<text x="271.02" y="828.73" textLength="12.8" lengthAdjust="spacingAndGlyphs">0.712</text>
<text x="270.15" y="836.84" textLength="12.8" lengthAdjust="spacingAndGlyphs">0.696</text>
<text x="268.8" y="844.94" textLength="12.8" lengthAdjust="spacingAndGlyphs">0.671</text>
<text x="263.77" y="853.04" textLength="12.8" lengthAdjust="spacingAndGlyphs">0.578</text>
<text x="263.12" y="861.15" textLength="12.8" lengthAdjust="spacingAndGlyphs">0.566</text>
<text x="263.12" y="869.25" textLength="12.8" lengthAdjust="spacingAndGlyphs">0.566</text>
<text x="262.42" y="877.36" textLength="12.8" lengthAdjust="spacingAndGlyphs">0.553</text>
<text x="261.98" y="885.46" textLength="12.8" lengthAdjust="spacingAndGlyphs">0.545</text>
<text x="260.63" y="893.56" textLength="10.0" lengthAdjust="spacingAndGlyphs">0.52</text>
</g>
<path d="M243.3 895.6H292.8" stroke="#333" stroke-width="0.6"/>
<path d="M243.8 895.6v1.6M254.2 895.6v1.6M264.6 895.6v1.6M275 895.6v1.6M285.4 895.6v1.6" stroke="#333" stroke-width="0.6"/>
<g font-size="4.6" fill="#222" text-anchor="middle">
<text x="243.8" y="902.3">0</text>
<text x="254.2" y="902.3">0.2</text>
<text x="264.6" y="902.3">0.4</text>
<text x="275" y="902.3">0.6</text>
<text x="285.4" y="902.3">0.8</text>
</g>
<text x="299.9" y="593.3" font-size="5.6" font-weight="bold" fill="#111">AUC</text>
<defs><linearGradient id="aucg" x1="0" y1="0" x2="0" y2="1">
<stop offset="0" stop-color="#D6604D"/>
<stop offset="0.04" stop-color="#da6f5e"/>
<stop offset="0.08" stop-color="#de7e6f"/>
<stop offset="0.12" stop-color="#e28d7f"/>
<stop offset="0.17" stop-color="#e59c90"/>
<stop offset="0.21" stop-color="#e9aba1"/>
<stop offset="0.25" stop-color="#edbab2"/>
<stop offset="0.29" stop-color="#f1c9c3"/>
<stop offset="0.33" stop-color="#f5d8d3"/>
<stop offset="0.38" stop-color="#f9e7e4"/>
<stop offset="0.42" stop-color="#fdf6f5"/>
<stop offset="0.46" stop-color="#f9fcfd"/>
<stop offset="0.5" stop-color="#ebf4f9"/>
<stop offset="0.54" stop-color="#ddecf4"/>
<stop offset="0.58" stop-color="#cfe4f0"/>
<stop offset="0.62" stop-color="#c1dceb"/>
<stop offset="0.67" stop-color="#b3d3e7"/>
<stop offset="0.71" stop-color="#a5cbe2"/>
<stop offset="0.75" stop-color="#97c3de"/>
<stop offset="0.79" stop-color="#89bbd9"/>
<stop offset="0.83" stop-color="#7bb3d5"/>
<stop offset="0.88" stop-color="#6dabd0"/>
<stop offset="0.92" stop-color="#5fa3cc"/>
<stop offset="0.96" stop-color="#519bc7"/>
<stop offset="1" stop-color="#4393C3"/>
</linearGradient></defs>
<rect x="299.8" y="596" width="6.9" height="34.8" fill="url(#aucg)"/>
<path d="M299.8 607.6h1.4M305.3 607.6h1.4M299.8 619.2h1.4M305.3 619.2h1.4M299.8 630.3h1.4M305.3 630.3h1.4" stroke="#fff" stroke-width="0.5"/>
<g font-size="5.4" fill="#222">
<text x="308.2" y="599.9">1</text>
<text x="308.2" y="610.3">0.8</text>
<text x="308.2" y="621.0">0.6</text>
<text x="308.2" y="631.6">0.4</text>
</g>
<text x="319.4" y="593.3" font-size="5.6" font-weight="bold" fill="#111">Cohort</text>
<rect x="319.5" y="597" width="6.2" height="6.35" fill="#3F7DB4"/>
<text x="327.3" y="602.1" font-size="5.7" fill="#222">GSE126848</text>
<rect x="319.5" y="603.35" width="6.2" height="6.35" fill="#B2DF8A"/>
<text x="327.3" y="608.45" font-size="5.7" fill="#222">GSE167523</text>
<rect x="319.5" y="609.7" width="6.2" height="6.35" fill="#46A33E"/>
<text x="327.3" y="614.8" font-size="5.7" fill="#222">GSE48452</text>
<rect x="319.5" y="616.05" width="6.2" height="6.35" fill="#F09A9C"/>
<text x="327.3" y="621.15" font-size="5.7" fill="#222">GSE66676</text>
<rect x="319.5" y="622.4" width="6.2" height="6.35" fill="#DD2A27"/>
<text x="327.3" y="627.5" font-size="5.7" fill="#222">GSE89632</text>
<rect x="319.5" y="628.75" width="6.2" height="6.35" fill="#A6CEE3"/>
<text x="327.3" y="633.85" font-size="5.7" fill="#222">Train</text>
<path d="M356.4 157.4L481.4 32.4" stroke="#cfcfcf" stroke-width="0.8"/>
<path d="M356.5 157.5L358.5 157.5L358.5 152.5L360.5 152.5L360.5 108.5L360.5 107.5L363.5 107.5L363.5 105.5L363.5 105.5L363.5 103.5L363.5 103.5L363.5 99.5L363.5 99.5L363.5 97.5L363.5 97.5L363.5 95.5L365.5 95.5L365.5 91.5L368.5 91.5L368.5 91.5L368.5 87.5L369.5 87.5L369.5 83.5L370.5 83.5L370.5 83.5L373.5 83.5L373.5 82.5L375.5 82.5L375.5 78.5L375.5 78.5L375.5 75.5L375.5 75.5L375.5 75.5L377.5 75.5L377.5 70.5L377.5 70.5L377.5 68.5L378.5 68.5L378.5 67.5L379.5 67.5L379.5 67.5L382.5 67.5L382.5 67.5L386.5 67.5L386.5 66.5L389.5 66.5L389.5 62.5L390.5 62.5L390.5 62.5L395.5 62.5L395.5 59.5L395.5 59.5L395.5 59.5L398.5 59.5L398.5 58.5L402.5 58.5L402.5 57.5L402.5 57.5L402.5 55.5L406.5 55.5L406.5 54.5L407.5 54.5L407.5 53.5L411.5 53.5L411.5 53.5L413.5 53.5L413.5 52.5L415.5 52.5L415.5 51.5L418.5 51.5L418.5 51.5L421.5 51.5L421.5 50.5L424.5 50.5L424.5 50.5L427.5 50.5L427.5 48.5L429.5 48.5L429.5 46.5L432.5 46.5L432.5 42.5L432.5 42.5L432.5 41.5L436.5 41.5L436.5 39.5L438.5 39.5L438.5 38.5L441.5 38.5L441.5 38.5L444.5 38.5L444.5 37.5L447.5 37.5L447.5 35.5L451.5 35.5L451.5 35.5L452.5 35.5L452.5 35.5L455.5 35.5L455.5 34.5L458.5 34.5L458.5 33.5L459.5 33.5L459.5 33.5L463.5 33.5L463.5 33.5L466.5 33.5L466.5 33.5L470.5 33.5L470.5 32.5L473.5 32.5L473.5 32.5L476.5 32.5L481.5 32.5" stroke="#e8262a" stroke-width="1.25" fill="none" stroke-linejoin="miter"/>
<path d="M356.5 157.5L356.5 153.5L356.5 153.5L356.5 149.5L356.5 149.5L356.5 147.5L357.5 147.5L357.5 143.5L357.5 143.5L357.5 141.5L358.5 141.5L358.5 139.5L359.5 139.5L359.5 135.5L359.5 135.5L359.5 130.5L361.5 130.5L361.5 127.5L363.5 127.5L363.5 124.5L365.5 124.5L365.5 120.5L366.5 120.5L366.5 118.5L368.5 118.5L368.5 113.5L371.5 113.5L371.5 109.5L375.5 109.5L375.5 105.5L379.5 105.5L379.5 103.5L384.5 103.5L384.5 101.5L388.5 101.5L388.5 98.5L390.5 98.5L390.5 95.5L392.5 95.5L392.5 93.5L394.5 93.5L394.5 90.5L396.5 90.5L396.5 87.5L397.5 87.5L397.5 82.5L398.5 82.5L398.5 80.5L400.5 80.5L400.5 75.5L404.5 75.5L404.5 71.5L406.5 71.5L406.5 67.5L410.5 67.5L410.5 64.5L414.5 64.5L414.5 61.5L417.5 61.5L417.5 56.5L419.5 56.5L419.5 55.5L421.5 55.5L421.5 54.5L423.5 54.5L423.5 53.5L426.5 53.5L426.5 52.5L429.5 52.5L429.5 52.5L432.5 52.5L432.5 52.5L434.5 52.5L434.5 51.5L436.5 51.5L436.5 50.5L440.5 50.5L440.5 49.5L442.5 49.5L442.5 49.5L446.5 49.5L446.5 48.5L450.5 48.5L450.5 48.5L453.5 48.5L453.5 47.5L456.5 47.5L456.5 45.5L458.5 45.5L458.5 41.5L459.5 41.5L459.5 41.5L461.5 41.5L461.5 40.5L463.5 40.5L463.5 39.5L467.5 39.5L467.5 38.5L469.5 38.5L469.5 36.5L473.5 36.5L473.5 35.5L476.5 35.5L476.5 34.5L479.5 34.5L479.5 32.5L481.5 32.5" stroke="#deae3e" stroke-width="1.25" fill="none" stroke-linejoin="miter"/>
<path d="M356.5 157.5L356.5 133.5L359.5 133.5L359.5 124.5L359.5 122.5L364.5 122.5L364.5 118.5L366.5 118.5L366.5 113.5L369.5 113.5L369.5 109.5L372.5 109.5L372.5 105.5L376.5 105.5L376.5 101.5L381.5 101.5L381.5 98.5L384.5 98.5L384.5 95.5L388.5 95.5L388.5 92.5L392.5 92.5L392.5 91.5L394.5 91.5L394.5 89.5L397.5 89.5L397.5 86.5L399.5 86.5L399.5 85.5L399.5 85.5L399.5 81.5L400.5 81.5L400.5 77.5L402.5 77.5L402.5 75.5L404.5 75.5L404.5 72.5L408.5 72.5L408.5 68.5L412.5 68.5L412.5 66.5L414.5 66.5L414.5 64.5L419.5 64.5L419.5 62.5L422.5 62.5L422.5 61.5L425.5 61.5L425.5 59.5L429.5 59.5L429.5 56.5L431.5 56.5L431.5 55.5L435.5 55.5L435.5 53.5L438.5 53.5L438.5 52.5L441.5 52.5L441.5 50.5L444.5 50.5L444.5 48.5L447.5 48.5L447.5 46.5L450.5 46.5L450.5 44.5L452.5 44.5L452.5 44.5L456.5 44.5L456.5 43.5L459.5 43.5L459.5 41.5L462.5 41.5L462.5 41.5L465.5 41.5L465.5 39.5L467.5 39.5L467.5 37.5L469.5 37.5L469.5 37.5L472.5 37.5L472.5 35.5L476.5 35.5L476.5 34.5L478.5 34.5L478.5 32.5L481.5 32.5" stroke="#a2dc4c" stroke-width="1.25" fill="none" stroke-linejoin="miter"/>
<path d="M356.5 157.5L356.5 147.5L356.5 143.5L356.5 143.5L356.5 141.5L357.5 141.5L357.5 139.5L358.5 139.5L358.5 137.5L358.5 137.5L358.5 134.5L359.5 134.5L359.5 131.5L359.5 131.5L359.5 127.5L359.5 127.5L359.5 124.5L359.5 124.5L359.5 122.5L360.5 122.5L360.5 119.5L361.5 119.5L361.5 118.5L366.5 118.5L366.5 113.5L370.5 113.5L370.5 107.5L373.5 107.5L373.5 104.5L373.5 104.5L373.5 100.5L373.5 100.5L373.5 97.5L373.5 97.5L373.5 94.5L373.5 94.5L373.5 91.5L373.5 91.5L373.5 89.5L373.5 89.5L373.5 86.5L375.5 86.5L375.5 86.5L379.5 86.5L379.5 86.5L382.5 86.5L382.5 86.5L384.5 86.5L384.5 83.5L385.5 83.5L385.5 82.5L390.5 82.5L390.5 80.5L390.5 80.5L390.5 80.5L392.5 80.5L392.5 77.5L392.5 77.5L392.5 75.5L392.5 75.5L392.5 74.5L397.5 74.5L397.5 73.5L399.5 73.5L399.5 71.5L400.5 71.5L400.5 70.5L401.5 70.5L401.5 68.5L403.5 68.5L403.5 68.5L406.5 68.5L406.5 68.5L409.5 68.5L409.5 67.5L410.5 67.5L410.5 65.5L412.5 65.5L412.5 64.5L416.5 64.5L416.5 64.5L417.5 64.5L417.5 63.5L421.5 63.5L421.5 61.5L424.5 61.5L424.5 58.5L428.5 58.5L428.5 57.5L431.5 57.5L431.5 56.5L434.5 56.5L434.5 54.5L436.5 54.5L436.5 52.5L439.5 52.5L439.5 50.5L441.5 50.5L441.5 48.5L443.5 48.5L443.5 46.5L446.5 46.5L446.5 43.5L450.5 43.5L450.5 43.5L454.5 43.5L454.5 42.5L458.5 42.5L458.5 40.5L461.5 40.5L461.5 39.5L465.5 39.5L465.5 38.5L469.5 38.5L469.5 37.5L471.5 37.5L471.5 36.5L475.5 36.5L475.5 34.5L477.5 34.5L477.5 32.5L481.5 32.5" stroke="#72cc62" stroke-width="1.25" fill="none" stroke-linejoin="miter"/>
<path d="M356.5 157.5L356.5 155.5L356.5 155.5L356.5 152.5L357.5 152.5L357.5 148.5L358.5 148.5L358.5 145.5L359.5 145.5L359.5 143.5L360.5 143.5L360.5 139.5L361.5 139.5L361.5 136.5L362.5 136.5L362.5 134.5L363.5 134.5L363.5 130.5L365.5 130.5L365.5 127.5L367.5 127.5L367.5 124.5L368.5 124.5L368.5 122.5L369.5 122.5L369.5 119.5L371.5 119.5L371.5 115.5L373.5 115.5L373.5 113.5L375.5 113.5L375.5 109.5L377.5 109.5L377.5 106.5L379.5 106.5L379.5 104.5L381.5 104.5L381.5 102.5L385.5 102.5L385.5 100.5L389.5 100.5L389.5 98.5L393.5 98.5L393.5 94.5L397.5 94.5L397.5 90.5L399.5 90.5L399.5 88.5L403.5 88.5L403.5 86.5L407.5 86.5L407.5 84.5L410.5 84.5L410.5 84.5L412.5 84.5L415.5 84.5L415.5 81.5L419.5 81.5L419.5 79.5L421.5 79.5L421.5 77.5L426.5 77.5L426.5 75.5L429.5 75.5L429.5 73.5L432.5 73.5L432.5 71.5L434.5 71.5L434.5 68.5L435.5 68.5L435.5 64.5L436.5 64.5L436.5 61.5L436.5 61.5L436.5 60.5L438.5 60.5L438.5 56.5L440.5 56.5L440.5 54.5L443.5 54.5L443.5 50.5L445.5 50.5L445.5 46.5L447.5 46.5L447.5 43.5L450.5 43.5L450.5 40.5L451.5 40.5L451.5 39.5L452.5 39.5L452.5 39.5L455.5 39.5L455.5 39.5L461.5 39.5L461.5 38.5L463.5 38.5L463.5 37.5L465.5 37.5L465.5 35.5L468.5 35.5L468.5 35.5L472.5 35.5L472.5 34.5L474.5 34.5L474.5 33.5L477.5 33.5L477.5 32.5L481.5 32.5" stroke="#88dada" stroke-width="1.25" fill="none" stroke-linejoin="miter"/>
<path d="M356.5 157.5L356.5 151.5L358.5 151.5L358.5 134.5L358.5 133.5L361.5 133.5L361.5 132.5L362.5 132.5L362.5 128.5L362.5 128.5L362.5 124.5L362.5 124.5L362.5 121.5L363.5 121.5L363.5 117.5L363.5 117.5L363.5 116.5L367.5 116.5L367.5 114.5L368.5 114.5L368.5 113.5L370.5 113.5L370.5 111.5L371.5 111.5L371.5 109.5L373.5 109.5L373.5 106.5L373.5 106.5L373.5 105.5L376.5 105.5L376.5 104.5L380.5 104.5L380.5 100.5L380.5 99.5L383.5 99.5L383.5 99.5L387.5 99.5L387.5 99.5L390.5 99.5L390.5 96.5L392.5 96.5L392.5 94.5L394.5 94.5L394.5 91.5L395.5 91.5L395.5 86.5L399.5 86.5L399.5 83.5L402.5 83.5L402.5 80.5L406.5 80.5L406.5 75.5L410.5 75.5L410.5 73.5L412.5 73.5L412.5 71.5L415.5 71.5L415.5 67.5L419.5 67.5L419.5 66.5L422.5 66.5L422.5 64.5L425.5 64.5L425.5 62.5L428.5 62.5L428.5 61.5L432.5 61.5L432.5 58.5L432.5 58.5L432.5 54.5L432.5 54.5L432.5 50.5L434.5 50.5L434.5 47.5L438.5 47.5L438.5 44.5L439.5 44.5L439.5 43.5L442.5 43.5L442.5 42.5L446.5 42.5L446.5 41.5L450.5 41.5L450.5 40.5L452.5 40.5L452.5 39.5L457.5 39.5L457.5 39.5L458.5 39.5L458.5 35.5L459.5 35.5L459.5 33.5L459.5 33.5L459.5 32.5L463.5 32.5L463.5 32.5L466.5 32.5L466.5 32.5L469.5 32.5L469.5 32.5L473.5 32.5L481.5 32.5" stroke="#3a62bc" stroke-width="1.25" fill="none" stroke-linejoin="miter"/>
<path d="M356.5 157.5L358.5 157.5L358.5 150.5L360.5 150.5L360.5 147.5L362.5 147.5L362.5 144.5L362.5 141.5L364.5 141.5L364.5 137.5L367.5 137.5L367.5 133.5L371.5 133.5L371.5 129.5L371.5 128.5L373.5 128.5L373.5 119.5L373.5 116.5L376.5 116.5L376.5 114.5L378.5 114.5L378.5 113.5L380.5 113.5L380.5 110.5L380.5 110.5L380.5 106.5L381.5 106.5L381.5 104.5L384.5 104.5L384.5 104.5L388.5 104.5L388.5 103.5L392.5 103.5L392.5 95.5L392.5 92.5L394.5 92.5L394.5 89.5L397.5 89.5L397.5 87.5L401.5 87.5L401.5 85.5L405.5 85.5L405.5 84.5L408.5 84.5L408.5 83.5L410.5 83.5L410.5 83.5L415.5 83.5L415.5 82.5L418.5 82.5L418.5 82.5L421.5 82.5L421.5 80.5L423.5 80.5L423.5 79.5L426.5 79.5L426.5 77.5L428.5 77.5L428.5 75.5L430.5 75.5L430.5 74.5L432.5 74.5L432.5 73.5L436.5 73.5L436.5 73.5L439.5 73.5L439.5 70.5L439.5 70.5L439.5 68.5L439.5 68.5L439.5 65.5L439.5 65.5L439.5 61.5L439.5 61.5L439.5 57.5L439.5 57.5L445.5 57.5L445.5 55.5L447.5 55.5L447.5 51.5L450.5 51.5L450.5 50.5L452.5 50.5L452.5 48.5L454.5 48.5L454.5 46.5L456.5 46.5L456.5 45.5L458.5 45.5L458.5 44.5L461.5 44.5L461.5 42.5L465.5 42.5L465.5 39.5L469.5 39.5L469.5 38.5L472.5 38.5L472.5 37.5L475.5 37.5L475.5 36.5L478.5 36.5L478.5 35.5L480.5 35.5L480.5 32.5L481.5 32.5" stroke="#58389e" stroke-width="1.25" fill="none" stroke-linejoin="miter"/>
<path d="M356.5 157.5L356.5 156.5L363.5 156.5L363.5 151.5L365.5 151.5L365.5 144.5L375.5 144.5L375.5 140.5L377.5 140.5L377.5 137.5L380.5 137.5L380.5 130.5L382.5 130.5L382.5 127.5L385.5 127.5L385.5 119.5L392.5 119.5L392.5 113.5L395.5 113.5L395.5 111.5L398.5 111.5L398.5 109.5L400.5 109.5L400.5 96.5L400.5 92.5L403.5 92.5L403.5 89.5L404.5 89.5L404.5 85.5L404.5 85.5L404.5 84.5L405.5 84.5L405.5 80.5L405.5 79.5L409.5 79.5L409.5 77.5L412.5 77.5L412.5 74.5L415.5 74.5L415.5 71.5L418.5 71.5L418.5 69.5L421.5 69.5L421.5 68.5L426.5 68.5L426.5 67.5L428.5 67.5L428.5 65.5L431.5 65.5L431.5 64.5L434.5 64.5L434.5 62.5L436.5 62.5L436.5 62.5L438.5 62.5L438.5 59.5L438.5 59.5L438.5 54.5L440.5 54.5L440.5 52.5L443.5 52.5L443.5 51.5L446.5 51.5L446.5 50.5L450.5 50.5L450.5 48.5L450.5 48.5L450.5 45.5L452.5 45.5L456.5 45.5L456.5 43.5L459.5 43.5L459.5 40.5L464.5 40.5L464.5 39.5L467.5 39.5L467.5 37.5L469.5 37.5L469.5 34.5L474.5 34.5L474.5 33.5L478.5 33.5L478.5 32.5L481.5 32.5" stroke="#cf48b0" stroke-width="1.25" fill="none" stroke-linejoin="miter"/>
<rect x="351.4" y="27.4" width="135" height="135" fill="none" stroke="#8c8c8c" stroke-width="0.9"/>
<path d="M356.4 162.4v3.3M351.4 157.4h-3.3M381.4 162.4v3.3M351.4 132.4h-3.3M406.4 162.4v3.3M351.4 107.4h-3.3M431.4 162.4v3.3M351.4 82.4h-3.3M456.4 162.4v3.3M351.4 57.4h-3.3M481.4 162.4v3.3M351.4 32.4h-3.3" stroke="#8c8c8c" stroke-width="0.8"/>
<g font-size="6.5" fill="#161616" text-anchor="middle">
<text x="356.4" y="174.8">0.0</text>
<text x="381.4" y="174.8">0.2</text>
<text x="406.4" y="174.8">0.4</text>
<text x="431.4" y="174.8">0.6</text>
<text x="456.4" y="174.8">0.8</text>
<text x="481.4" y="174.8">1.0</text>
<text transform="translate(342.8 157.4) rotate(-90)" x="0" y="0">0.0</text>
<text transform="translate(342.8 132.4) rotate(-90)" x="0" y="0">0.2</text>
<text transform="translate(342.8 107.4) rotate(-90)" x="0" y="0">0.4</text>
<text transform="translate(342.8 82.4) rotate(-90)" x="0" y="0">0.6</text>
<text transform="translate(342.8 57.4) rotate(-90)" x="0" y="0">0.8</text>
<text transform="translate(342.8 32.4) rotate(-90)" x="0" y="0">1.0</text>
</g>
<text x="418.9" y="186.4" font-size="6.1" fill="#161616" text-anchor="middle">1 - Specificity</text>
<text transform="translate(331 94.9) rotate(-90)" font-size="6.1" fill="#161616" text-anchor="middle">Sensitivity</text>
<text x="418.9" y="22.4" font-size="7" font-weight="bold" fill="#111" text-anchor="middle">GSE135251</text>
<path d="M408.9 108.5h9.5" stroke="#e8262a" stroke-width="1.2"/>
<text x="422.3" y="109.8" font-size="5" fill="#111">DTNA, AUC=0.800</text>
<path d="M408.9 114.5h9.5" stroke="#deae3e" stroke-width="1.2"/>
<text x="422.3" y="116.67" font-size="5" fill="#111">ITGAX, AUC=0.693</text>
<path d="M408.9 121.5h9.5" stroke="#a2dc4c" stroke-width="1.2"/>
<text x="422.3" y="123.54" font-size="5" fill="#111">ARHGAP22, AUC=0.658</text>
<path d="M408.9 128.5h9.5" stroke="#72cc62" stroke-width="1.2"/>
<text x="422.3" y="130.41" font-size="5" fill="#111">DHRS9, AUC=0.702</text>
<path d="M408.9 135.5h9.5" stroke="#88dada" stroke-width="1.2"/>
<text x="422.3" y="137.28" font-size="5" fill="#111">TRPM2, AUC=0.612</text>
<path d="M408.9 142.5h9.5" stroke="#3a62bc" stroke-width="1.2"/>
<text x="422.3" y="144.15" font-size="5" fill="#111">RUNX2, AUC=0.675</text>
<path d="M408.9 149.5h9.5" stroke="#58389e" stroke-width="1.2"/>
<text x="422.3" y="151.02" font-size="5" fill="#111">AUTS2, AUC=0.592</text>
<path d="M408.9 156.5h9.5" stroke="#cf48b0" stroke-width="1.2"/>
<text x="422.3" y="157.89" font-size="5" fill="#111">TESK2, AUC=0.573</text>
<text x="305.4" y="17.5" font-size="23.5" fill="#000">B</text>
<path d="M553.6 157.4L678.6 32.4" stroke="#cfcfcf" stroke-width="0.8"/>
<path d="M553.5 157.5L553.5 63.5L578.5 63.5L578.5 55.5L628.5 55.5L628.5 32.5L678.5 32.5" stroke="#e8262a" stroke-width="1.25" fill="none" stroke-linejoin="miter"/>
<path d="M553.5 157.5L553.5 126.5L561.5 126.5L561.5 110.5L570.5 110.5L570.5 79.5L595.5 79.5L595.5 71.5L603.5 71.5L603.5 63.5L628.5 63.5L628.5 48.5L645.5 48.5L645.5 40.5L661.5 40.5L661.5 32.5L678.5 32.5" stroke="#deae3e" stroke-width="1.25" fill="none" stroke-linejoin="miter"/>
<path d="M553.5 157.5L561.5 157.5L561.5 118.5L570.5 118.5L570.5 94.5L578.5 94.5L578.5 87.5L595.5 87.5L595.5 63.5L636.5 63.5L636.5 48.5L661.5 48.5L678.5 32.5" stroke="#a2dc4c" stroke-width="1.25" fill="none" stroke-linejoin="miter"/>
<path d="M553.5 157.5L553.5 110.5L570.5 110.5L570.5 102.5L578.5 102.5L578.5 87.5L611.5 87.5L611.5 71.5L636.5 71.5L636.5 63.5L645.5 63.5L645.5 48.5L661.5 48.5L661.5 40.5L670.5 40.5L670.5 32.5L678.5 32.5" stroke="#72cc62" stroke-width="1.25" fill="none" stroke-linejoin="miter"/>
<path d="M553.5 157.5L561.5 157.5L561.5 141.5L570.5 141.5L570.5 133.5L578.5 133.5L578.5 118.5L595.5 118.5L595.5 79.5L620.5 79.5L620.5 55.5L636.5 55.5L636.5 40.5L645.5 40.5L645.5 32.5L678.5 32.5" stroke="#88dada" stroke-width="1.25" fill="none" stroke-linejoin="miter"/>
<path d="M553.5 157.5L570.5 157.5L570.5 110.5L578.5 110.5L578.5 71.5L595.5 71.5L595.5 48.5L603.5 48.5L603.5 40.5L636.5 40.5L678.5 32.5" stroke="#3a62bc" stroke-width="1.25" fill="none" stroke-linejoin="miter"/>
<path d="M553.5 157.5L570.5 157.5L570.5 141.5L578.5 141.5L578.5 118.5L586.5 118.5L586.5 110.5L595.5 110.5L595.5 102.5L603.5 102.5L603.5 87.5L620.5 87.5L620.5 79.5L636.5 79.5L636.5 71.5L661.5 71.5L661.5 63.5L670.5 63.5L670.5 40.5L678.5 40.5L678.5 32.5" stroke="#58389e" stroke-width="1.25" fill="none" stroke-linejoin="miter"/>
<path d="M553.5 157.5L553.5 149.5L561.5 149.5L561.5 141.5L570.5 141.5L570.5 133.5L578.5 133.5L578.5 110.5L595.5 110.5L595.5 102.5L603.5 102.5L603.5 87.5L620.5 87.5L620.5 63.5L636.5 63.5L636.5 55.5L653.5 55.5L653.5 48.5L678.5 48.5L678.5 32.5" stroke="#cf48b0" stroke-width="1.25" fill="none" stroke-linejoin="miter"/>
<rect x="548.6" y="27.4" width="135" height="135" fill="none" stroke="#8c8c8c" stroke-width="0.9"/>
<path d="M553.6 162.4v3.3M548.6 157.4h-3.3M578.6 162.4v3.3M548.6 132.4h-3.3M603.6 162.4v3.3M548.6 107.4h-3.3M628.6 162.4v3.3M548.6 82.4h-3.3M653.6 162.4v3.3M548.6 57.4h-3.3M678.6 162.4v3.3M548.6 32.4h-3.3" stroke="#8c8c8c" stroke-width="0.8"/>
<g font-size="6.5" fill="#161616" text-anchor="middle">
<text x="553.6" y="174.8">0.0</text>
<text x="578.6" y="174.8">0.2</text>
<text x="603.6" y="174.8">0.4</text>
<text x="628.6" y="174.8">0.6</text>
<text x="653.6" y="174.8">0.8</text>
<text x="678.6" y="174.8">1.0</text>
<text transform="translate(540 157.4) rotate(-90)" x="0" y="0">0.0</text>
<text transform="translate(540 132.4) rotate(-90)" x="0" y="0">0.2</text>
<text transform="translate(540 107.4) rotate(-90)" x="0" y="0">0.4</text>
<text transform="translate(540 82.4) rotate(-90)" x="0" y="0">0.6</text>
<text transform="translate(540 57.4) rotate(-90)" x="0" y="0">0.8</text>
<text transform="translate(540 32.4) rotate(-90)" x="0" y="0">1.0</text>
</g>
<text x="616.1" y="186.4" font-size="6.1" fill="#161616" text-anchor="middle">1 - Specificity</text>
<text transform="translate(528.2 94.9) rotate(-90)" font-size="6.1" fill="#161616" text-anchor="middle">Sensitivity</text>
<text x="616.1" y="22.4" font-size="7" font-weight="bold" fill="#111" text-anchor="middle">GSE126848</text>
<path d="M606.1 108.5h9.5" stroke="#e8262a" stroke-width="1.2"/>
<text x="619.5" y="109.8" font-size="5" fill="#111">DTNA, AUC=0.875</text>
<path d="M606.1 114.5h9.5" stroke="#deae3e" stroke-width="1.2"/>
<text x="619.5" y="116.67" font-size="5" fill="#111">ITGAX, AUC=0.742</text>
<path d="M606.1 121.5h9.5" stroke="#a2dc4c" stroke-width="1.2"/>
<text x="619.5" y="123.54" font-size="5" fill="#111">ARHGAP22, AUC=0.679</text>
<path d="M606.1 128.5h9.5" stroke="#72cc62" stroke-width="1.2"/>
<text x="619.5" y="130.41" font-size="5" fill="#111">DHRS9, AUC=0.677</text>
<path d="M606.1 135.5h9.5" stroke="#88dada" stroke-width="1.2"/>
<text x="619.5" y="137.28" font-size="5" fill="#111">TRPM2, AUC=0.621</text>
<path d="M606.1 142.5h9.5" stroke="#3a62bc" stroke-width="1.2"/>
<text x="619.5" y="144.15" font-size="5" fill="#111">RUNX2, AUC=0.748</text>
<path d="M606.1 149.5h9.5" stroke="#58389e" stroke-width="1.2"/>
<text x="619.5" y="151.02" font-size="5" fill="#111">AUTS2, AUC=0.504</text>
<path d="M606.1 156.5h9.5" stroke="#cf48b0" stroke-width="1.2"/>
<text x="619.5" y="157.89" font-size="5" fill="#111">TESK2, AUC=0.582</text>
<text x="507.3" y="17.9" font-size="23.5" fill="#000">C</text>
<path d="M356.4 362.9L481.4 237.9" stroke="#cfcfcf" stroke-width="0.8"/>
<path d="M356.5 362.5L356.5 338.5L356.5 320.5L358.5 320.5L358.5 309.5L358.5 306.5L358.5 306.5L358.5 303.5L358.5 303.5L358.5 300.5L358.5 300.5L358.5 285.5L363.5 285.5L363.5 261.5L363.5 260.5L365.5 260.5L365.5 259.5L366.5 259.5L366.5 258.5L368.5 258.5L368.5 256.5L394.5 256.5L394.5 253.5L397.5 253.5L397.5 252.5L400.5 252.5L400.5 251.5L402.5 251.5L409.5 251.5L409.5 250.5L412.5 250.5L412.5 248.5L414.5 248.5L414.5 248.5L418.5 248.5L418.5 248.5L422.5 248.5L445.5 248.5L445.5 243.5L446.5 243.5L446.5 242.5L451.5 242.5L451.5 241.5L452.5 241.5L452.5 241.5L454.5 241.5L454.5 241.5L458.5 241.5L458.5 241.5L462.5 241.5L462.5 240.5L463.5 240.5L463.5 240.5L467.5 240.5L467.5 240.5L470.5 240.5L470.5 240.5L474.5 240.5L474.5 239.5L477.5 239.5L477.5 237.5L481.5 237.5" stroke="#e8262a" stroke-width="1.25" fill="none" stroke-linejoin="miter"/>
<path d="M356.5 362.5L356.5 359.5L356.5 359.5L356.5 355.5L357.5 355.5L357.5 350.5L357.5 350.5L357.5 348.5L357.5 348.5L357.5 347.5L358.5 347.5L358.5 342.5L358.5 338.5L360.5 338.5L360.5 336.5L360.5 336.5L360.5 332.5L360.5 332.5L360.5 326.5L360.5 326.5L360.5 323.5L360.5 323.5L360.5 320.5L360.5 320.5L360.5 316.5L360.5 316.5L360.5 314.5L360.5 314.5L360.5 312.5L360.5 312.5L360.5 311.5L363.5 311.5L363.5 307.5L365.5 307.5L365.5 306.5L367.5 306.5L367.5 303.5L368.5 303.5L368.5 300.5L368.5 300.5L368.5 298.5L369.5 298.5L369.5 296.5L370.5 296.5L370.5 295.5L373.5 295.5L373.5 291.5L373.5 291.5L373.5 290.5L375.5 290.5L375.5 285.5L376.5 285.5L380.5 285.5L380.5 275.5L380.5 272.5L380.5 272.5L380.5 268.5L381.5 268.5L381.5 266.5L382.5 266.5L382.5 264.5L383.5 264.5L384.5 264.5L384.5 260.5L387.5 260.5L387.5 259.5L387.5 258.5L390.5 258.5L390.5 258.5L393.5 258.5L393.5 258.5L397.5 258.5L397.5 256.5L398.5 256.5L398.5 256.5L401.5 256.5L401.5 255.5L404.5 255.5L404.5 254.5L408.5 254.5L408.5 254.5L411.5 254.5L411.5 251.5L412.5 251.5L412.5 251.5L415.5 251.5L415.5 251.5L419.5 251.5L419.5 251.5L422.5 251.5L422.5 248.5L424.5 248.5L424.5 247.5L426.5 247.5L426.5 243.5L430.5 243.5L430.5 241.5L434.5 241.5L434.5 240.5L435.5 240.5L460.5 240.5L460.5 239.5L463.5 239.5L463.5 238.5L465.5 238.5L465.5 237.5L470.5 237.5L481.5 237.5" stroke="#deae3e" stroke-width="1.25" fill="none" stroke-linejoin="miter"/>
<path d="M356.5 362.5L356.5 360.5L356.5 360.5L356.5 356.5L357.5 356.5L357.5 352.5L357.5 352.5L357.5 349.5L358.5 349.5L358.5 346.5L359.5 346.5L359.5 344.5L359.5 344.5L359.5 341.5L359.5 341.5L359.5 338.5L360.5 338.5L360.5 334.5L361.5 334.5L361.5 332.5L361.5 332.5L361.5 330.5L362.5 330.5L362.5 326.5L362.5 326.5L362.5 323.5L363.5 323.5L363.5 320.5L364.5 320.5L364.5 316.5L368.5 316.5L368.5 313.5L369.5 313.5L369.5 309.5L369.5 309.5L373.5 309.5L373.5 306.5L373.5 306.5L373.5 304.5L373.5 304.5L373.5 304.5L375.5 304.5L375.5 301.5L376.5 301.5L376.5 301.5L380.5 301.5L380.5 298.5L380.5 298.5L385.5 298.5L385.5 297.5L387.5 297.5L387.5 296.5L390.5 296.5L390.5 291.5L393.5 291.5L393.5 285.5L393.5 285.5L397.5 285.5L397.5 283.5L397.5 283.5L397.5 280.5L398.5 280.5L398.5 279.5L401.5 279.5L401.5 275.5L405.5 275.5L409.5 275.5L409.5 274.5L413.5 274.5L413.5 271.5L414.5 271.5L414.5 269.5L419.5 269.5L419.5 267.5L422.5 267.5L422.5 263.5L424.5 263.5L424.5 261.5L429.5 261.5L429.5 258.5L433.5 258.5L433.5 255.5L434.5 255.5L434.5 252.5L435.5 252.5L435.5 252.5L438.5 252.5L438.5 252.5L442.5 252.5L442.5 251.5L446.5 251.5L446.5 248.5L449.5 248.5L449.5 247.5L452.5 247.5L452.5 245.5L455.5 245.5L455.5 245.5L460.5 245.5L460.5 242.5L462.5 242.5L462.5 241.5L465.5 241.5L465.5 240.5L467.5 240.5L467.5 240.5L472.5 240.5L472.5 239.5L474.5 239.5L474.5 238.5L478.5 238.5L478.5 237.5L481.5 237.5" stroke="#a2dc4c" stroke-width="1.25" fill="none" stroke-linejoin="miter"/>
<path d="M356.5 362.5L356.5 345.5L356.5 342.5L357.5 342.5L357.5 340.5L358.5 340.5L358.5 309.5L360.5 309.5L360.5 296.5L360.5 296.5L365.5 296.5L365.5 293.5L366.5 293.5L366.5 292.5L367.5 292.5L367.5 288.5L369.5 288.5L369.5 285.5L370.5 285.5L370.5 284.5L373.5 284.5L373.5 283.5L373.5 283.5L373.5 280.5L377.5 280.5L377.5 277.5L378.5 277.5L378.5 275.5L380.5 275.5L380.5 270.5L380.5 269.5L383.5 269.5L383.5 268.5L387.5 268.5L387.5 267.5L387.5 267.5L387.5 266.5L392.5 266.5L392.5 264.5L393.5 264.5L393.5 264.5L394.5 264.5L394.5 263.5L395.5 263.5L395.5 262.5L400.5 262.5L400.5 262.5L402.5 262.5L402.5 259.5L402.5 259.5L402.5 259.5L405.5 259.5L405.5 258.5L408.5 258.5L408.5 258.5L412.5 258.5L412.5 253.5L412.5 253.5L415.5 253.5L415.5 252.5L420.5 252.5L420.5 251.5L420.5 250.5L423.5 250.5L423.5 250.5L428.5 250.5L428.5 248.5L428.5 248.5L431.5 248.5L431.5 248.5L435.5 248.5L435.5 247.5L438.5 247.5L438.5 247.5L441.5 247.5L441.5 247.5L444.5 247.5L444.5 245.5L445.5 245.5L454.5 245.5L454.5 243.5L455.5 243.5L455.5 243.5L460.5 243.5L460.5 242.5L463.5 242.5L463.5 241.5L465.5 241.5L465.5 240.5L470.5 240.5L470.5 239.5L474.5 239.5L474.5 238.5L477.5 238.5L477.5 237.5L481.5 237.5" stroke="#72cc62" stroke-width="1.25" fill="none" stroke-linejoin="miter"/>
<path d="M356.5 362.5L356.5 338.5L356.5 334.5L358.5 334.5L358.5 333.5L360.5 333.5L360.5 326.5L360.5 325.5L363.5 325.5L363.5 315.5L363.5 315.5L367.5 315.5L367.5 311.5L367.5 311.5L367.5 308.5L367.5 308.5L367.5 304.5L367.5 304.5L367.5 302.5L368.5 302.5L368.5 300.5L368.5 300.5L368.5 297.5L368.5 297.5L368.5 294.5L368.5 294.5L368.5 291.5L368.5 291.5L373.5 291.5L373.5 275.5L385.5 275.5L385.5 264.5L385.5 263.5L387.5 263.5L387.5 261.5L388.5 261.5L388.5 261.5L392.5 261.5L392.5 261.5L395.5 261.5L395.5 256.5L400.5 256.5L400.5 253.5L404.5 253.5L404.5 253.5L408.5 253.5L408.5 251.5L412.5 251.5L412.5 248.5L413.5 248.5L413.5 246.5L415.5 246.5L415.5 246.5L418.5 246.5L418.5 245.5L421.5 245.5L421.5 245.5L424.5 245.5L424.5 245.5L427.5 245.5L427.5 245.5L430.5 245.5L430.5 245.5L432.5 245.5L432.5 245.5L436.5 245.5L436.5 241.5L439.5 241.5L439.5 241.5L442.5 241.5L442.5 240.5L444.5 240.5L444.5 240.5L448.5 240.5L448.5 240.5L451.5 240.5L451.5 240.5L454.5 240.5L454.5 240.5L459.5 240.5L459.5 237.5L460.5 237.5L481.5 237.5" stroke="#88dada" stroke-width="1.25" fill="none" stroke-linejoin="miter"/>
<path d="M356.5 362.5L356.5 362.5L360.5 362.5L360.5 347.5L360.5 345.5L363.5 345.5L363.5 343.5L365.5 343.5L365.5 341.5L366.5 341.5L366.5 340.5L368.5 340.5L368.5 338.5L370.5 338.5L370.5 326.5L370.5 325.5L373.5 325.5L373.5 320.5L380.5 320.5L380.5 315.5L380.5 315.5L383.5 315.5L383.5 301.5L383.5 301.5L385.5 301.5L385.5 294.5L385.5 293.5L387.5 293.5L387.5 293.5L390.5 293.5L390.5 291.5L392.5 291.5L397.5 291.5L397.5 283.5L397.5 282.5L400.5 282.5L400.5 280.5L400.5 280.5L400.5 277.5L400.5 277.5L400.5 277.5L404.5 277.5L404.5 277.5L408.5 277.5L408.5 275.5L409.5 275.5L409.5 272.5L410.5 272.5L410.5 268.5L411.5 268.5L411.5 267.5L412.5 267.5L412.5 264.5L415.5 264.5L415.5 263.5L419.5 263.5L419.5 261.5L422.5 261.5L422.5 260.5L423.5 260.5L423.5 259.5L427.5 259.5L427.5 256.5L431.5 256.5L431.5 253.5L434.5 253.5L434.5 253.5L438.5 253.5L438.5 252.5L440.5 252.5L440.5 251.5L445.5 251.5L445.5 251.5L446.5 251.5L446.5 250.5L449.5 250.5L449.5 250.5L453.5 250.5L453.5 248.5L454.5 248.5L454.5 247.5L456.5 247.5L456.5 245.5L459.5 245.5L459.5 243.5L461.5 243.5L461.5 239.5L465.5 239.5L465.5 237.5L466.5 237.5L481.5 237.5" stroke="#3a62bc" stroke-width="1.25" fill="none" stroke-linejoin="miter"/>
<path d="M356.5 362.5L356.5 362.5L358.5 362.5L358.5 362.5L361.5 362.5L361.5 357.5L366.5 357.5L366.5 355.5L378.5 355.5L378.5 350.5L378.5 347.5L379.5 347.5L379.5 345.5L383.5 345.5L383.5 341.5L386.5 341.5L386.5 340.5L388.5 340.5L388.5 337.5L389.5 337.5L389.5 335.5L389.5 335.5L389.5 332.5L390.5 332.5L390.5 328.5L392.5 328.5L392.5 326.5L393.5 326.5L393.5 324.5L395.5 324.5L395.5 322.5L397.5 322.5L397.5 312.5L405.5 312.5L405.5 304.5L405.5 304.5L409.5 304.5L409.5 298.5L409.5 295.5L410.5 295.5L410.5 292.5L412.5 292.5L412.5 291.5L412.5 289.5L413.5 289.5L413.5 286.5L415.5 286.5L415.5 285.5L417.5 285.5L417.5 285.5L421.5 285.5L421.5 284.5L424.5 284.5L424.5 280.5L424.5 279.5L427.5 279.5L427.5 277.5L430.5 277.5L430.5 272.5L431.5 272.5L431.5 270.5L432.5 270.5L432.5 269.5L436.5 269.5L436.5 267.5L440.5 267.5L440.5 265.5L441.5 265.5L441.5 264.5L445.5 264.5L445.5 264.5L448.5 264.5L448.5 264.5L451.5 264.5L451.5 261.5L454.5 261.5L454.5 248.5L454.5 245.5L455.5 245.5L455.5 243.5L456.5 243.5L456.5 243.5L460.5 243.5L460.5 242.5L463.5 242.5L463.5 242.5L465.5 242.5L465.5 239.5L470.5 239.5L470.5 237.5L471.5 237.5L481.5 237.5" stroke="#58389e" stroke-width="1.25" fill="none" stroke-linejoin="miter"/>
<path d="M356.5 362.5L356.5 357.5L356.5 356.5L359.5 356.5L359.5 355.5L361.5 355.5L361.5 355.5L365.5 355.5L365.5 355.5L368.5 355.5L368.5 354.5L370.5 354.5L370.5 352.5L370.5 352.5L370.5 352.5L372.5 352.5L372.5 351.5L375.5 351.5L375.5 349.5L376.5 349.5L376.5 347.5L378.5 347.5L378.5 346.5L379.5 346.5L379.5 345.5L383.5 345.5L383.5 344.5L384.5 344.5L384.5 343.5L387.5 343.5L387.5 338.5L388.5 338.5L388.5 336.5L390.5 336.5L390.5 334.5L390.5 334.5L390.5 331.5L391.5 331.5L391.5 328.5L393.5 328.5L393.5 328.5L395.5 328.5L395.5 328.5L398.5 328.5L398.5 325.5L400.5 325.5L400.5 306.5L400.5 305.5L402.5 305.5L402.5 294.5L402.5 293.5L407.5 293.5L407.5 291.5L408.5 291.5L408.5 290.5L411.5 290.5L411.5 290.5L413.5 290.5L413.5 290.5L415.5 290.5L415.5 290.5L419.5 290.5L419.5 288.5L420.5 288.5L420.5 287.5L423.5 287.5L423.5 286.5L425.5 286.5L425.5 286.5L429.5 286.5L429.5 282.5L430.5 282.5L430.5 279.5L431.5 279.5L431.5 271.5L431.5 271.5L433.5 271.5L433.5 270.5L438.5 270.5L438.5 267.5L440.5 267.5L440.5 262.5L441.5 262.5L441.5 259.5L444.5 259.5L444.5 257.5L449.5 257.5L449.5 256.5L450.5 256.5L450.5 255.5L454.5 255.5L454.5 251.5L459.5 251.5L459.5 248.5L461.5 248.5L461.5 246.5L465.5 246.5L465.5 244.5L470.5 244.5L470.5 242.5L470.5 242.5L470.5 239.5L471.5 239.5L471.5 237.5L471.5 237.5L481.5 237.5" stroke="#cf48b0" stroke-width="1.25" fill="none" stroke-linejoin="miter"/>
<rect x="351.4" y="232.9" width="135" height="135" fill="none" stroke="#8c8c8c" stroke-width="0.9"/>
<path d="M356.4 367.9v3.3M351.4 362.9h-3.3M381.4 367.9v3.3M351.4 337.9h-3.3M406.4 367.9v3.3M351.4 312.9h-3.3M431.4 367.9v3.3M351.4 287.9h-3.3M456.4 367.9v3.3M351.4 262.9h-3.3M481.4 367.9v3.3M351.4 237.9h-3.3" stroke="#8c8c8c" stroke-width="0.8"/>
<g font-size="6.5" fill="#161616" text-anchor="middle">
<text x="356.4" y="380.3">0.0</text>
<text x="381.4" y="380.3">0.2</text>
<text x="406.4" y="380.3">0.4</text>
<text x="431.4" y="380.3">0.6</text>
<text x="456.4" y="380.3">0.8</text>
<text x="481.4" y="380.3">1.0</text>
<text transform="translate(342.8 362.9) rotate(-90)" x="0" y="0">0.0</text>
<text transform="translate(342.8 337.9) rotate(-90)" x="0" y="0">0.2</text>
<text transform="translate(342.8 312.9) rotate(-90)" x="0" y="0">0.4</text>
<text transform="translate(342.8 287.9) rotate(-90)" x="0" y="0">0.6</text>
<text transform="translate(342.8 262.9) rotate(-90)" x="0" y="0">0.8</text>
<text transform="translate(342.8 237.9) rotate(-90)" x="0" y="0">1.0</text>
</g>
<text x="418.9" y="391.9" font-size="6.1" fill="#161616" text-anchor="middle">1 - Specificity</text>
<text transform="translate(331 300.4) rotate(-90)" font-size="6.1" fill="#161616" text-anchor="middle">Sensitivity</text>
<text x="418.9" y="227.9" font-size="7" font-weight="bold" fill="#111" text-anchor="middle">GSE167523</text>
<path d="M408.9 313.5h9.5" stroke="#e8262a" stroke-width="1.2"/>
<text x="422.3" y="315.3" font-size="5" fill="#111">DTNA, AUC=0.887</text>
<path d="M408.9 320.5h9.5" stroke="#deae3e" stroke-width="1.2"/>
<text x="422.3" y="322.17" font-size="5" fill="#111">ITGAX, AUC=0.829</text>
<path d="M408.9 327.5h9.5" stroke="#a2dc4c" stroke-width="1.2"/>
<text x="422.3" y="329.04" font-size="5" fill="#111">ARHGAP22, AUC=0.716</text>
<path d="M408.9 334.5h9.5" stroke="#72cc62" stroke-width="1.2"/>
<text x="422.3" y="335.91" font-size="5" fill="#111">DHRS9, AUC=0.822</text>
<path d="M408.9 340.5h9.5" stroke="#88dada" stroke-width="1.2"/>
<text x="422.3" y="342.78" font-size="5" fill="#111">TRPM2, AUC=0.834</text>
<path d="M408.9 347.5h9.5" stroke="#3a62bc" stroke-width="1.2"/>
<text x="422.3" y="349.65" font-size="5" fill="#111">RUNX2, AUC=0.682</text>
<path d="M408.9 354.5h9.5" stroke="#58389e" stroke-width="1.2"/>
<text x="422.3" y="356.52" font-size="5" fill="#111">AUTS2, AUC=0.537</text>
<path d="M408.9 361.5h9.5" stroke="#cf48b0" stroke-width="1.2"/>
<text x="422.3" y="363.39" font-size="5" fill="#111">TESK2, AUC=0.537</text>
<text x="305.5" y="209.3" font-size="23.5" fill="#000">D</text>
<path d="M553.6 362.9L678.6 237.9" stroke="#cfcfcf" stroke-width="0.8"/>
<path d="M553.5 362.5L553.5 328.5L562.5 328.5L562.5 300.5L589.5 300.5L589.5 286.5L598.5 286.5L598.5 251.5L616.5 251.5L616.5 244.5L642.5 244.5L642.5 237.5L678.5 237.5" stroke="#e8262a" stroke-width="1.25" fill="none" stroke-linejoin="miter"/>
<path d="M553.5 362.5L553.5 335.5L580.5 335.5L580.5 314.5L598.5 314.5L598.5 286.5L607.5 286.5L607.5 279.5L625.5 279.5L625.5 265.5L642.5 265.5L642.5 244.5L678.5 244.5L678.5 237.5" stroke="#deae3e" stroke-width="1.25" fill="none" stroke-linejoin="miter"/>
<path d="M553.5 362.5L553.5 355.5L562.5 355.5L562.5 349.5L571.5 349.5L571.5 307.5L598.5 307.5L598.5 300.5L625.5 300.5L625.5 293.5L633.5 293.5L633.5 265.5L642.5 265.5L642.5 258.5L651.5 258.5L651.5 244.5L669.5 244.5L669.5 237.5L678.5 237.5" stroke="#a2dc4c" stroke-width="1.25" fill="none" stroke-linejoin="miter"/>
<path d="M553.5 362.5L553.5 314.5L571.5 314.5L571.5 307.5L580.5 307.5L580.5 293.5L589.5 293.5L589.5 279.5L598.5 279.5L598.5 272.5L616.5 272.5L616.5 265.5L642.5 265.5L642.5 258.5L660.5 258.5L660.5 251.5L669.5 251.5L669.5 237.5L678.5 237.5" stroke="#72cc62" stroke-width="1.25" fill="none" stroke-linejoin="miter"/>
<path d="M553.5 362.5L553.5 355.5L562.5 355.5L562.5 342.5L571.5 342.5L571.5 314.5L580.5 314.5L580.5 307.5L589.5 307.5L589.5 300.5L598.5 300.5L598.5 293.5L607.5 293.5L607.5 286.5L616.5 286.5L616.5 279.5L633.5 279.5L633.5 265.5L660.5 265.5L660.5 258.5L669.5 258.5L669.5 237.5L678.5 237.5" stroke="#88dada" stroke-width="1.25" fill="none" stroke-linejoin="miter"/>
<path d="M553.5 362.5L553.5 342.5L571.5 342.5L571.5 328.5L589.5 328.5L589.5 307.5L598.5 307.5L598.5 279.5L616.5 279.5L616.5 251.5L642.5 251.5L642.5 237.5L678.5 237.5" stroke="#3a62bc" stroke-width="1.25" fill="none" stroke-linejoin="miter"/>
<path d="M553.5 362.5L553.5 349.5L562.5 349.5L562.5 335.5L580.5 335.5L580.5 328.5L589.5 328.5L589.5 321.5L598.5 321.5L598.5 307.5L607.5 307.5L607.5 279.5L616.5 279.5L616.5 265.5L625.5 265.5L625.5 258.5L651.5 258.5L651.5 251.5L660.5 251.5L660.5 237.5L678.5 237.5" stroke="#58389e" stroke-width="1.25" fill="none" stroke-linejoin="miter"/>
<path d="M553.5 362.5L553.5 355.5L562.5 355.5L562.5 328.5L580.5 328.5L580.5 314.5L598.5 314.5L598.5 286.5L607.5 286.5L607.5 272.5L625.5 272.5L625.5 265.5L651.5 265.5L651.5 237.5L678.5 237.5" stroke="#cf48b0" stroke-width="1.25" fill="none" stroke-linejoin="miter"/>
<rect x="548.6" y="232.9" width="135" height="135" fill="none" stroke="#8c8c8c" stroke-width="0.9"/>
<path d="M553.6 367.9v3.3M548.6 362.9h-3.3M578.6 367.9v3.3M548.6 337.9h-3.3M603.6 367.9v3.3M548.6 312.9h-3.3M628.6 367.9v3.3M548.6 287.9h-3.3M653.6 367.9v3.3M548.6 262.9h-3.3M678.6 367.9v3.3M548.6 237.9h-3.3" stroke="#8c8c8c" stroke-width="0.8"/>
<g font-size="6.5" fill="#161616" text-anchor="middle">
<text x="553.6" y="380.3">0.0</text>
<text x="578.6" y="380.3">0.2</text>
<text x="603.6" y="380.3">0.4</text>
<text x="628.6" y="380.3">0.6</text>
<text x="653.6" y="380.3">0.8</text>
<text x="678.6" y="380.3">1.0</text>
<text transform="translate(540 362.9) rotate(-90)" x="0" y="0">0.0</text>
<text transform="translate(540 337.9) rotate(-90)" x="0" y="0">0.2</text>
<text transform="translate(540 312.9) rotate(-90)" x="0" y="0">0.4</text>
<text transform="translate(540 287.9) rotate(-90)" x="0" y="0">0.6</text>
<text transform="translate(540 262.9) rotate(-90)" x="0" y="0">0.8</text>
<text transform="translate(540 237.9) rotate(-90)" x="0" y="0">1.0</text>
</g>
<text x="616.1" y="391.9" font-size="6.1" fill="#161616" text-anchor="middle">1 - Specificity</text>
<text transform="translate(528.2 300.4) rotate(-90)" font-size="6.1" fill="#161616" text-anchor="middle">Sensitivity</text>
<text x="616.1" y="227.9" font-size="7" font-weight="bold" fill="#111" text-anchor="middle">GSE48452</text>
<path d="M606.1 313.5h9.5" stroke="#e8262a" stroke-width="1.2"/>
<text x="619.5" y="315.3" font-size="5" fill="#111">DTNA, AUC=0.778</text>
<path d="M606.1 320.5h9.5" stroke="#deae3e" stroke-width="1.2"/>
<text x="619.5" y="322.17" font-size="5" fill="#111">ITGAX, AUC=0.639</text>
<path d="M606.1 327.5h9.5" stroke="#a2dc4c" stroke-width="1.2"/>
<text x="619.5" y="329.04" font-size="5" fill="#111">ARHGAP22, AUC=0.583</text>
<path d="M606.1 334.5h9.5" stroke="#72cc62" stroke-width="1.2"/>
<text x="619.5" y="335.91" font-size="5" fill="#111">DHRS9, AUC=0.690</text>
<path d="M606.1 340.5h9.5" stroke="#88dada" stroke-width="1.2"/>
<text x="619.5" y="342.78" font-size="5" fill="#111">TRPM2, AUC=0.623</text>
<path d="M606.1 347.5h9.5" stroke="#3a62bc" stroke-width="1.2"/>
<text x="619.5" y="349.65" font-size="5" fill="#111">RUNX2, AUC=0.667</text>
<path d="M606.1 354.5h9.5" stroke="#58389e" stroke-width="1.2"/>
<text x="619.5" y="356.52" font-size="5" fill="#111">AUTS2, AUC=0.607</text>
<path d="M606.1 361.5h9.5" stroke="#cf48b0" stroke-width="1.2"/>
<text x="619.5" y="363.39" font-size="5" fill="#111">TESK2, AUC=0.627</text>
<text x="508.6" y="209.5" font-size="23.5" fill="#000">E</text>
<path d="M356.4 571.2L481.4 446.2" stroke="#cfcfcf" stroke-width="0.8"/>
<path d="M356.5 571.5L361.5 571.5L361.5 553.5L366.5 553.5L366.5 517.5L370.5 517.5L370.5 499.5L380.5 499.5L380.5 481.5L418.5 481.5L418.5 464.5L452.5 464.5L452.5 446.5L481.5 446.5" stroke="#e8262a" stroke-width="1.25" fill="none" stroke-linejoin="miter"/>
<path d="M356.5 571.5L370.5 571.5L370.5 553.5L380.5 553.5L380.5 499.5L428.5 499.5L428.5 464.5L462.5 464.5L462.5 446.5L481.5 446.5" stroke="#deae3e" stroke-width="1.25" fill="none" stroke-linejoin="miter"/>
<path d="M356.5 571.5L370.5 571.5L370.5 553.5L380.5 553.5L380.5 517.5L385.5 517.5L385.5 499.5L414.5 499.5L414.5 464.5L452.5 464.5L452.5 446.5L481.5 446.5" stroke="#a2dc4c" stroke-width="1.25" fill="none" stroke-linejoin="miter"/>
<path d="M356.5 571.5L375.5 571.5L375.5 553.5L390.5 553.5L390.5 517.5L394.5 517.5L394.5 499.5L418.5 499.5L418.5 481.5L438.5 481.5L438.5 464.5L462.5 464.5L462.5 446.5L481.5 446.5" stroke="#72cc62" stroke-width="1.25" fill="none" stroke-linejoin="miter"/>
<path d="M356.5 571.5L370.5 571.5L370.5 553.5L375.5 553.5L375.5 517.5L380.5 517.5L380.5 499.5L414.5 499.5L414.5 481.5L452.5 481.5L452.5 464.5L466.5 464.5L466.5 446.5L481.5 446.5" stroke="#88dada" stroke-width="1.25" fill="none" stroke-linejoin="miter"/>
<path d="M356.5 571.5L375.5 571.5L375.5 553.5L380.5 553.5L380.5 535.5L394.5 535.5L394.5 517.5L399.5 517.5L399.5 481.5L418.5 481.5L418.5 464.5L433.5 464.5L433.5 446.5L481.5 446.5" stroke="#3a62bc" stroke-width="1.25" fill="none" stroke-linejoin="miter"/>
<path d="M356.5 571.5L361.5 571.5L361.5 553.5L366.5 553.5L366.5 535.5L399.5 535.5L399.5 517.5L404.5 517.5L404.5 499.5L409.5 499.5L409.5 464.5L481.5 464.5L481.5 446.5" stroke="#58389e" stroke-width="1.25" fill="none" stroke-linejoin="miter"/>
<path d="M356.5 571.5L356.5 553.5L370.5 553.5L370.5 535.5L375.5 535.5L375.5 517.5L390.5 517.5L390.5 499.5L394.5 499.5L394.5 481.5L452.5 481.5L452.5 464.5L462.5 464.5L462.5 446.5L481.5 446.5" stroke="#cf48b0" stroke-width="1.25" fill="none" stroke-linejoin="miter"/>
<rect x="351.4" y="441.2" width="135" height="135" fill="none" stroke="#8c8c8c" stroke-width="0.9"/>
<path d="M356.4 576.2v3.3M351.4 571.2h-3.3M381.4 576.2v3.3M351.4 546.2h-3.3M406.4 576.2v3.3M351.4 521.2h-3.3M431.4 576.2v3.3M351.4 496.2h-3.3M456.4 576.2v3.3M351.4 471.2h-3.3M481.4 576.2v3.3M351.4 446.2h-3.3" stroke="#8c8c8c" stroke-width="0.8"/>
<g font-size="6.5" fill="#161616" text-anchor="middle">
<text x="356.4" y="588.6">0.0</text>
<text x="381.4" y="588.6">0.2</text>
<text x="406.4" y="588.6">0.4</text>
<text x="431.4" y="588.6">0.6</text>
<text x="456.4" y="588.6">0.8</text>
<text x="481.4" y="588.6">1.0</text>
<text transform="translate(342.8 571.2) rotate(-90)" x="0" y="0">0.0</text>
<text transform="translate(342.8 546.2) rotate(-90)" x="0" y="0">0.2</text>
<text transform="translate(342.8 521.2) rotate(-90)" x="0" y="0">0.4</text>
<text transform="translate(342.8 496.2) rotate(-90)" x="0" y="0">0.6</text>
<text transform="translate(342.8 471.2) rotate(-90)" x="0" y="0">0.8</text>
<text transform="translate(342.8 446.2) rotate(-90)" x="0" y="0">1.0</text>
</g>
<text x="418.9" y="600.2" font-size="6.1" fill="#161616" text-anchor="middle">1 - Specificity</text>
<text transform="translate(331 508.7) rotate(-90)" font-size="6.1" fill="#161616" text-anchor="middle">Sensitivity</text>
<text x="418.9" y="436.2" font-size="7" font-weight="bold" fill="#111" text-anchor="middle">GSE66676</text>
<path d="M408.9 521.5h9.5" stroke="#e8262a" stroke-width="1.2"/>
<text x="422.3" y="523.6" font-size="5" fill="#111">DTNA, AUC=0.742</text>
<path d="M408.9 528.5h9.5" stroke="#deae3e" stroke-width="1.2"/>
<text x="422.3" y="530.47" font-size="5" fill="#111">ITGAX, AUC=0.621</text>
<path d="M408.9 535.5h9.5" stroke="#a2dc4c" stroke-width="1.2"/>
<text x="422.3" y="537.34" font-size="5" fill="#111">ARHGAP22, AUC=0.670</text>
<path d="M408.9 542.5h9.5" stroke="#72cc62" stroke-width="1.2"/>
<text x="422.3" y="544.21" font-size="5" fill="#111">DHRS9, AUC=0.571</text>
<path d="M408.9 549.5h9.5" stroke="#88dada" stroke-width="1.2"/>
<text x="422.3" y="551.08" font-size="5" fill="#111">TRPM2, AUC=0.604</text>
<path d="M408.9 556.5h9.5" stroke="#3a62bc" stroke-width="1.2"/>
<text x="422.3" y="557.95" font-size="5" fill="#111">RUNX2, AUC=0.648</text>
<path d="M408.9 563.5h9.5" stroke="#58389e" stroke-width="1.2"/>
<text x="422.3" y="564.82" font-size="5" fill="#111">AUTS2, AUC=0.615</text>
<path d="M408.9 569.5h9.5" stroke="#cf48b0" stroke-width="1.2"/>
<text x="422.3" y="571.69" font-size="5" fill="#111">TESK2, AUC=0.648</text>
<text x="305.4" y="412.2" font-size="23.5" fill="#000">F</text>
<path d="M553.6 571.2L678.6 446.2" stroke="#cfcfcf" stroke-width="0.8"/>
<path d="M553.5 571.5L553.5 505.5L572.5 505.5L572.5 479.5L597.5 479.5L597.5 472.5L603.5 472.5L603.5 465.5L609.5 465.5L609.5 459.5L634.5 459.5L634.5 452.5L647.5 452.5L647.5 446.5L678.5 446.5" stroke="#e8262a" stroke-width="1.25" fill="none" stroke-linejoin="miter"/>
<path d="M553.5 571.5L559.5 571.5L559.5 551.5L572.5 551.5L572.5 531.5L578.5 531.5L578.5 498.5L597.5 498.5L597.5 492.5L609.5 492.5L609.5 485.5L616.5 485.5L616.5 479.5L628.5 479.5L628.5 452.5L647.5 452.5L647.5 446.5L678.5 446.5" stroke="#deae3e" stroke-width="1.25" fill="none" stroke-linejoin="miter"/>
<path d="M553.5 571.5L559.5 571.5L559.5 544.5L572.5 544.5L572.5 525.5L578.5 525.5L578.5 518.5L591.5 518.5L591.5 511.5L609.5 511.5L609.5 498.5L616.5 498.5L616.5 492.5L622.5 492.5L622.5 472.5L628.5 472.5L628.5 465.5L653.5 465.5L653.5 446.5L678.5 446.5" stroke="#a2dc4c" stroke-width="1.25" fill="none" stroke-linejoin="miter"/>
<path d="M553.5 571.5L566.5 571.5L566.5 544.5L572.5 544.5L572.5 538.5L584.5 538.5L584.5 531.5L597.5 531.5L597.5 511.5L609.5 511.5L609.5 505.5L622.5 505.5L622.5 492.5L634.5 492.5L634.5 472.5L647.5 472.5L647.5 465.5L653.5 465.5L653.5 459.5L678.5 459.5L678.5 446.5" stroke="#72cc62" stroke-width="1.25" fill="none" stroke-linejoin="miter"/>
<path d="M553.5 571.5L578.5 571.5L578.5 558.5L584.5 558.5L584.5 551.5L591.5 551.5L591.5 544.5L609.5 544.5L609.5 505.5L616.5 505.5L616.5 498.5L628.5 498.5L628.5 479.5L641.5 479.5L641.5 452.5L666.5 452.5L666.5 446.5L678.5 446.5" stroke="#88dada" stroke-width="1.25" fill="none" stroke-linejoin="miter"/>
<path d="M553.5 571.5L572.5 571.5L572.5 551.5L584.5 551.5L584.5 538.5L591.5 538.5L591.5 518.5L603.5 518.5L603.5 511.5L616.5 511.5L616.5 492.5L628.5 492.5L628.5 485.5L634.5 485.5L634.5 465.5L659.5 465.5L659.5 452.5L678.5 452.5L678.5 446.5" stroke="#3a62bc" stroke-width="1.25" fill="none" stroke-linejoin="miter"/>
<path d="M553.5 571.5L559.5 571.5L559.5 551.5L572.5 551.5L572.5 544.5L578.5 544.5L578.5 531.5L584.5 531.5L584.5 518.5L597.5 518.5L597.5 511.5L603.5 511.5L603.5 465.5L609.5 465.5L609.5 459.5L628.5 459.5L628.5 446.5L678.5 446.5" stroke="#58389e" stroke-width="1.25" fill="none" stroke-linejoin="miter"/>
<path d="M553.5 571.5L553.5 564.5L572.5 564.5L572.5 558.5L584.5 558.5L584.5 511.5L591.5 511.5L591.5 505.5L597.5 505.5L597.5 492.5L603.5 492.5L603.5 485.5L622.5 485.5L622.5 479.5L628.5 479.5L628.5 472.5L634.5 472.5L634.5 465.5L666.5 465.5L666.5 459.5L672.5 459.5L672.5 446.5L678.5 446.5" stroke="#cf48b0" stroke-width="1.25" fill="none" stroke-linejoin="miter"/>
<rect x="548.6" y="441.2" width="135" height="135" fill="none" stroke="#8c8c8c" stroke-width="0.9"/>
<path d="M553.6 576.2v3.3M548.6 571.2h-3.3M578.6 576.2v3.3M548.6 546.2h-3.3M603.6 576.2v3.3M548.6 521.2h-3.3M628.6 576.2v3.3M548.6 496.2h-3.3M653.6 576.2v3.3M548.6 471.2h-3.3M678.6 576.2v3.3M548.6 446.2h-3.3" stroke="#8c8c8c" stroke-width="0.8"/>
<g font-size="6.5" fill="#161616" text-anchor="middle">
<text x="553.6" y="588.6">0.0</text>
<text x="578.6" y="588.6">0.2</text>
<text x="603.6" y="588.6">0.4</text>
<text x="628.6" y="588.6">0.6</text>
<text x="653.6" y="588.6">0.8</text>
<text x="678.6" y="588.6">1.0</text>
<text transform="translate(540 571.2) rotate(-90)" x="0" y="0">0.0</text>
<text transform="translate(540 546.2) rotate(-90)" x="0" y="0">0.2</text>
<text transform="translate(540 521.2) rotate(-90)" x="0" y="0">0.4</text>
<text transform="translate(540 496.2) rotate(-90)" x="0" y="0">0.6</text>
<text transform="translate(540 471.2) rotate(-90)" x="0" y="0">0.8</text>
<text transform="translate(540 446.2) rotate(-90)" x="0" y="0">1.0</text>
</g>
<text x="616.1" y="600.2" font-size="6.1" fill="#161616" text-anchor="middle">1 - Specificity</text>
<text transform="translate(528.2 508.7) rotate(-90)" font-size="6.1" fill="#161616" text-anchor="middle">Sensitivity</text>
<text x="616.1" y="436.2" font-size="7" font-weight="bold" fill="#111" text-anchor="middle">GSE89632</text>
<path d="M606.1 521.5h9.5" stroke="#e8262a" stroke-width="1.2"/>
<text x="619.5" y="523.6" font-size="5" fill="#111">DTNA, AUC=0.832</text>
<path d="M606.1 528.5h9.5" stroke="#deae3e" stroke-width="1.2"/>
<text x="619.5" y="530.47" font-size="5" fill="#111">ITGAX, AUC=0.663</text>
<path d="M606.1 535.5h9.5" stroke="#a2dc4c" stroke-width="1.2"/>
<text x="619.5" y="537.34" font-size="5" fill="#111">ARHGAP22, AUC=0.616</text>
<path d="M606.1 542.5h9.5" stroke="#72cc62" stroke-width="1.2"/>
<text x="619.5" y="544.21" font-size="5" fill="#111">DHRS9, AUC=0.571</text>
<path d="M606.1 549.5h9.5" stroke="#88dada" stroke-width="1.2"/>
<text x="619.5" y="551.08" font-size="5" fill="#111">TRPM2, AUC=0.495</text>
<path d="M606.1 556.5h9.5" stroke="#3a62bc" stroke-width="1.2"/>
<text x="619.5" y="557.95" font-size="5" fill="#111">RUNX2, AUC=0.526</text>
<path d="M606.1 563.5h9.5" stroke="#58389e" stroke-width="1.2"/>
<text x="619.5" y="564.82" font-size="5" fill="#111">AUTS2, AUC=0.684</text>
<path d="M606.1 569.5h9.5" stroke="#cf48b0" stroke-width="1.2"/>
<text x="619.5" y="571.69" font-size="5" fill="#111">TESK2, AUC=0.584</text>
<text x="497.4" y="412.3" font-size="23.5" fill="#000">G</text>
<text x="305.8" y="656" font-size="23.5" fill="#000">H</text>
<rect x="329.5" y="690.7" width="347.3" height="152.1" fill="#fff"/>
<path d="M329.5 822.52H676.8M329.5 794.38H676.8M329.5 766.23H676.8M329.5 738.08H676.8M329.5 709.93H676.8" stroke="#f3f3f3" stroke-width="0.5"/>
<path d="M329.5 836.6H676.8M329.5 808.45H676.8M329.5 780.3H676.8M329.5 752.15H676.8M329.5 724H676.8M329.5 695.85H676.8M354.9 690.7V842.8M397.3 690.7V842.8M439.7 690.7V842.8M482.1 690.7V842.8M524.5 690.7V842.8M566.9 690.7V842.8M609.3 690.7V842.8M651.7 690.7V842.8" stroke="#e6e6e6" stroke-width="0.9"/>
<path d="M347.15 831.65V832.83M347.15 835.14V836.04" stroke="#3a3a3a" stroke-width="0.75"/>
<rect x="339.9" y="832.83" width="14.5" height="2.31" fill="#e2ebf2" stroke="#3a3a3a" stroke-width="0.75"/>
<path d="M339.9 833.95h14.5" stroke="#2a2a2a" stroke-width="1.5"/>
<path d="M362.65 826.75V831.36M362.65 834.57V836.32" stroke="#3a3a3a" stroke-width="0.75"/>
<rect x="355.4" y="831.36" width="14.5" height="3.21" fill="#e7c1aa" stroke="#3a3a3a" stroke-width="0.75"/>
<path d="M355.4 832.83h14.5" stroke="#2a2a2a" stroke-width="1.5"/>
<circle cx="362.65" cy="825.9" r="1.35" fill="#a09890" fill-opacity="0.8"/>
<circle cx="362.65" cy="825.34" r="1.35" fill="#a09890" fill-opacity="0.8"/>
<circle cx="362.65" cy="824.78" r="1.35" fill="#a09890" fill-opacity="0.8"/>
<circle cx="362.65" cy="824.21" r="1.35" fill="#a09890" fill-opacity="0.8"/>
<circle cx="362.65" cy="823.65" r="1.35" fill="#a09890" fill-opacity="0.8"/>
<circle cx="362.65" cy="822.52" r="1.35" fill="#a09890" fill-opacity="0.8"/>
<circle cx="362.65" cy="821.4" r="1.35" fill="#a09890" fill-opacity="0.8"/>
<path d="M389.55 756.94V779.74M389.55 797.81V810.36" stroke="#3a3a3a" stroke-width="0.75"/>
<rect x="382.3" y="779.74" width="14.5" height="18.07" fill="#e2ebf2" stroke="#3a3a3a" stroke-width="0.75"/>
<path d="M382.3 787.62h14.5" stroke="#2a2a2a" stroke-width="1.5"/>
<circle cx="389.55" cy="742.69" r="1.35" fill="#a09890" fill-opacity="0.8"/>
<path d="M405.05 743.82V770.39M405.05 793.42V814.7" stroke="#3a3a3a" stroke-width="0.75"/>
<rect x="397.8" y="770.39" width="14.5" height="23.03" fill="#e7c1aa" stroke="#3a3a3a" stroke-width="0.75"/>
<path d="M397.8 782.61h14.5" stroke="#2a2a2a" stroke-width="1.5"/>
<circle cx="405.05" cy="734.19" r="1.35" fill="#a09890" fill-opacity="0.8"/>
<path d="M431.95 779.17V798.99M431.95 813.24V822.58" stroke="#3a3a3a" stroke-width="0.75"/>
<rect x="424.7" y="798.99" width="14.5" height="14.24" fill="#e2ebf2" stroke="#3a3a3a" stroke-width="0.75"/>
<path d="M424.7 805.97h14.5" stroke="#2a2a2a" stroke-width="1.5"/>
<circle cx="431.95" cy="771.86" r="1.35" fill="#a09890" fill-opacity="0.8"/>
<circle cx="431.95" cy="771.29" r="1.35" fill="#a09890" fill-opacity="0.8"/>
<circle cx="431.95" cy="758.4" r="1.35" fill="#a09890" fill-opacity="0.8"/>
<circle cx="431.95" cy="744.72" r="1.35" fill="#a09890" fill-opacity="0.8"/>
<path d="M447.45 736.95V778.27M447.45 806.25V824.33" stroke="#3a3a3a" stroke-width="0.75"/>
<rect x="440.2" y="778.27" width="14.5" height="27.98" fill="#e7c1aa" stroke="#3a3a3a" stroke-width="0.75"/>
<path d="M440.2 791.67h14.5" stroke="#2a2a2a" stroke-width="1.5"/>
<circle cx="447.45" cy="735.82" r="1.35" fill="#a09890" fill-opacity="0.8"/>
<circle cx="447.45" cy="734.13" r="1.35" fill="#a09890" fill-opacity="0.8"/>
<circle cx="447.45" cy="732.45" r="1.35" fill="#a09890" fill-opacity="0.8"/>
<circle cx="447.45" cy="730.19" r="1.35" fill="#a09890" fill-opacity="0.8"/>
<circle cx="447.45" cy="726.65" r="1.35" fill="#a09890" fill-opacity="0.8"/>
<path d="M474.35 810.93V822.3M474.35 833.39V835.47" stroke="#3a3a3a" stroke-width="0.75"/>
<rect x="467.1" y="822.3" width="14.5" height="11.09" fill="#e2ebf2" stroke="#3a3a3a" stroke-width="0.75"/>
<path d="M467.1 827.25h14.5" stroke="#2a2a2a" stroke-width="1.5"/>
<circle cx="474.35" cy="806.25" r="1.35" fill="#a09890" fill-opacity="0.8"/>
<circle cx="474.35" cy="791.39" r="1.35" fill="#a09890" fill-opacity="0.8"/>
<circle cx="474.35" cy="787.28" r="1.35" fill="#a09890" fill-opacity="0.8"/>
<path d="M489.85 755.81V795.16M489.85 823.48V834.57" stroke="#3a3a3a" stroke-width="0.75"/>
<rect x="482.6" y="795.16" width="14.5" height="28.32" fill="#e7c1aa" stroke="#3a3a3a" stroke-width="0.75"/>
<path d="M482.6 811.83h14.5" stroke="#2a2a2a" stroke-width="1.5"/>
<path d="M516.75 746.18V783.23M516.75 811.49V825.51" stroke="#3a3a3a" stroke-width="0.75"/>
<rect x="509.5" y="783.23" width="14.5" height="28.26" fill="#e2ebf2" stroke="#3a3a3a" stroke-width="0.75"/>
<path d="M509.5 805.41h14.5" stroke="#2a2a2a" stroke-width="1.5"/>
<path d="M532.25 711.45V766.28M532.25 803.66V825.51" stroke="#3a3a3a" stroke-width="0.75"/>
<rect x="525" y="766.28" width="14.5" height="37.38" fill="#e7c1aa" stroke="#3a3a3a" stroke-width="0.75"/>
<path d="M525 793.14h14.5" stroke="#2a2a2a" stroke-width="1.5"/>
<circle cx="532.25" cy="698.1" r="1.35" fill="#a09890" fill-opacity="0.8"/>
<path d="M559.15 825.51V829.28M559.15 833.39V835.7" stroke="#3a3a3a" stroke-width="0.75"/>
<rect x="551.9" y="829.28" width="14.5" height="4.11" fill="#e2ebf2" stroke="#3a3a3a" stroke-width="0.75"/>
<path d="M551.9 831.65h14.5" stroke="#2a2a2a" stroke-width="1.5"/>
<circle cx="559.15" cy="817.63" r="1.35" fill="#a09890" fill-opacity="0.8"/>
<path d="M574.65 819.15V826.07M574.65 831.93V835.7" stroke="#3a3a3a" stroke-width="0.75"/>
<rect x="567.4" y="826.07" width="14.5" height="5.86" fill="#e7c1aa" stroke="#3a3a3a" stroke-width="0.75"/>
<path d="M567.4 828.44h14.5" stroke="#2a2a2a" stroke-width="1.5"/>
<circle cx="574.65" cy="817.46" r="1.35" fill="#a09890" fill-opacity="0.8"/>
<circle cx="574.65" cy="816.89" r="1.35" fill="#a09890" fill-opacity="0.8"/>
<circle cx="574.65" cy="815.21" r="1.35" fill="#a09890" fill-opacity="0.8"/>
<circle cx="574.65" cy="814.08" r="1.35" fill="#a09890" fill-opacity="0.8"/>
<circle cx="574.65" cy="808.45" r="1.35" fill="#a09890" fill-opacity="0.8"/>
<path d="M601.55 714.37V730.98M601.55 748.49V771.86" stroke="#3a3a3a" stroke-width="0.75"/>
<rect x="594.3" y="730.98" width="14.5" height="17.51" fill="#e2ebf2" stroke="#3a3a3a" stroke-width="0.75"/>
<path d="M594.3 738.3h14.5" stroke="#2a2a2a" stroke-width="1.5"/>
<path d="M617.05 714.37V734.53M617.05 750.57V768.93" stroke="#3a3a3a" stroke-width="0.75"/>
<rect x="609.8" y="734.53" width="14.5" height="16.05" fill="#e7c1aa" stroke="#3a3a3a" stroke-width="0.75"/>
<path d="M609.8 743.54h14.5" stroke="#2a2a2a" stroke-width="1.5"/>
<circle cx="617.05" cy="775.35" r="1.35" fill="#a09890" fill-opacity="0.8"/>
<path d="M643.95 808.28V820.55M643.95 829.9V835.7" stroke="#3a3a3a" stroke-width="0.75"/>
<rect x="636.7" y="820.55" width="14.5" height="9.35" fill="#e2ebf2" stroke="#3a3a3a" stroke-width="0.75"/>
<path d="M636.7 824.66h14.5" stroke="#2a2a2a" stroke-width="1.5"/>
<circle cx="643.95" cy="797.53" r="1.35" fill="#a09890" fill-opacity="0.8"/>
<path d="M659.45 798.99V815.32M659.45 827.87V835.14" stroke="#3a3a3a" stroke-width="0.75"/>
<rect x="652.2" y="815.32" width="14.5" height="12.55" fill="#e7c1aa" stroke="#3a3a3a" stroke-width="0.75"/>
<path d="M652.2 821.46h14.5" stroke="#2a2a2a" stroke-width="1.5"/>
<circle cx="659.45" cy="794.94" r="1.35" fill="#a09890" fill-opacity="0.8"/>
<circle cx="659.45" cy="792.12" r="1.35" fill="#a09890" fill-opacity="0.8"/>
<circle cx="659.45" cy="787.62" r="1.35" fill="#a09890" fill-opacity="0.8"/>
<circle cx="659.45" cy="785.54" r="1.35" fill="#a09890" fill-opacity="0.8"/>
<circle cx="659.45" cy="769.6" r="1.35" fill="#a09890" fill-opacity="0.8"/>
<rect x="329.5" y="690.7" width="347.3" height="152.1" fill="none" stroke="#9a9a9a" stroke-width="0.8"/>
<path d="M329.5 836.6h-2.2M329.5 808.45h-2.2M329.5 780.3h-2.2M329.5 752.15h-2.2M329.5 724h-2.2M329.5 695.85h-2.2" stroke="#555" stroke-width="0.7"/>
<g font-size="7.2" fill="#4d4d4d" text-anchor="end">
<text x="326.6" y="839.2">0.0</text>
<text x="326.6" y="811.05">0.5</text>
<text x="326.6" y="782.9">1.0</text>
<text x="326.6" y="754.75">1.5</text>
<text x="326.6" y="726.6">2.0</text>
<text x="326.6" y="698.45">2.5</text>
</g>
<text transform="translate(313 766.95) rotate(-90)" font-size="8.3" fill="#1a1a1a" text-anchor="middle">Normalized Expression</text>
<path d="M354.9 842.8v2.2M397.3 842.8v2.2M439.7 842.8v2.2M482.1 842.8v2.2M524.5 842.8v2.2M566.9 842.8v2.2M609.3 842.8v2.2M651.7 842.8v2.2" stroke="#555" stroke-width="0.7"/>
<g font-size="9" fill="#1a1a1a" text-anchor="end">
<text transform="translate(359.4 851) rotate(-45)">ARHGAP22</text>
<text transform="translate(401.8 851) rotate(-45)">AUTS2</text>
<text transform="translate(444.2 851) rotate(-45)">DHRS9</text>
<text transform="translate(486.6 851) rotate(-45)">DTNA</text>
<text transform="translate(529 851) rotate(-45)">ITGAX</text>
<text transform="translate(571.4 851) rotate(-45)">RUNX2</text>
<text transform="translate(613.8 851) rotate(-45)">TESK2</text>
<text transform="translate(656.2 851) rotate(-45)">TRPM2</text>
</g>
<g font-size="8.2" fill="#222" text-anchor="middle">
<text x="354.9" y="705.6">***</text>
<text x="397.3" y="705.6">*</text>
<text x="439.7" y="705.6">***</text>
<text x="482.1" y="705.6">***</text>
<text x="524.5" y="705.6">***</text>
<text x="566.9" y="705.6">***</text>
<text x="609.3" y="705.2">ns</text>
<text x="651.7" y="705.6">*</text>
</g>
<text x="449.5" y="675.3" font-size="8.1" fill="#1a1a1a">Group</text>
<path d="M482.9 666V668.8M482.9 676.1V679" stroke="#3a3a3a" stroke-width="0.7"/>
<rect x="478" y="668.8" width="9.8" height="7.3" fill="#e2ebf2" stroke="#3a3a3a" stroke-width="0.7"/>
<path d="M478 672.45h9.8" stroke="#2a2a2a" stroke-width="1"/>
<text x="493.5" y="674.8" font-size="6.7" fill="#1a1a1a">MASLD</text>
<path d="M527 666V668.8M527 676.1V679" stroke="#3a3a3a" stroke-width="0.7"/>
<rect x="522.1" y="668.8" width="9.8" height="7.3" fill="#e7c1aa" stroke="#3a3a3a" stroke-width="0.7"/>
<path d="M522.1 672.45h9.8" stroke="#2a2a2a" stroke-width="1"/>
<text x="538" y="674.8" font-size="6.7" fill="#1a1a1a">MASH</text>
</svg></body></html>
